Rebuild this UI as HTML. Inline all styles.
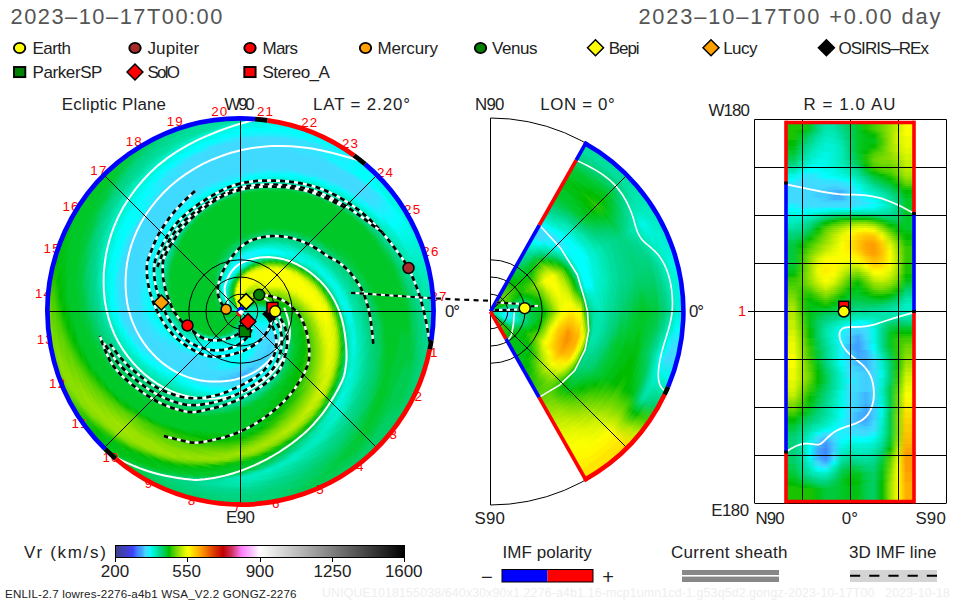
<!DOCTYPE html>
<html><head><meta charset="utf-8"><title>ENLIL solar wind velocity</title>
<style>
html,body{margin:0;padding:0;background:#fff}
body{width:960px;height:600px;overflow:hidden;position:relative;font-family:"Liberation Sans",sans-serif;color:#222}
.dk{position:absolute;border-radius:50%;overflow:hidden}
.dk i{position:absolute;border-radius:50%;display:block}
.rc{position:absolute;overflow:hidden}
.rc i{display:block;height:2px;width:100%}
.ov{position:absolute;left:0;top:0}
.t{position:absolute;white-space:nowrap;line-height:1}
</style></head>
<body>
<div class="dk" style="left:47.5px;top:118.5px;width:386.0px;height:386.0px">
<i style="left:0px;top:0px;right:0px;bottom:0px;background:conic-gradient(#00de9d 0deg,#00eab7 5deg,#00f8e8 10deg,#00f8e8 15deg,#00fefc 20deg,#00fefc 45deg,#00f8e8 50deg,#00f8e8 55deg,#00f1d3 60deg,#00f1d3 70deg,#00edc5 75deg,#00eab7 80deg,#00e5aa 85deg,#00de9d 90deg,#00d890 95deg,#00d890 105deg,#00d583 110deg,#00d276 115deg,#00d276 120deg,#00cf65 125deg,#00cf65 130deg,#00d276 135deg,#00d276 145deg,#00cf65 150deg,#00cf65 170deg,#00d276 175deg,#00d276 185deg,#00cf65 190deg,#00cf65 205deg,#00cd4f 210deg,#00ca3b 215deg,#00c828 220deg,#00c214 225deg,#00bc00 230deg,#1ac300 235deg,#1ac300 240deg,#56d200 245deg,#7ada00 250deg,#7ada00 265deg,#68d600 270deg,#56d200 275deg,#33c900 280deg,#00bc00 285deg,#00c214 290deg,#00c214 295deg,#00c828 300deg,#00c828 315deg,#00ca3b 320deg,#00cd4f 325deg,#00cf65 330deg,#00d276 335deg,#00d890 340deg,#00d890 345deg,#00de9d 350deg,#00de9d 360deg)"></i>
<i style="left:2px;top:2px;right:2px;bottom:2px;background:conic-gradient(#00de9d 0deg,#00f8e8 5deg,#00f8e8 10deg,#00fefc 15deg,#00fefc 30deg,#19f2ff 35deg,#00fefc 40deg,#00fefc 45deg,#00f8e8 50deg,#00f8e8 55deg,#00f1d3 60deg,#00f1d3 70deg,#00edc5 75deg,#00eab7 80deg,#00e5aa 85deg,#00de9d 90deg,#00d890 95deg,#00d890 100deg,#00d583 105deg,#00d276 110deg,#00d276 115deg,#00cf65 120deg,#00cf65 170deg,#00d276 175deg,#00d276 190deg,#00cf65 195deg,#00cf65 205deg,#00cd4f 210deg,#00ca3b 215deg,#00c828 220deg,#00c214 225deg,#00bc00 230deg,#1ac300 235deg,#44cd00 240deg,#68d600 245deg,#7ada00 250deg,#7ada00 265deg,#68d600 270deg,#44cd00 275deg,#1ac300 280deg,#00bc00 285deg,#00c214 290deg,#00c214 295deg,#00c828 300deg,#00c828 315deg,#00ca3b 320deg,#00cd4f 325deg,#00cf65 330deg,#00d583 335deg,#00d890 340deg,#00de9d 345deg,#00de9d 360deg)"></i>
<i style="left:4px;top:4px;right:4px;bottom:4px;background:conic-gradient(#00f8e8 0deg,#00f8e8 5deg,#00fefc 10deg,#00fefc 25deg,#19f2ff 30deg,#19f2ff 35deg,#00fefc 40deg,#00fefc 45deg,#00f8e8 50deg,#00f8e8 65deg,#00f1d3 70deg,#00edc5 75deg,#00eab7 80deg,#00e5aa 85deg,#00de9d 90deg,#00d890 95deg,#00d890 100deg,#00d583 105deg,#00d276 110deg,#00cf65 115deg,#00cf65 145deg,#00cd4f 150deg,#00cd4f 160deg,#00cf65 165deg,#00d276 170deg,#00d276 200deg,#00cf65 205deg,#00cd4f 210deg,#00cd4f 215deg,#00c828 220deg,#00c214 225deg,#00bc00 230deg,#1ac300 235deg,#56d200 240deg,#7ada00 245deg,#8ade00 250deg,#8ade00 255deg,#7ada00 260deg,#68d600 265deg,#56d200 270deg,#44cd00 275deg,#1ac300 280deg,#00c214 285deg,#00c214 290deg,#00c828 295deg,#00c828 315deg,#00ca3b 320deg,#00cd4f 325deg,#00d276 330deg,#00d583 335deg,#00d890 340deg,#00de9d 345deg,#00de9d 350deg,#00e5aa 355deg,#00f8e8 360deg)"></i>
<i style="left:6px;top:6px;right:6px;bottom:6px;background:conic-gradient(#00f8e8 0deg,#00f8e8 5deg,#00fefc 10deg,#00fefc 20deg,#19f2ff 25deg,#19f2ff 35deg,#00fefc 40deg,#00fefc 45deg,#00f8e8 50deg,#00f8e8 55deg,#00fefc 60deg,#00f8e8 65deg,#00f1d3 70deg,#00edc5 75deg,#00eab7 80deg,#00e5aa 85deg,#00de9d 90deg,#00d890 95deg,#00d583 100deg,#00d276 105deg,#00d276 110deg,#00cf65 115deg,#00cf65 140deg,#00cd4f 145deg,#00cd4f 160deg,#00cf65 165deg,#00d276 170deg,#00d276 175deg,#00d583 180deg,#00d583 185deg,#00d276 190deg,#00d276 200deg,#00cf65 205deg,#00cf65 210deg,#00ca3b 215deg,#00c214 220deg,#00c214 225deg,#00bc00 230deg,#33c900 235deg,#68d600 240deg,#8ade00 245deg,#8ade00 255deg,#7ada00 260deg,#68d600 265deg,#56d200 270deg,#33c900 275deg,#00bc00 280deg,#00c214 285deg,#00c214 290deg,#00c828 295deg,#00c828 315deg,#00ca3b 320deg,#00cf65 325deg,#00d583 330deg,#00d890 335deg,#00de9d 340deg,#00de9d 350deg,#00edc5 355deg,#00f8e8 360deg)"></i>
<i style="left:8px;top:8px;right:8px;bottom:8px;background:conic-gradient(#00f8e8 0deg,#00fefc 5deg,#00fefc 10deg,#19f2ff 15deg,#19f2ff 20deg,#36e1ff 25deg,#19f2ff 30deg,#19f2ff 35deg,#00fefc 40deg,#00fefc 60deg,#00f8e8 65deg,#00f1d3 70deg,#00edc5 75deg,#00eab7 80deg,#00e5aa 85deg,#00de9d 90deg,#00d890 95deg,#00d583 100deg,#00d276 105deg,#00cf65 110deg,#00cf65 115deg,#00cd4f 120deg,#00cf65 125deg,#00cf65 135deg,#00cd4f 140deg,#00cd4f 155deg,#00cf65 160deg,#00cf65 165deg,#00d276 170deg,#00d276 175deg,#00d583 180deg,#00d583 195deg,#00d276 200deg,#00d276 205deg,#00cf65 210deg,#00c828 215deg,#00c214 220deg,#00c214 225deg,#1ac300 230deg,#56d200 235deg,#8ade00 240deg,#8ade00 250deg,#7ada00 255deg,#68d600 260deg,#56d200 265deg,#44cd00 270deg,#1ac300 275deg,#00bc00 280deg,#00c214 285deg,#00c828 290deg,#00c828 310deg,#00ca3b 315deg,#00cd4f 320deg,#00d276 325deg,#00d583 330deg,#00d890 335deg,#00de9d 340deg,#00de9d 345deg,#00e5aa 350deg,#00f8e8 355deg,#00f8e8 360deg)"></i>
<i style="left:10px;top:10px;right:10px;bottom:10px;background:conic-gradient(#00fefc 0deg,#00fefc 5deg,#19f2ff 10deg,#19f2ff 15deg,#36e1ff 20deg,#36e1ff 25deg,#19f2ff 30deg,#19f2ff 35deg,#00fefc 40deg,#00fefc 45deg,#19f2ff 50deg,#19f2ff 55deg,#00fefc 60deg,#00f8e8 65deg,#00f1d3 70deg,#00edc5 75deg,#00e5aa 80deg,#00de9d 85deg,#00d890 90deg,#00d583 95deg,#00d276 100deg,#00cf65 105deg,#00cf65 110deg,#00cd4f 115deg,#00cd4f 120deg,#00cf65 125deg,#00cf65 130deg,#00cd4f 135deg,#00cd4f 145deg,#00ca3b 150deg,#00cd4f 155deg,#00cf65 160deg,#00d276 165deg,#00d276 170deg,#00d583 175deg,#00d583 200deg,#00d276 205deg,#00cd4f 210deg,#00c214 215deg,#00c214 225deg,#33c900 230deg,#7ada00 235deg,#8ade00 240deg,#8ade00 250deg,#7ada00 255deg,#68d600 260deg,#56d200 265deg,#33c900 270deg,#00bc00 275deg,#00c214 280deg,#00c214 285deg,#00c828 290deg,#00c828 305deg,#00ca3b 310deg,#00ca3b 315deg,#00cf65 320deg,#00d583 325deg,#00d890 330deg,#00de9d 335deg,#00de9d 340deg,#00e5aa 345deg,#00f1d3 350deg,#00f8e8 355deg,#00fefc 360deg)"></i>
<i style="left:12px;top:12px;right:12px;bottom:12px;background:conic-gradient(#00fefc 0deg,#19f2ff 5deg,#19f2ff 10deg,#36e1ff 15deg,#36e1ff 25deg,#19f2ff 30deg,#19f2ff 35deg,#00fefc 40deg,#19f2ff 45deg,#36e1ff 50deg,#19f2ff 55deg,#00fefc 60deg,#00f8e8 65deg,#00f1d3 70deg,#00eab7 75deg,#00e5aa 80deg,#00de9d 85deg,#00d890 90deg,#00d276 95deg,#00d276 100deg,#00cf65 105deg,#00cd4f 110deg,#00cd4f 120deg,#00cf65 125deg,#00cd4f 130deg,#00cd4f 135deg,#00ca3b 140deg,#00ca3b 145deg,#00cd4f 150deg,#00cf65 155deg,#00cf65 160deg,#00d276 165deg,#00d276 170deg,#00d583 175deg,#00d890 180deg,#00d890 190deg,#00d583 195deg,#00d583 200deg,#00cf65 205deg,#00c828 210deg,#00c214 215deg,#00c214 220deg,#1ac300 225deg,#56d200 230deg,#8ade00 235deg,#8ade00 245deg,#7ada00 250deg,#68d600 255deg,#68d600 260deg,#44cd00 265deg,#1ac300 270deg,#00bc00 275deg,#00c214 280deg,#00c828 285deg,#00c828 305deg,#00ca3b 310deg,#00cd4f 315deg,#00d276 320deg,#00d583 325deg,#00d890 330deg,#00de9d 335deg,#00e5aa 340deg,#00edc5 345deg,#00f8e8 350deg,#00f8e8 355deg,#00fefc 360deg)"></i>
<i style="left:14px;top:14px;right:14px;bottom:14px;background:conic-gradient(#00fefc 0deg,#19f2ff 5deg,#36e1ff 10deg,#40dbff 15deg,#36e1ff 20deg,#36e1ff 25deg,#19f2ff 30deg,#19f2ff 40deg,#40dbff 45deg,#36e1ff 50deg,#19f2ff 55deg,#00fefc 60deg,#00f8e8 65deg,#00f1d3 70deg,#00eab7 75deg,#00e5aa 80deg,#00d890 85deg,#00d583 90deg,#00d276 95deg,#00cf65 100deg,#00cd4f 105deg,#00cd4f 130deg,#00ca3b 135deg,#00ca3b 145deg,#00cd4f 150deg,#00cf65 155deg,#00cf65 160deg,#00d276 165deg,#00d583 170deg,#00d890 175deg,#00d890 195deg,#00d583 200deg,#00cd4f 205deg,#00c214 210deg,#00c214 215deg,#00bc00 220deg,#44cd00 225deg,#7ada00 230deg,#8ade00 235deg,#99e200 240deg,#8ade00 245deg,#7ada00 250deg,#68d600 255deg,#56d200 260deg,#33c900 265deg,#00bc00 270deg,#00c214 275deg,#00c214 280deg,#00c828 285deg,#00c828 300deg,#00ca3b 305deg,#00ca3b 310deg,#00cf65 315deg,#00d583 320deg,#00d890 325deg,#00de9d 330deg,#00de9d 335deg,#00eab7 340deg,#00f1d3 345deg,#00f8e8 350deg,#00fefc 355deg,#00fefc 360deg)"></i>
<i style="left:16px;top:16px;right:16px;bottom:16px;background:conic-gradient(#19f2ff 0deg,#36e1ff 5deg,#40dbff 10deg,#40dbff 15deg,#36e1ff 20deg,#36e1ff 25deg,#19f2ff 30deg,#19f2ff 35deg,#40dbff 40deg,#40dbff 45deg,#36e1ff 50deg,#19f2ff 55deg,#00fefc 60deg,#00f8e8 65deg,#00edc5 70deg,#00eab7 75deg,#00de9d 80deg,#00d890 85deg,#00d276 90deg,#00cf65 95deg,#00cd4f 100deg,#00ca3b 105deg,#00cd4f 110deg,#00cd4f 125deg,#00ca3b 130deg,#00ca3b 145deg,#00cd4f 150deg,#00cf65 155deg,#00d276 160deg,#00d583 165deg,#00d583 170deg,#00d890 175deg,#00de9d 180deg,#00de9d 190deg,#00d890 195deg,#00d276 200deg,#00c828 205deg,#00c214 210deg,#00c214 215deg,#1ac300 220deg,#68d600 225deg,#8ade00 230deg,#99e200 235deg,#99e200 240deg,#8ade00 245deg,#7ada00 250deg,#68d600 255deg,#44cd00 260deg,#1ac300 265deg,#00bc00 270deg,#00c214 275deg,#00c828 280deg,#00c828 295deg,#00ca3b 300deg,#00ca3b 305deg,#00cd4f 310deg,#00d276 315deg,#00d583 320deg,#00d890 325deg,#00de9d 330deg,#00e5aa 335deg,#00f1d3 340deg,#00f8e8 345deg,#00f8e8 350deg,#00fefc 355deg,#19f2ff 360deg)"></i>
<i style="left:18px;top:18px;right:18px;bottom:18px;background:conic-gradient(#36e1ff 0deg,#40dbff 5deg,#40dbff 15deg,#36e1ff 20deg,#36e1ff 30deg,#40dbff 35deg,#40dbff 45deg,#36e1ff 50deg,#19f2ff 55deg,#00fefc 60deg,#00f1d3 65deg,#00eab7 70deg,#00e5aa 75deg,#00d890 80deg,#00d583 85deg,#00cf65 90deg,#00cf65 95deg,#00cd4f 100deg,#00ca3b 105deg,#00cd4f 110deg,#00cd4f 120deg,#00ca3b 125deg,#00ca3b 130deg,#00c828 135deg,#00ca3b 140deg,#00cd4f 145deg,#00cf65 150deg,#00cf65 155deg,#00d276 160deg,#00d583 165deg,#00d890 170deg,#00de9d 175deg,#00e5aa 180deg,#00e5aa 185deg,#00de9d 190deg,#00d890 195deg,#00ca3b 200deg,#00c828 205deg,#00c214 210deg,#00bc00 215deg,#56d200 220deg,#8ade00 225deg,#99e200 230deg,#99e200 235deg,#8ade00 240deg,#7ada00 245deg,#68d600 250deg,#56d200 255deg,#33c900 260deg,#00bc00 265deg,#00c214 270deg,#00c828 275deg,#00c828 290deg,#00ca3b 295deg,#00ca3b 300deg,#00cd4f 305deg,#00cf65 310deg,#00d583 315deg,#00d890 320deg,#00de9d 325deg,#00e5aa 330deg,#00edc5 335deg,#00f1d3 340deg,#00f8e8 345deg,#00fefc 350deg,#19f2ff 355deg,#36e1ff 360deg)"></i>
<i style="left:20px;top:20px;right:20px;bottom:20px;background:conic-gradient(#40dbff 0deg,#40d9ff 5deg,#40dbff 10deg,#40dbff 15deg,#36e1ff 20deg,#36e1ff 25deg,#40dbff 30deg,#40dbff 50deg,#19f2ff 55deg,#00f8e8 60deg,#00edc5 65deg,#00eab7 70deg,#00de9d 75deg,#00d583 80deg,#00d276 85deg,#00cf65 90deg,#00cd4f 95deg,#00ca3b 100deg,#00ca3b 105deg,#00cd4f 110deg,#00cd4f 115deg,#00ca3b 120deg,#00ca3b 130deg,#00c828 135deg,#00ca3b 140deg,#00cd4f 145deg,#00cf65 150deg,#00d276 155deg,#00d583 160deg,#00d583 165deg,#00d890 170deg,#00de9d 175deg,#00e5aa 180deg,#00e5aa 185deg,#00de9d 190deg,#00d276 195deg,#00c828 200deg,#00c214 205deg,#00c214 210deg,#33c900 215deg,#7ada00 220deg,#99e200 225deg,#99e200 235deg,#8ade00 240deg,#7ada00 245deg,#68d600 250deg,#44cd00 255deg,#1ac300 260deg,#00bc00 265deg,#00c214 270deg,#00c828 275deg,#00c828 290deg,#00ca3b 295deg,#00ca3b 300deg,#00cf65 305deg,#00d276 310deg,#00d583 315deg,#00d890 320deg,#00de9d 325deg,#00eab7 330deg,#00f1d3 335deg,#00f8e8 340deg,#00fefc 345deg,#00fefc 350deg,#19f2ff 355deg,#40dbff 360deg)"></i>
<i style="left:22px;top:22px;right:22px;bottom:22px;background:conic-gradient(#40d9ff 0deg,#40d9ff 5deg,#40dbff 10deg,#40dbff 15deg,#36e1ff 20deg,#40dbff 25deg,#40dbff 35deg,#40d9ff 40deg,#40d9ff 45deg,#36e1ff 50deg,#19f2ff 55deg,#00f1d3 60deg,#00edc5 65deg,#00e5aa 70deg,#00d890 75deg,#00d583 80deg,#00cf65 85deg,#00cd4f 90deg,#00ca3b 95deg,#00ca3b 125deg,#00c828 130deg,#00ca3b 135deg,#00cd4f 140deg,#00cf65 145deg,#00cf65 150deg,#00d276 155deg,#00d583 160deg,#00d890 165deg,#00de9d 170deg,#00e5aa 175deg,#00eab7 180deg,#00e5aa 185deg,#00d890 190deg,#00c828 195deg,#00c828 200deg,#00c214 205deg,#00bc00 210deg,#56d200 215deg,#8ade00 220deg,#99e200 225deg,#99e200 230deg,#8ade00 235deg,#7ada00 240deg,#68d600 245deg,#56d200 250deg,#33c900 255deg,#00bc00 260deg,#00c214 265deg,#00c828 270deg,#00c828 285deg,#00ca3b 290deg,#00ca3b 295deg,#00cd4f 300deg,#00d276 305deg,#00d583 310deg,#00d890 315deg,#00de9d 320deg,#00e5aa 325deg,#00f1d3 330deg,#00f8e8 335deg,#00f8e8 340deg,#00fefc 345deg,#19f2ff 350deg,#36e1ff 355deg,#40d9ff 360deg)"></i>
<i style="left:24px;top:24px;right:24px;bottom:24px;background:conic-gradient(#40d9ff 0deg,#40d9ff 5deg,#40dbff 10deg,#40dbff 20deg,#40d9ff 25deg,#40d9ff 40deg,#40dbff 45deg,#36e1ff 50deg,#00fefc 55deg,#00f1d3 60deg,#00eab7 65deg,#00de9d 70deg,#00d583 75deg,#00d276 80deg,#00cd4f 85deg,#00ca3b 90deg,#00c828 95deg,#00ca3b 100deg,#00ca3b 120deg,#00c828 125deg,#00c828 130deg,#00ca3b 135deg,#00cd4f 140deg,#00cf65 145deg,#00d276 150deg,#00d583 155deg,#00d890 160deg,#00de9d 165deg,#00e5aa 170deg,#00eab7 175deg,#00eab7 180deg,#00e5aa 185deg,#00cd4f 190deg,#00c828 195deg,#00c214 200deg,#00bc00 205deg,#44cd00 210deg,#7ada00 215deg,#99e200 220deg,#99e200 230deg,#8ade00 235deg,#7ada00 240deg,#68d600 245deg,#44cd00 250deg,#1ac300 255deg,#00bc00 260deg,#00c214 265deg,#00c828 270deg,#00c828 280deg,#00ca3b 285deg,#00ca3b 290deg,#00cd4f 295deg,#00cf65 300deg,#00d276 305deg,#00d890 310deg,#00de9d 315deg,#00e5aa 320deg,#00edc5 325deg,#00f1d3 330deg,#00f8e8 335deg,#00fefc 340deg,#00fefc 345deg,#36e1ff 350deg,#40d9ff 355deg,#40d9ff 360deg)"></i>
<i style="left:26px;top:26px;right:26px;bottom:26px;background:conic-gradient(#40d9ff 0deg,#40d9ff 5deg,#40dbff 10deg,#40dbff 15deg,#40d9ff 20deg,#40d9ff 35deg,#40dbff 40deg,#40dbff 45deg,#19f2ff 50deg,#00f8e8 55deg,#00edc5 60deg,#00e5aa 65deg,#00d890 70deg,#00d276 75deg,#00cf65 80deg,#00ca3b 85deg,#00c828 90deg,#00c828 95deg,#00ca3b 100deg,#00ca3b 115deg,#00c828 120deg,#00c828 125deg,#00ca3b 130deg,#00cd4f 135deg,#00cf65 140deg,#00d276 145deg,#00d276 150deg,#00d583 155deg,#00d890 160deg,#00de9d 165deg,#00e5aa 170deg,#00eab7 175deg,#00edc5 180deg,#00d890 185deg,#00c828 190deg,#00c828 195deg,#00c214 200deg,#1ac300 205deg,#68d600 210deg,#99e200 215deg,#99e200 220deg,#a8e600 225deg,#99e200 230deg,#8ade00 235deg,#68d600 240deg,#56d200 245deg,#33c900 250deg,#00bc00 255deg,#00c214 260deg,#00c828 265deg,#00c828 275deg,#00ca3b 280deg,#00ca3b 285deg,#00cd4f 290deg,#00cf65 295deg,#00d276 300deg,#00d583 305deg,#00d890 310deg,#00de9d 315deg,#00eab7 320deg,#00f1d3 325deg,#00f8e8 330deg,#00f8e8 335deg,#00fefc 340deg,#19f2ff 345deg,#40dbff 350deg,#40d9ff 355deg,#40d9ff 360deg)"></i>
<i style="left:28px;top:28px;right:28px;bottom:28px;background:conic-gradient(#40d9ff 0deg,#40d9ff 35deg,#40dbff 40deg,#36e1ff 45deg,#00fefc 50deg,#00f1d3 55deg,#00eab7 60deg,#00de9d 65deg,#00d583 70deg,#00cf65 75deg,#00cd4f 80deg,#00ca3b 85deg,#00c828 90deg,#00c828 95deg,#00ca3b 100deg,#00ca3b 115deg,#00c828 120deg,#00c828 125deg,#00ca3b 130deg,#00cd4f 135deg,#00cf65 140deg,#00d276 145deg,#00d583 150deg,#00d890 155deg,#00de9d 160deg,#00e5aa 165deg,#00eab7 170deg,#00edc5 175deg,#00e5aa 180deg,#00ca3b 185deg,#00c828 190deg,#00c214 195deg,#00bc00 200deg,#56d200 205deg,#8ade00 210deg,#99e200 215deg,#99e200 225deg,#8ade00 230deg,#7ada00 235deg,#68d600 240deg,#44cd00 245deg,#1ac300 250deg,#00c214 255deg,#00c828 260deg,#00c828 275deg,#00ca3b 280deg,#00ca3b 285deg,#00cd4f 290deg,#00d276 295deg,#00d583 300deg,#00d890 305deg,#00de9d 310deg,#00eab7 315deg,#00edc5 320deg,#00f1d3 325deg,#00f8e8 330deg,#00fefc 335deg,#19f2ff 340deg,#36e1ff 345deg,#40dbff 350deg,#40d9ff 355deg,#40d9ff 360deg)"></i>
<i style="left:30px;top:30px;right:30px;bottom:30px;background:conic-gradient(#40d9ff 0deg,#40d9ff 30deg,#40dbff 35deg,#40dbff 40deg,#19f2ff 45deg,#00f8e8 50deg,#00edc5 55deg,#00e5aa 60deg,#00d890 65deg,#00d276 70deg,#00cd4f 75deg,#00ca3b 80deg,#00c828 85deg,#00c828 95deg,#00ca3b 100deg,#00ca3b 110deg,#00c828 115deg,#00c828 120deg,#00ca3b 125deg,#00cd4f 130deg,#00cf65 135deg,#00d276 140deg,#00d583 145deg,#00d890 150deg,#00de9d 155deg,#00de9d 160deg,#00e5aa 165deg,#00edc5 170deg,#00eab7 175deg,#00d276 180deg,#00c828 185deg,#00c828 190deg,#00c214 195deg,#33c900 200deg,#7ada00 205deg,#99e200 210deg,#99e200 225deg,#8ade00 230deg,#68d600 235deg,#56d200 240deg,#33c900 245deg,#00bc00 250deg,#00c214 255deg,#00c828 260deg,#00c828 270deg,#00ca3b 275deg,#00ca3b 280deg,#00cd4f 285deg,#00cf65 290deg,#00d276 295deg,#00d890 300deg,#00de9d 305deg,#00e5aa 310deg,#00edc5 315deg,#00f1d3 320deg,#00f8e8 325deg,#00fefc 330deg,#00fefc 335deg,#36e1ff 340deg,#40dbff 345deg,#40d9ff 350deg,#40d9ff 360deg)"></i>
<i style="left:32px;top:32px;right:32px;bottom:32px;background:conic-gradient(#40d9ff 0deg,#40d9ff 25deg,#40dbff 30deg,#40dbff 35deg,#19f2ff 40deg,#00fefc 45deg,#00f1d3 50deg,#00eab7 55deg,#00de9d 60deg,#00d583 65deg,#00cd4f 70deg,#00ca3b 75deg,#00c828 80deg,#00c828 120deg,#00ca3b 125deg,#00cd4f 130deg,#00cf65 135deg,#00d276 140deg,#00d583 145deg,#00d890 150deg,#00de9d 155deg,#00e5aa 160deg,#00eab7 165deg,#00edc5 170deg,#00de9d 175deg,#00ca3b 180deg,#00c828 185deg,#00c214 190deg,#00bc00 195deg,#68d600 200deg,#99e200 205deg,#99e200 220deg,#8ade00 225deg,#7ada00 230deg,#68d600 235deg,#44cd00 240deg,#1ac300 245deg,#00c214 250deg,#00c828 255deg,#00c828 265deg,#00ca3b 270deg,#00ca3b 275deg,#00cd4f 280deg,#00cf65 285deg,#00d276 290deg,#00d583 295deg,#00d890 300deg,#00de9d 305deg,#00eab7 310deg,#00f1d3 315deg,#00f8e8 320deg,#00f8e8 325deg,#00fefc 330deg,#19f2ff 335deg,#36e1ff 340deg,#40dbff 345deg,#40d9ff 350deg,#40d9ff 360deg)"></i>
<i style="left:34px;top:34px;right:34px;bottom:34px;background:conic-gradient(#40d9ff 0deg,#40d9ff 25deg,#40dbff 30deg,#36e1ff 35deg,#00fefc 40deg,#00f1d3 45deg,#00edc5 50deg,#00de9d 55deg,#00d583 60deg,#00cf65 65deg,#00ca3b 70deg,#00c828 75deg,#00c828 115deg,#00ca3b 120deg,#00cd4f 125deg,#00cf65 130deg,#00d276 135deg,#00d583 140deg,#00d890 145deg,#00de9d 150deg,#00e5aa 155deg,#00eab7 160deg,#00edc5 165deg,#00e5aa 170deg,#00cd4f 175deg,#00c828 180deg,#00c828 185deg,#00c214 190deg,#44cd00 195deg,#7ada00 200deg,#99e200 205deg,#99e200 215deg,#8ade00 220deg,#8ade00 225deg,#68d600 230deg,#56d200 235deg,#33c900 240deg,#00bc00 245deg,#00c828 250deg,#00c828 265deg,#00ca3b 270deg,#00ca3b 275deg,#00cf65 280deg,#00d276 285deg,#00d583 290deg,#00d890 295deg,#00de9d 300deg,#00eab7 305deg,#00edc5 310deg,#00f1d3 315deg,#00f8e8 320deg,#00fefc 325deg,#19f2ff 330deg,#36e1ff 335deg,#40dbff 340deg,#40dbff 345deg,#40d9ff 350deg,#40d9ff 360deg)"></i>
<i style="left:36px;top:36px;right:36px;bottom:36px;background:conic-gradient(#40d9ff 0deg,#40d9ff 20deg,#40dbff 25deg,#36e1ff 30deg,#19f2ff 35deg,#00f8e8 40deg,#00f1d3 45deg,#00e5aa 50deg,#00d890 55deg,#00d276 60deg,#00cd4f 65deg,#00ca3b 70deg,#00c828 75deg,#00c828 110deg,#00ca3b 115deg,#00cd4f 120deg,#00cf65 125deg,#00d276 130deg,#00d276 135deg,#00d583 140deg,#00d890 145deg,#00de9d 150deg,#00e5aa 155deg,#00edc5 160deg,#00eab7 165deg,#00d583 170deg,#00cd4f 175deg,#00c828 180deg,#00c214 185deg,#00bc00 190deg,#68d600 195deg,#99e200 200deg,#8ade00 205deg,#8ade00 215deg,#7ada00 220deg,#7ada00 225deg,#68d600 230deg,#44cd00 235deg,#1ac300 240deg,#00c214 245deg,#00c828 250deg,#00c828 260deg,#00ca3b 265deg,#00ca3b 270deg,#00cd4f 275deg,#00cf65 280deg,#00d276 285deg,#00d583 290deg,#00de9d 295deg,#00e5aa 300deg,#00edc5 305deg,#00f1d3 310deg,#00f8e8 315deg,#00f8e8 320deg,#00fefc 325deg,#19f2ff 330deg,#36e1ff 335deg,#40dbff 340deg,#40dbff 345deg,#40d9ff 350deg,#40d9ff 360deg)"></i>
<i style="left:38px;top:38px;right:38px;bottom:38px;background:conic-gradient(#40d9ff 0deg,#40d9ff 20deg,#40dbff 25deg,#19f2ff 30deg,#00fefc 35deg,#00f1d3 40deg,#00eab7 45deg,#00de9d 50deg,#00d583 55deg,#00cd4f 60deg,#00ca3b 65deg,#00c828 70deg,#00c828 110deg,#00ca3b 115deg,#00cd4f 120deg,#00cf65 125deg,#00d276 130deg,#00d583 135deg,#00d890 140deg,#00de9d 145deg,#00e5aa 150deg,#00eab7 155deg,#00edc5 160deg,#00de9d 165deg,#00cf65 170deg,#00ca3b 175deg,#00c828 180deg,#00c214 185deg,#56d200 190deg,#8ade00 195deg,#99e200 200deg,#8ade00 205deg,#8ade00 210deg,#7ada00 215deg,#7ada00 220deg,#68d600 225deg,#56d200 230deg,#33c900 235deg,#00bc00 240deg,#00c828 245deg,#00c828 260deg,#00ca3b 265deg,#00cd4f 270deg,#00cf65 275deg,#00d276 280deg,#00d583 285deg,#00d890 290deg,#00de9d 295deg,#00eab7 300deg,#00f1d3 305deg,#00f1d3 310deg,#00f8e8 315deg,#00fefc 320deg,#19f2ff 325deg,#36e1ff 330deg,#36e1ff 335deg,#40dbff 340deg,#40dbff 345deg,#40d9ff 350deg,#40d9ff 360deg)"></i>
<i style="left:40px;top:40px;right:40px;bottom:40px;background:conic-gradient(#40d9ff 0deg,#40d9ff 15deg,#40dbff 20deg,#36e1ff 25deg,#00fefc 30deg,#00f8e8 35deg,#00edc5 40deg,#00e5aa 45deg,#00d890 50deg,#00cf65 55deg,#00ca3b 60deg,#00c828 65deg,#00c828 105deg,#00ca3b 110deg,#00cd4f 115deg,#00cf65 120deg,#00d276 125deg,#00d583 130deg,#00d890 135deg,#00de9d 140deg,#00e5aa 145deg,#00eab7 150deg,#00edc5 155deg,#00eab7 160deg,#00d276 165deg,#00cd4f 170deg,#00c828 175deg,#00c214 180deg,#1ac300 185deg,#7ada00 190deg,#99e200 195deg,#8ade00 200deg,#8ade00 205deg,#7ada00 210deg,#7ada00 215deg,#68d600 220deg,#68d600 225deg,#44cd00 230deg,#00bc00 235deg,#00c828 240deg,#00c828 255deg,#00ca3b 260deg,#00ca3b 265deg,#00cf65 270deg,#00d276 275deg,#00d583 280deg,#00d890 285deg,#00de9d 290deg,#00eab7 295deg,#00edc5 300deg,#00f1d3 305deg,#00f8e8 310deg,#00f8e8 315deg,#00fefc 320deg,#19f2ff 325deg,#36e1ff 330deg,#36e1ff 335deg,#40dbff 340deg,#40d9ff 345deg,#40d9ff 360deg)"></i>
<i style="left:42px;top:42px;right:42px;bottom:42px;background:conic-gradient(#40d9ff 0deg,#40d9ff 10deg,#40dbff 15deg,#36e1ff 20deg,#19f2ff 25deg,#00f8e8 30deg,#00f1d3 35deg,#00eab7 40deg,#00de9d 45deg,#00d276 50deg,#00ca3b 55deg,#00c828 60deg,#00c828 105deg,#00ca3b 110deg,#00cf65 115deg,#00cf65 120deg,#00d276 125deg,#00d583 130deg,#00d890 135deg,#00de9d 140deg,#00eab7 145deg,#00edc5 150deg,#00eab7 155deg,#00de9d 160deg,#00d276 165deg,#00ca3b 170deg,#00c828 175deg,#00c214 180deg,#68d600 185deg,#99e200 190deg,#99e200 195deg,#8ade00 200deg,#7ada00 205deg,#68d600 210deg,#68d600 215deg,#56d200 220deg,#56d200 225deg,#1ac300 230deg,#00c214 235deg,#00c828 240deg,#00c828 255deg,#00ca3b 260deg,#00cd4f 265deg,#00cf65 270deg,#00d276 275deg,#00d583 280deg,#00d890 285deg,#00e5aa 290deg,#00edc5 295deg,#00f1d3 300deg,#00f8e8 305deg,#00f8e8 310deg,#00fefc 315deg,#00fefc 320deg,#19f2ff 325deg,#36e1ff 330deg,#36e1ff 335deg,#40d9ff 340deg,#40d9ff 360deg)"></i>
<i style="left:44px;top:44px;right:44px;bottom:44px;background:conic-gradient(#40d9ff 0deg,#40d9ff 10deg,#40dbff 15deg,#19f2ff 20deg,#00fefc 25deg,#00f1d3 30deg,#00edc5 35deg,#00de9d 40deg,#00d583 45deg,#00cd4f 50deg,#00c828 55deg,#00c828 100deg,#00ca3b 105deg,#00cd4f 110deg,#00cf65 115deg,#00d276 120deg,#00d583 125deg,#00d890 130deg,#00de9d 135deg,#00e5aa 140deg,#00eab7 145deg,#00edc5 150deg,#00e5aa 155deg,#00d583 160deg,#00cd4f 165deg,#00c828 170deg,#00c214 175deg,#44cd00 180deg,#8ade00 185deg,#99e200 190deg,#8ade00 195deg,#7ada00 200deg,#68d600 205deg,#68d600 210deg,#56d200 215deg,#56d200 220deg,#44cd00 225deg,#00bc00 230deg,#00c828 235deg,#00c828 250deg,#00ca3b 255deg,#00cd4f 260deg,#00cf65 265deg,#00d276 270deg,#00d583 275deg,#00d890 280deg,#00de9d 285deg,#00eab7 290deg,#00f1d3 295deg,#00f1d3 300deg,#00f8e8 305deg,#00fefc 310deg,#00fefc 315deg,#19f2ff 320deg,#19f2ff 325deg,#36e1ff 330deg,#40dbff 335deg,#40d9ff 340deg,#40d9ff 360deg)"></i>
<i style="left:46px;top:46px;right:46px;bottom:46px;background:conic-gradient(#40d9ff 0deg,#40d9ff 5deg,#40dbff 10deg,#36e1ff 15deg,#00fefc 20deg,#00f8e8 25deg,#00edc5 30deg,#00e5aa 35deg,#00d890 40deg,#00cf65 45deg,#00c828 50deg,#00c828 100deg,#00cd4f 105deg,#00cf65 110deg,#00d276 115deg,#00d276 120deg,#00d583 125deg,#00d890 130deg,#00de9d 135deg,#00eab7 140deg,#00edc5 145deg,#00eab7 150deg,#00de9d 155deg,#00d276 160deg,#00ca3b 165deg,#00c214 170deg,#1ac300 175deg,#68d600 180deg,#99e200 185deg,#8ade00 190deg,#7ada00 195deg,#68d600 200deg,#68d600 205deg,#56d200 210deg,#44cd00 215deg,#44cd00 220deg,#1ac300 225deg,#00c214 230deg,#00c828 235deg,#00c828 250deg,#00ca3b 255deg,#00cd4f 260deg,#00cf65 265deg,#00d583 270deg,#00d890 275deg,#00de9d 280deg,#00eab7 285deg,#00edc5 290deg,#00f1d3 295deg,#00f8e8 300deg,#00fefc 305deg,#00fefc 315deg,#19f2ff 320deg,#19f2ff 325deg,#40dbff 330deg,#40d9ff 335deg,#40d9ff 360deg)"></i>
<i style="left:48px;top:48px;right:48px;bottom:48px;background:conic-gradient(#40d9ff 0deg,#40dbff 5deg,#36e1ff 10deg,#19f2ff 15deg,#00fefc 20deg,#00f1d3 25deg,#00eab7 30deg,#00de9d 35deg,#00d276 40deg,#00ca3b 45deg,#00c828 50deg,#00c828 95deg,#00ca3b 100deg,#00cf65 105deg,#00cf65 110deg,#00d276 115deg,#00d583 120deg,#00d890 125deg,#00de9d 130deg,#00eab7 135deg,#00edc5 140deg,#00edc5 145deg,#00e5aa 150deg,#00d890 155deg,#00cd4f 160deg,#00c828 165deg,#00bc00 170deg,#68d600 175deg,#8ade00 180deg,#99e200 185deg,#8ade00 190deg,#7ada00 195deg,#68d600 200deg,#56d200 205deg,#44cd00 210deg,#44cd00 215deg,#33c900 220deg,#00bc00 225deg,#00c828 230deg,#00c828 245deg,#00ca3b 250deg,#00cd4f 255deg,#00cf65 260deg,#00d276 265deg,#00d583 270deg,#00d890 275deg,#00e5aa 280deg,#00edc5 285deg,#00f1d3 290deg,#00f8e8 295deg,#00f8e8 300deg,#00fefc 305deg,#00fefc 315deg,#19f2ff 320deg,#36e1ff 325deg,#40d9ff 330deg,#40d9ff 360deg)"></i>
<i style="left:50px;top:50px;right:50px;bottom:50px;background:conic-gradient(#40d9ff 0deg,#40dbff 5deg,#19f2ff 10deg,#00fefc 15deg,#00f8e8 20deg,#00edc5 25deg,#00e5aa 30deg,#00d583 35deg,#00cd4f 40deg,#00c828 45deg,#00c828 90deg,#00ca3b 95deg,#00cd4f 100deg,#00cf65 105deg,#00d276 110deg,#00d583 115deg,#00d890 120deg,#00de9d 125deg,#00e5aa 130deg,#00edc5 135deg,#00f1d3 140deg,#00eab7 145deg,#00e5aa 150deg,#00d276 155deg,#00ca3b 160deg,#00c214 165deg,#44cd00 170deg,#8ade00 175deg,#a8e600 180deg,#8ade00 185deg,#7ada00 190deg,#68d600 195deg,#56d200 200deg,#44cd00 205deg,#33c900 210deg,#33c900 215deg,#00bc00 220deg,#00c828 225deg,#00c828 245deg,#00ca3b 250deg,#00cd4f 255deg,#00d276 260deg,#00d583 265deg,#00d890 270deg,#00de9d 275deg,#00eab7 280deg,#00edc5 285deg,#00f1d3 290deg,#00f8e8 295deg,#00fefc 300deg,#00fefc 315deg,#19f2ff 320deg,#40dbff 325deg,#40d9ff 330deg,#40d9ff 360deg)"></i>
<i style="left:52px;top:52px;right:52px;bottom:52px;background:conic-gradient(#40dbff 0deg,#36e1ff 5deg,#19f2ff 10deg,#00f8e8 15deg,#00f1d3 20deg,#00e5aa 25deg,#00d890 30deg,#00cf65 35deg,#00c828 40deg,#00c828 90deg,#00cd4f 95deg,#00cf65 100deg,#00cf65 105deg,#00d276 110deg,#00d583 115deg,#00d890 120deg,#00de9d 125deg,#00eab7 130deg,#00f1d3 135deg,#00edc5 140deg,#00eab7 145deg,#00d890 150deg,#00cd4f 155deg,#00c214 160deg,#1ac300 165deg,#7ada00 170deg,#99e200 175deg,#99e200 180deg,#7ada00 185deg,#68d600 190deg,#56d200 195deg,#44cd00 200deg,#33c900 205deg,#33c900 210deg,#1ac300 215deg,#00c214 220deg,#00c828 225deg,#00c828 240deg,#00ca3b 245deg,#00cd4f 250deg,#00cf65 255deg,#00d276 260deg,#00d583 265deg,#00de9d 270deg,#00eab7 275deg,#00edc5 280deg,#00f1d3 285deg,#00f8e8 290deg,#00fefc 295deg,#00fefc 315deg,#40dbff 320deg,#40d9ff 325deg,#40d9ff 355deg,#40dbff 360deg)"></i>
<i style="left:54px;top:54px;right:54px;bottom:54px;background:conic-gradient(#36e1ff 0deg,#19f2ff 5deg,#00fefc 10deg,#00f1d3 15deg,#00eab7 20deg,#00de9d 25deg,#00d276 30deg,#00ca3b 35deg,#00c828 40deg,#00c828 85deg,#00ca3b 90deg,#00cf65 95deg,#00cf65 100deg,#00d276 105deg,#00d583 110deg,#00d890 115deg,#00de9d 120deg,#00e5aa 125deg,#00edc5 130deg,#00f1d3 135deg,#00edc5 140deg,#00eab7 145deg,#00cf65 150deg,#00c828 155deg,#00bc00 160deg,#68d600 165deg,#8ade00 170deg,#a8e600 175deg,#8ade00 180deg,#68d600 185deg,#56d200 190deg,#44cd00 195deg,#33c900 200deg,#1ac300 205deg,#1ac300 210deg,#00c214 215deg,#00c828 220deg,#00c828 240deg,#00ca3b 245deg,#00cf65 250deg,#00d276 255deg,#00d583 260deg,#00d890 265deg,#00e5aa 270deg,#00edc5 275deg,#00f1d3 280deg,#00f8e8 285deg,#00fefc 290deg,#00fefc 300deg,#19f2ff 305deg,#19f2ff 310deg,#36e1ff 315deg,#40d9ff 320deg,#40d9ff 350deg,#40dbff 355deg,#36e1ff 360deg)"></i>
<i style="left:56px;top:56px;right:56px;bottom:56px;background:conic-gradient(#36e1ff 0deg,#00fefc 5deg,#00f8e8 10deg,#00edc5 15deg,#00e5aa 20deg,#00d583 25deg,#00cd4f 30deg,#00c828 35deg,#00c828 85deg,#00cd4f 90deg,#00cf65 95deg,#00d276 100deg,#00d276 105deg,#00d583 110deg,#00de9d 115deg,#00e5aa 120deg,#00eab7 125deg,#00f1d3 130deg,#00f1d3 135deg,#00edc5 140deg,#00d890 145deg,#00ca3b 150deg,#00c214 155deg,#44cd00 160deg,#8ade00 165deg,#a8e600 170deg,#99e200 175deg,#7ada00 180deg,#56d200 185deg,#44cd00 190deg,#33c900 195deg,#1ac300 200deg,#1ac300 205deg,#00bc00 210deg,#00c828 215deg,#00c828 235deg,#00ca3b 240deg,#00cd4f 245deg,#00cf65 250deg,#00d276 255deg,#00d583 260deg,#00de9d 265deg,#00eab7 270deg,#00edc5 275deg,#00f8e8 280deg,#00f8e8 285deg,#00fefc 290deg,#00fefc 295deg,#19f2ff 300deg,#19f2ff 305deg,#36e1ff 310deg,#40d9ff 315deg,#40d9ff 345deg,#40dbff 350deg,#36e1ff 355deg,#36e1ff 360deg)"></i>
<i style="left:58px;top:58px;right:58px;bottom:58px;background:conic-gradient(#19f2ff 0deg,#00fefc 5deg,#00f1d3 10deg,#00eab7 15deg,#00d890 20deg,#00cd4f 25deg,#00c828 30deg,#00c828 80deg,#00ca3b 85deg,#00cf65 90deg,#00cf65 95deg,#00d276 100deg,#00d583 105deg,#00d890 110deg,#00de9d 115deg,#00eab7 120deg,#00edc5 125deg,#00f1d3 130deg,#00f8e8 135deg,#00e5aa 140deg,#00cf65 145deg,#00c214 150deg,#33c900 155deg,#7ada00 160deg,#99e200 165deg,#a8e600 170deg,#8ade00 175deg,#68d600 180deg,#44cd00 185deg,#33c900 190deg,#1ac300 195deg,#1ac300 200deg,#00bc00 205deg,#00c214 210deg,#00c828 215deg,#00c828 235deg,#00cd4f 240deg,#00cf65 245deg,#00d276 250deg,#00d583 255deg,#00d890 260deg,#00e5aa 265deg,#00edc5 270deg,#00f1d3 275deg,#00f8e8 280deg,#00fefc 285deg,#00fefc 290deg,#19f2ff 295deg,#19f2ff 300deg,#36e1ff 305deg,#40dbff 310deg,#40d9ff 315deg,#40d9ff 340deg,#40dbff 345deg,#40dbff 350deg,#36e1ff 355deg,#19f2ff 360deg)"></i>
<i style="left:60px;top:60px;right:60px;bottom:60px;background:conic-gradient(#00fefc 0deg,#00f8e8 5deg,#00eab7 10deg,#00de9d 15deg,#00cf65 20deg,#00ca3b 25deg,#00c828 30deg,#00c828 75deg,#00ca3b 80deg,#00cd4f 85deg,#00cf65 90deg,#00d276 95deg,#00d276 100deg,#00d890 105deg,#00de9d 110deg,#00e5aa 115deg,#00edc5 120deg,#00f1d3 125deg,#00f8e8 130deg,#00f1d3 135deg,#00d583 140deg,#00ca3b 145deg,#00bc00 150deg,#68d600 155deg,#99e200 160deg,#a8e600 165deg,#99e200 170deg,#7ada00 175deg,#44cd00 180deg,#33c900 185deg,#1ac300 190deg,#00bc00 195deg,#00bc00 200deg,#00c214 205deg,#00c828 210deg,#00c828 230deg,#00ca3b 235deg,#00cd4f 240deg,#00cf65 245deg,#00d276 250deg,#00d890 255deg,#00de9d 260deg,#00eab7 265deg,#00f1d3 270deg,#00f8e8 275deg,#00fefc 280deg,#00fefc 285deg,#19f2ff 290deg,#19f2ff 295deg,#36e1ff 300deg,#40dbff 305deg,#40d9ff 310deg,#40d9ff 340deg,#40dbff 345deg,#36e1ff 350deg,#19f2ff 355deg,#00fefc 360deg)"></i>
<i style="left:62px;top:62px;right:62px;bottom:62px;background:conic-gradient(#00fefc 0deg,#00edc5 5deg,#00e5aa 10deg,#00d276 15deg,#00ca3b 20deg,#00c828 25deg,#00c828 75deg,#00ca3b 80deg,#00cf65 85deg,#00cf65 90deg,#00d276 95deg,#00d583 100deg,#00d890 105deg,#00e5aa 110deg,#00eab7 115deg,#00edc5 120deg,#00f1d3 125deg,#00f1d3 130deg,#00de9d 135deg,#00cd4f 140deg,#00c214 145deg,#44cd00 150deg,#8ade00 155deg,#a8e600 160deg,#a8e600 165deg,#8ade00 170deg,#68d600 175deg,#33c900 180deg,#1ac300 185deg,#00bc00 190deg,#00bc00 195deg,#00c214 200deg,#00c828 205deg,#00c828 225deg,#00ca3b 230deg,#00cd4f 235deg,#00cf65 240deg,#00d276 245deg,#00d583 250deg,#00d890 255deg,#00e5aa 260deg,#00edc5 265deg,#00f8e8 270deg,#00fefc 275deg,#00fefc 280deg,#19f2ff 285deg,#19f2ff 290deg,#36e1ff 295deg,#40dbff 300deg,#40d9ff 305deg,#40d9ff 335deg,#40dbff 340deg,#36e1ff 345deg,#19f2ff 350deg,#00fefc 355deg,#00fefc 360deg)"></i>
<i style="left:64px;top:64px;right:64px;bottom:64px;background:conic-gradient(#00f1d3 0deg,#00eab7 5deg,#00d890 10deg,#00cd4f 15deg,#00c828 20deg,#00c828 70deg,#00ca3b 75deg,#00cd4f 80deg,#00cf65 85deg,#00d276 90deg,#00d276 95deg,#00d890 100deg,#00de9d 105deg,#00e5aa 110deg,#00edc5 115deg,#00f1d3 120deg,#00f1d3 125deg,#00eab7 130deg,#00d276 135deg,#00c828 140deg,#33c900 145deg,#8ade00 150deg,#a8e600 155deg,#b8ea00 160deg,#99e200 165deg,#7ada00 170deg,#44cd00 175deg,#1ac300 180deg,#00bc00 185deg,#00c214 190deg,#00c214 200deg,#00c828 205deg,#00c828 225deg,#00ca3b 230deg,#00cd4f 235deg,#00cf65 240deg,#00d276 245deg,#00d890 250deg,#00e5aa 255deg,#00eab7 260deg,#00f1d3 265deg,#00fefc 270deg,#00fefc 275deg,#19f2ff 280deg,#36e1ff 285deg,#36e1ff 290deg,#40dbff 295deg,#40d9ff 300deg,#40d9ff 330deg,#40dbff 335deg,#36e1ff 340deg,#19f2ff 345deg,#19f2ff 350deg,#00fefc 355deg,#00f1d3 360deg)"></i>
<i style="left:66px;top:66px;right:66px;bottom:66px;background:conic-gradient(#00edc5 0deg,#00de9d 5deg,#00cf65 10deg,#00ca3b 15deg,#00c828 20deg,#00c828 70deg,#00cd4f 75deg,#00cd4f 80deg,#00cf65 85deg,#00d276 90deg,#00d583 95deg,#00de9d 100deg,#00e5aa 105deg,#00eab7 110deg,#00edc5 115deg,#00f8e8 120deg,#00edc5 125deg,#00d890 130deg,#00ca3b 135deg,#00bc00 140deg,#7ada00 145deg,#99e200 150deg,#b8ea00 155deg,#a8e600 160deg,#8ade00 165deg,#68d600 170deg,#33c900 175deg,#00bc00 180deg,#00c214 185deg,#00c214 195deg,#00c828 200deg,#00c828 220deg,#00ca3b 225deg,#00cd4f 230deg,#00cf65 235deg,#00d276 240deg,#00d583 245deg,#00de9d 250deg,#00e5aa 255deg,#00edc5 260deg,#00f8e8 265deg,#00fefc 270deg,#19f2ff 275deg,#19f2ff 280deg,#36e1ff 285deg,#40dbff 290deg,#40d9ff 295deg,#40d9ff 325deg,#40dbff 330deg,#40dbff 335deg,#36e1ff 340deg,#19f2ff 345deg,#00fefc 350deg,#00f8e8 355deg,#00edc5 360deg)"></i>
<i style="left:68px;top:68px;right:68px;bottom:68px;background:conic-gradient(#00e5aa 0deg,#00d276 5deg,#00ca3b 10deg,#00c828 15deg,#00c828 65deg,#00ca3b 70deg,#00cd4f 75deg,#00cf65 80deg,#00d276 85deg,#00d583 90deg,#00d890 95deg,#00de9d 100deg,#00eab7 105deg,#00edc5 110deg,#00f1d3 115deg,#00f1d3 120deg,#00e5aa 125deg,#00cf65 130deg,#00c214 135deg,#56d200 140deg,#99e200 145deg,#b8ea00 150deg,#b8ea00 155deg,#99e200 160deg,#7ada00 165deg,#44cd00 170deg,#1ac300 175deg,#00c214 180deg,#00c214 190deg,#00c828 195deg,#00c828 220deg,#00ca3b 225deg,#00cd4f 230deg,#00cf65 235deg,#00d276 240deg,#00d890 245deg,#00e5aa 250deg,#00eab7 255deg,#00f1d3 260deg,#00f8e8 265deg,#19f2ff 270deg,#19f2ff 275deg,#36e1ff 280deg,#40dbff 285deg,#40d9ff 290deg,#40d9ff 320deg,#40dbff 325deg,#40dbff 330deg,#36e1ff 335deg,#19f2ff 340deg,#00fefc 345deg,#00f8e8 350deg,#00edc5 355deg,#00e5aa 360deg)"></i>
<i style="left:70px;top:70px;right:70px;bottom:70px;background:conic-gradient(#00d890 0deg,#00cd4f 5deg,#00c828 10deg,#00c828 60deg,#00ca3b 65deg,#00ca3b 70deg,#00cd4f 75deg,#00cf65 80deg,#00d276 85deg,#00d890 90deg,#00de9d 95deg,#00e5aa 100deg,#00eab7 105deg,#00f1d3 110deg,#00f1d3 115deg,#00eab7 120deg,#00d583 125deg,#00c828 130deg,#1ac300 135deg,#99e200 140deg,#a8e600 145deg,#b8ea00 150deg,#a8e600 155deg,#8ade00 160deg,#68d600 165deg,#33c900 170deg,#00bc00 175deg,#00c828 180deg,#00c828 215deg,#00ca3b 220deg,#00cd4f 225deg,#00cf65 230deg,#00d276 235deg,#00d583 240deg,#00de9d 245deg,#00eab7 250deg,#00edc5 255deg,#00f8e8 260deg,#00fefc 265deg,#19f2ff 270deg,#36e1ff 275deg,#40dbff 280deg,#40d9ff 285deg,#40d9ff 315deg,#40dbff 320deg,#40dbff 325deg,#36e1ff 330deg,#19f2ff 335deg,#00fefc 340deg,#00f8e8 345deg,#00f1d3 350deg,#00eab7 355deg,#00d890 360deg)"></i>
<i style="left:72px;top:72px;right:72px;bottom:72px;background:conic-gradient(#00cf65 0deg,#00c828 5deg,#00c828 60deg,#00ca3b 65deg,#00cd4f 70deg,#00cf65 75deg,#00d276 80deg,#00d583 85deg,#00de9d 90deg,#00e5aa 95deg,#00eab7 100deg,#00edc5 105deg,#00f8e8 110deg,#00edc5 115deg,#00de9d 120deg,#00cd4f 125deg,#00bc00 130deg,#68d600 135deg,#a8e600 140deg,#c7ef00 145deg,#b8ea00 150deg,#99e200 155deg,#7ada00 160deg,#44cd00 165deg,#1ac300 170deg,#00c214 175deg,#00c828 180deg,#00c828 215deg,#00cd4f 220deg,#00cd4f 225deg,#00cf65 230deg,#00d276 235deg,#00d890 240deg,#00e5aa 245deg,#00eab7 250deg,#00f1d3 255deg,#00f8e8 260deg,#19f2ff 265deg,#36e1ff 270deg,#40dbff 275deg,#40d9ff 280deg,#40d9ff 315deg,#40dbff 320deg,#36e1ff 325deg,#19f2ff 330deg,#00fefc 335deg,#00f8e8 340deg,#00f1d3 345deg,#00eab7 350deg,#00de9d 355deg,#00cf65 360deg)"></i>
<i style="left:74px;top:74px;right:74px;bottom:74px;background:conic-gradient(#00c828 0deg,#00c828 55deg,#00ca3b 60deg,#00ca3b 65deg,#00cf65 70deg,#00d276 75deg,#00d583 80deg,#00d890 85deg,#00de9d 90deg,#00e5aa 95deg,#00eab7 100deg,#00f8e8 105deg,#00f1d3 110deg,#00eab7 115deg,#00cf65 120deg,#00c214 125deg,#44cd00 130deg,#b8ea00 135deg,#b8ea00 140deg,#c7ef00 145deg,#a8e600 150deg,#8ade00 155deg,#68d600 160deg,#33c900 165deg,#00bc00 170deg,#00c214 175deg,#00c828 180deg,#00c828 210deg,#00ca3b 215deg,#00cd4f 220deg,#00cf65 225deg,#00d276 230deg,#00d583 235deg,#00de9d 240deg,#00eab7 245deg,#00edc5 250deg,#00f8e8 255deg,#00fefc 260deg,#36e1ff 265deg,#40d9ff 270deg,#40d9ff 305deg,#40dbff 310deg,#40dbff 320deg,#36e1ff 325deg,#19f2ff 330deg,#00fefc 335deg,#00f1d3 340deg,#00edc5 345deg,#00e5aa 350deg,#00d276 355deg,#00c828 360deg)"></i>
<i style="left:76px;top:76px;right:76px;bottom:76px;background:conic-gradient(#00c828 0deg,#00c828 55deg,#00ca3b 60deg,#00cd4f 65deg,#00cf65 70deg,#00d276 75deg,#00d890 80deg,#00de9d 85deg,#00e5aa 90deg,#00eab7 95deg,#00f1d3 100deg,#00f8e8 105deg,#00edc5 110deg,#00d890 115deg,#00ca3b 120deg,#33c900 125deg,#8ade00 130deg,#c7ef00 135deg,#c7ef00 140deg,#b8ea00 145deg,#99e200 150deg,#7ada00 155deg,#56d200 160deg,#1ac300 165deg,#00c214 170deg,#00c828 175deg,#00c828 205deg,#00ca3b 210deg,#00cd4f 215deg,#00cf65 220deg,#00cf65 225deg,#00d276 230deg,#00d890 235deg,#00e5aa 240deg,#00eab7 245deg,#00f1d3 250deg,#00f8e8 255deg,#19f2ff 260deg,#40dbff 265deg,#40d9ff 270deg,#40d9ff 300deg,#40dbff 305deg,#40dbff 315deg,#36e1ff 320deg,#19f2ff 325deg,#00fefc 330deg,#00f8e8 335deg,#00edc5 340deg,#00eab7 345deg,#00d890 350deg,#00cd4f 355deg,#00c828 360deg)"></i>
<i style="left:78px;top:78px;right:78px;bottom:78px;background:conic-gradient(#00c828 0deg,#00c828 55deg,#00ca3b 60deg,#00cf65 65deg,#00d276 70deg,#00d583 75deg,#00d890 80deg,#00de9d 85deg,#00e5aa 90deg,#00edc5 95deg,#00f8e8 100deg,#00f1d3 105deg,#00e5aa 110deg,#00cd4f 115deg,#00bc00 120deg,#68d600 125deg,#b8ea00 130deg,#c7ef00 135deg,#c7ef00 140deg,#a8e600 145deg,#8ade00 150deg,#68d600 155deg,#33c900 160deg,#1ac300 165deg,#00c214 170deg,#00c828 175deg,#00c828 205deg,#00cd4f 210deg,#00cf65 215deg,#00cf65 220deg,#00d276 225deg,#00d583 230deg,#00de9d 235deg,#00eab7 240deg,#00edc5 245deg,#00f8e8 250deg,#00fefc 255deg,#36e1ff 260deg,#40dbff 265deg,#40d9ff 270deg,#40d9ff 295deg,#40dbff 300deg,#40dbff 310deg,#36e1ff 315deg,#19f2ff 320deg,#00fefc 325deg,#00f8e8 330deg,#00f1d3 335deg,#00eab7 340deg,#00de9d 345deg,#00cf65 350deg,#00c828 355deg,#00c828 360deg)"></i>
<i style="left:80px;top:80px;right:80px;bottom:80px;background:conic-gradient(#00c828 0deg,#00c828 50deg,#00ca3b 55deg,#00cd4f 60deg,#00d276 65deg,#00d583 70deg,#00d890 75deg,#00de9d 80deg,#00e5aa 85deg,#00eab7 90deg,#00f8e8 95deg,#00f1d3 100deg,#00edc5 105deg,#00d276 110deg,#00c828 115deg,#44cd00 120deg,#a8e600 125deg,#c7ef00 130deg,#d5f400 135deg,#b8ea00 140deg,#99e200 145deg,#7ada00 150deg,#56d200 155deg,#33c900 160deg,#00bc00 165deg,#00c214 170deg,#00c828 175deg,#00c828 200deg,#00ca3b 205deg,#00cd4f 210deg,#00cf65 215deg,#00d276 220deg,#00d583 225deg,#00d890 230deg,#00e5aa 235deg,#00eab7 240deg,#00f1d3 245deg,#00f8e8 250deg,#19f2ff 255deg,#40dbff 260deg,#40dbff 265deg,#40d9ff 270deg,#40d9ff 290deg,#40dbff 295deg,#40dbff 305deg,#36e1ff 310deg,#19f2ff 315deg,#00fefc 320deg,#00f8e8 325deg,#00f1d3 330deg,#00eab7 335deg,#00e5aa 340deg,#00d276 345deg,#00c828 350deg,#00c828 360deg)"></i>
<i style="left:82px;top:82px;right:82px;bottom:82px;background:conic-gradient(#00c828 0deg,#00c828 50deg,#00ca3b 55deg,#00cf65 60deg,#00d276 65deg,#00d583 70deg,#00de9d 75deg,#00de9d 80deg,#00e5aa 85deg,#00f8e8 90deg,#00f8e8 95deg,#00f1d3 100deg,#00de9d 105deg,#00ca3b 110deg,#33c900 115deg,#8ade00 120deg,#c7ef00 125deg,#d5f400 130deg,#c7ef00 135deg,#a8e600 140deg,#8ade00 145deg,#68d600 150deg,#44cd00 155deg,#1ac300 160deg,#00bc00 165deg,#00c214 170deg,#00c828 175deg,#00c828 195deg,#00ca3b 200deg,#00cd4f 205deg,#00cf65 210deg,#00d276 215deg,#00d583 220deg,#00d583 225deg,#00de9d 230deg,#00eab7 235deg,#00edc5 240deg,#00f8e8 245deg,#00fefc 250deg,#36e1ff 255deg,#40dbff 260deg,#40d9ff 265deg,#40d9ff 285deg,#40dbff 290deg,#40dbff 295deg,#36e1ff 300deg,#36e1ff 305deg,#19f2ff 310deg,#00fefc 315deg,#00f8e8 320deg,#00f1d3 325deg,#00edc5 330deg,#00e5aa 335deg,#00d890 340deg,#00cd4f 345deg,#00c828 350deg,#00c828 360deg)"></i>
<i style="left:84px;top:84px;right:84px;bottom:84px;background:conic-gradient(#00c828 0deg,#00c828 50deg,#00cd4f 55deg,#00d276 60deg,#00d583 65deg,#00d890 70deg,#00de9d 75deg,#00e5aa 80deg,#00f1d3 85deg,#00f8e8 90deg,#00f8e8 95deg,#00eab7 100deg,#00cf65 105deg,#00bc00 110deg,#68d600 115deg,#b8ea00 120deg,#d5f400 125deg,#d5f400 130deg,#b8ea00 135deg,#99e200 140deg,#7ada00 145deg,#56d200 150deg,#33c900 155deg,#00bc00 160deg,#00c214 165deg,#00c214 170deg,#00c828 175deg,#00c828 195deg,#00cd4f 200deg,#00cf65 205deg,#00d276 210deg,#00d583 215deg,#00d583 220deg,#00d890 225deg,#00e5aa 230deg,#00edc5 235deg,#00f1d3 240deg,#00fefc 245deg,#19f2ff 250deg,#36e1ff 255deg,#40dbff 260deg,#40d9ff 265deg,#40d9ff 280deg,#40dbff 285deg,#40dbff 290deg,#36e1ff 295deg,#36e1ff 300deg,#19f2ff 305deg,#00fefc 310deg,#00fefc 315deg,#00f1d3 320deg,#00edc5 325deg,#00eab7 330deg,#00de9d 335deg,#00cf65 340deg,#00c828 345deg,#00c828 360deg)"></i>
<i style="left:86px;top:86px;right:86px;bottom:86px;background:conic-gradient(#00c828 0deg,#00c828 45deg,#00cd4f 50deg,#00cf65 55deg,#00d276 60deg,#00d890 65deg,#00de9d 70deg,#00e5aa 75deg,#00edc5 80deg,#00f8e8 85deg,#00f8e8 90deg,#00f1d3 95deg,#00d583 100deg,#00c828 105deg,#44cd00 110deg,#a8e600 115deg,#d5f400 120deg,#d5f400 125deg,#c7ef00 130deg,#a8e600 135deg,#8ade00 140deg,#68d600 145deg,#44cd00 150deg,#1ac300 155deg,#00bc00 160deg,#00c214 165deg,#00c214 170deg,#00c828 175deg,#00c828 190deg,#00ca3b 195deg,#00cf65 200deg,#00d276 205deg,#00d583 210deg,#00d583 215deg,#00d890 220deg,#00de9d 225deg,#00eab7 230deg,#00edc5 235deg,#00f8e8 240deg,#00fefc 245deg,#36e1ff 250deg,#36e1ff 255deg,#40dbff 260deg,#40d9ff 265deg,#40d9ff 275deg,#40dbff 280deg,#36e1ff 285deg,#36e1ff 295deg,#19f2ff 300deg,#19f2ff 305deg,#00fefc 310deg,#00f8e8 315deg,#00f1d3 320deg,#00eab7 325deg,#00de9d 330deg,#00d583 335deg,#00ca3b 340deg,#00c828 345deg,#00c828 360deg)"></i>
<i style="left:88px;top:88px;right:88px;bottom:88px;background:conic-gradient(#00c828 0deg,#00c828 40deg,#00ca3b 45deg,#00cf65 50deg,#00d276 55deg,#00d583 60deg,#00d890 65deg,#00de9d 70deg,#00eab7 75deg,#00f1d3 80deg,#00f8e8 85deg,#00f8e8 90deg,#00de9d 95deg,#00cd4f 100deg,#1ac300 105deg,#8ade00 110deg,#c7ef00 115deg,#d5f400 120deg,#d5f400 125deg,#b8ea00 130deg,#99e200 135deg,#7ada00 140deg,#56d200 145deg,#33c900 150deg,#1ac300 155deg,#00bc00 160deg,#00c214 165deg,#00c828 170deg,#00c828 190deg,#00cd4f 195deg,#00d276 200deg,#00d583 205deg,#00d583 210deg,#00d890 215deg,#00de9d 220deg,#00e5aa 225deg,#00edc5 230deg,#00f1d3 235deg,#00fefc 240deg,#19f2ff 245deg,#36e1ff 250deg,#40dbff 255deg,#40d9ff 260deg,#40d9ff 270deg,#40dbff 275deg,#36e1ff 280deg,#36e1ff 290deg,#19f2ff 295deg,#19f2ff 300deg,#00fefc 305deg,#00f8e8 310deg,#00f1d3 315deg,#00edc5 320deg,#00e5aa 325deg,#00d890 330deg,#00cd4f 335deg,#00c828 340deg,#00c828 360deg)"></i>
<i style="left:90px;top:90px;right:90px;bottom:90px;background:conic-gradient(#00c828 0deg,#00c828 40deg,#00cd4f 45deg,#00d276 50deg,#00d583 55deg,#00d890 60deg,#00de9d 65deg,#00e5aa 70deg,#00f1d3 75deg,#00f8e8 80deg,#00f8e8 85deg,#00edc5 90deg,#00cf65 95deg,#00c214 100deg,#68d600 105deg,#b8ea00 110deg,#d5f400 115deg,#e2f800 120deg,#d5f400 125deg,#b8ea00 130deg,#8ade00 135deg,#68d600 140deg,#44cd00 145deg,#1ac300 150deg,#00bc00 155deg,#00c214 160deg,#00c214 165deg,#00c828 170deg,#00c828 185deg,#00cd4f 190deg,#00cf65 195deg,#00d276 200deg,#00d583 205deg,#00d890 210deg,#00de9d 215deg,#00e5aa 220deg,#00eab7 225deg,#00f1d3 230deg,#00f8e8 235deg,#00fefc 240deg,#19f2ff 245deg,#36e1ff 250deg,#40dbff 255deg,#40d9ff 260deg,#40d9ff 265deg,#40dbff 270deg,#36e1ff 275deg,#36e1ff 285deg,#19f2ff 290deg,#19f2ff 295deg,#00fefc 300deg,#00f8e8 305deg,#00f1d3 310deg,#00edc5 315deg,#00eab7 320deg,#00de9d 325deg,#00d276 330deg,#00c828 335deg,#00c828 360deg)"></i>
<i style="left:92px;top:92px;right:92px;bottom:92px;background:conic-gradient(#00c828 0deg,#00c828 35deg,#00ca3b 40deg,#00cf65 45deg,#00d276 50deg,#00d890 55deg,#00de9d 60deg,#00e5aa 65deg,#00edc5 70deg,#00f8e8 75deg,#00f8e8 85deg,#00d583 90deg,#00c828 95deg,#44cd00 100deg,#a8e600 105deg,#d5f400 110deg,#e2f800 115deg,#e2f800 120deg,#c7ef00 125deg,#a8e600 130deg,#7ada00 135deg,#56d200 140deg,#33c900 145deg,#1ac300 150deg,#00bc00 155deg,#00c214 160deg,#00c214 165deg,#00c828 170deg,#00c828 180deg,#00ca3b 185deg,#00cf65 190deg,#00d276 195deg,#00d583 200deg,#00d890 205deg,#00de9d 210deg,#00e5aa 215deg,#00eab7 220deg,#00edc5 225deg,#00f1d3 230deg,#00fefc 235deg,#19f2ff 240deg,#36e1ff 245deg,#40dbff 250deg,#40d9ff 255deg,#40d9ff 260deg,#40dbff 265deg,#36e1ff 270deg,#36e1ff 275deg,#19f2ff 280deg,#19f2ff 290deg,#00fefc 295deg,#00f8e8 300deg,#00f1d3 305deg,#00edc5 310deg,#00eab7 315deg,#00de9d 320deg,#00d583 325deg,#00ca3b 330deg,#00c828 335deg,#00c828 360deg)"></i>
<i style="left:94px;top:94px;right:94px;bottom:94px;background:conic-gradient(#00c828 0deg,#00c828 35deg,#00cd4f 40deg,#00d276 45deg,#00d583 50deg,#00d890 55deg,#00de9d 60deg,#00eab7 65deg,#00f1d3 70deg,#00f8e8 75deg,#00f8e8 80deg,#00e5aa 85deg,#00cd4f 90deg,#1ac300 95deg,#8ade00 100deg,#c7ef00 105deg,#e2f800 110deg,#e2f800 115deg,#d5f400 120deg,#b8ea00 125deg,#99e200 130deg,#68d600 135deg,#56d200 140deg,#33c900 145deg,#00bc00 150deg,#00c214 155deg,#00c214 160deg,#00c828 165deg,#00c828 180deg,#00cd4f 185deg,#00d276 190deg,#00d583 195deg,#00d890 200deg,#00de9d 205deg,#00e5aa 210deg,#00eab7 215deg,#00edc5 220deg,#00f1d3 225deg,#00f8e8 230deg,#00fefc 235deg,#19f2ff 240deg,#36e1ff 245deg,#40dbff 250deg,#40d9ff 255deg,#40d9ff 260deg,#36e1ff 265deg,#36e1ff 270deg,#19f2ff 275deg,#19f2ff 285deg,#00fefc 290deg,#00f8e8 295deg,#00f8e8 300deg,#00f1d3 305deg,#00eab7 310deg,#00e5aa 315deg,#00d890 320deg,#00cf65 325deg,#00c828 330deg,#00c828 360deg)"></i>
<i style="left:96px;top:96px;right:96px;bottom:96px;background:conic-gradient(#00c828 0deg,#00c828 30deg,#00cd4f 35deg,#00cf65 40deg,#00d583 45deg,#00d890 50deg,#00de9d 55deg,#00e5aa 60deg,#00f1d3 65deg,#00f8e8 70deg,#00f8e8 75deg,#00edc5 80deg,#00d276 85deg,#00c214 90deg,#68d600 95deg,#c7ef00 100deg,#e2f800 105deg,#eefb00 110deg,#e2f800 115deg,#c7ef00 120deg,#a8e600 125deg,#8ade00 130deg,#68d600 135deg,#44cd00 140deg,#1ac300 145deg,#00bc00 150deg,#00c214 155deg,#00c214 160deg,#00c828 165deg,#00c828 175deg,#00ca3b 180deg,#00cf65 185deg,#00d583 190deg,#00d890 195deg,#00de9d 200deg,#00e5aa 205deg,#00eab7 210deg,#00edc5 215deg,#00f1d3 220deg,#00f1d3 225deg,#00fefc 230deg,#19f2ff 235deg,#36e1ff 240deg,#40dbff 245deg,#40d9ff 250deg,#40d9ff 255deg,#40dbff 260deg,#36e1ff 265deg,#19f2ff 270deg,#19f2ff 280deg,#00fefc 285deg,#00fefc 290deg,#00f8e8 295deg,#00f1d3 300deg,#00edc5 305deg,#00e5aa 310deg,#00de9d 315deg,#00d276 320deg,#00c828 325deg,#00c828 360deg)"></i>
<i style="left:98px;top:98px;right:98px;bottom:98px;background:conic-gradient(#00c828 0deg,#00c828 25deg,#00ca3b 30deg,#00cf65 35deg,#00d276 40deg,#00d583 45deg,#00d890 50deg,#00e5aa 55deg,#00edc5 60deg,#00f1d3 65deg,#00f8e8 70deg,#00f1d3 75deg,#00d890 80deg,#00ca3b 85deg,#44cd00 90deg,#a8e600 95deg,#d5f400 100deg,#e2f800 105deg,#eefb00 110deg,#d5f400 115deg,#b8ea00 120deg,#99e200 125deg,#7ada00 130deg,#56d200 135deg,#33c900 140deg,#1ac300 145deg,#00bc00 150deg,#00c214 155deg,#00c214 160deg,#00c828 165deg,#00c828 170deg,#00ca3b 175deg,#00cf65 180deg,#00d583 185deg,#00d890 190deg,#00de9d 195deg,#00e5aa 200deg,#00eab7 205deg,#00edc5 210deg,#00f1d3 215deg,#00f8e8 220deg,#00f8e8 225deg,#00fefc 230deg,#19f2ff 235deg,#36e1ff 240deg,#40dbff 245deg,#40d9ff 250deg,#40dbff 255deg,#36e1ff 260deg,#36e1ff 265deg,#19f2ff 270deg,#19f2ff 275deg,#00fefc 280deg,#00fefc 285deg,#00f8e8 290deg,#00f1d3 295deg,#00edc5 300deg,#00eab7 305deg,#00de9d 310deg,#00d583 315deg,#00ca3b 320deg,#00c828 325deg,#00c828 360deg)"></i>
<i style="left:100px;top:100px;right:100px;bottom:100px;background:conic-gradient(#00c828 0deg,#00c828 25deg,#00cd4f 30deg,#00d276 35deg,#00d583 40deg,#00d890 45deg,#00de9d 50deg,#00eab7 55deg,#00f1d3 60deg,#00f8e8 65deg,#00f8e8 70deg,#00e5aa 75deg,#00cd4f 80deg,#1ac300 85deg,#7ada00 90deg,#d5f400 95deg,#e2f800 100deg,#eefb00 105deg,#e2f800 110deg,#c7ef00 115deg,#a8e600 120deg,#8ade00 125deg,#68d600 130deg,#44cd00 135deg,#1ac300 140deg,#00bc00 145deg,#00c214 150deg,#00c214 155deg,#00c828 160deg,#00c828 170deg,#00cd4f 175deg,#00d276 180deg,#00d890 185deg,#00de9d 190deg,#00e5aa 195deg,#00eab7 200deg,#00edc5 205deg,#00f1d3 210deg,#00f8e8 215deg,#00f8e8 225deg,#19f2ff 230deg,#36e1ff 235deg,#40dbff 240deg,#40d9ff 245deg,#40dbff 250deg,#36e1ff 255deg,#36e1ff 260deg,#19f2ff 265deg,#00fefc 270deg,#00fefc 280deg,#00f8e8 285deg,#00f1d3 290deg,#00edc5 295deg,#00eab7 300deg,#00e5aa 305deg,#00d583 310deg,#00cf65 315deg,#00c828 320deg,#00c828 360deg)"></i>
<i style="left:102px;top:102px;right:102px;bottom:102px;background:conic-gradient(#00c828 0deg,#00c828 20deg,#00ca3b 25deg,#00cf65 30deg,#00d276 35deg,#00d890 40deg,#00de9d 45deg,#00e5aa 50deg,#00f1d3 55deg,#00f8e8 60deg,#00f8e8 65deg,#00edc5 70deg,#00d583 75deg,#00c214 80deg,#56d200 85deg,#c7ef00 90deg,#e2f800 95deg,#eefb00 100deg,#eefb00 105deg,#d5f400 110deg,#b8ea00 115deg,#99e200 120deg,#7ada00 125deg,#56d200 130deg,#33c900 135deg,#1ac300 140deg,#00bc00 145deg,#00c214 150deg,#00c214 155deg,#00c828 160deg,#00c828 165deg,#00ca3b 170deg,#00cf65 175deg,#00d583 180deg,#00de9d 185deg,#00e5aa 190deg,#00eab7 195deg,#00edc5 200deg,#00f1d3 205deg,#00f8e8 210deg,#00f8e8 215deg,#00fefc 220deg,#00fefc 225deg,#19f2ff 230deg,#40dbff 235deg,#40d9ff 240deg,#40dbff 245deg,#40dbff 250deg,#36e1ff 255deg,#36e1ff 260deg,#19f2ff 265deg,#00fefc 270deg,#00fefc 275deg,#00f8e8 280deg,#00f8e8 285deg,#00f1d3 290deg,#00edc5 295deg,#00e5aa 300deg,#00d890 305deg,#00d276 310deg,#00c828 315deg,#00c828 360deg)"></i>
<i style="left:104px;top:104px;right:104px;bottom:104px;background:conic-gradient(#00c828 0deg,#00c828 15deg,#00ca3b 20deg,#00cd4f 25deg,#00d276 30deg,#00d583 35deg,#00d890 40deg,#00de9d 45deg,#00edc5 50deg,#00f1d3 55deg,#00f8e8 60deg,#00f1d3 65deg,#00de9d 70deg,#00ca3b 75deg,#33c900 80deg,#99e200 85deg,#e2f800 90deg,#eefb00 95deg,#eefb00 100deg,#e2f800 105deg,#d5f400 110deg,#a8e600 115deg,#8ade00 120deg,#68d600 125deg,#44cd00 130deg,#33c900 135deg,#00bc00 140deg,#00c214 145deg,#00c214 150deg,#00c828 155deg,#00c828 160deg,#00ca3b 165deg,#00cf65 170deg,#00d583 175deg,#00de9d 180deg,#00e5aa 185deg,#00eab7 190deg,#00edc5 195deg,#00f1d3 200deg,#00f8e8 205deg,#00fefc 210deg,#00fefc 220deg,#19f2ff 225deg,#36e1ff 230deg,#40dbff 235deg,#40d9ff 240deg,#40dbff 245deg,#40dbff 250deg,#36e1ff 255deg,#19f2ff 260deg,#19f2ff 265deg,#00fefc 270deg,#00f8e8 275deg,#00f8e8 280deg,#00f1d3 285deg,#00edc5 290deg,#00eab7 295deg,#00de9d 300deg,#00d276 305deg,#00cd4f 310deg,#00c828 315deg,#00c828 360deg)"></i>
<i style="left:106px;top:106px;right:106px;bottom:106px;background:conic-gradient(#00c828 0deg,#00c828 15deg,#00cd4f 20deg,#00cf65 25deg,#00d276 30deg,#00d890 35deg,#00de9d 40deg,#00eab7 45deg,#00f1d3 50deg,#00f8e8 55deg,#00f1d3 60deg,#00eab7 65deg,#00cf65 70deg,#00bc00 75deg,#7ada00 80deg,#d5f400 85deg,#eefb00 90deg,#fbfe00 95deg,#eefb00 100deg,#e2f800 105deg,#b8ea00 110deg,#99e200 115deg,#7ada00 120deg,#56d200 125deg,#33c900 130deg,#1ac300 135deg,#00bc00 140deg,#00c214 145deg,#00c214 150deg,#00c828 155deg,#00c828 160deg,#00cd4f 165deg,#00d276 170deg,#00d890 175deg,#00e5aa 180deg,#00eab7 185deg,#00edc5 190deg,#00f1d3 195deg,#00f8e8 200deg,#00fefc 205deg,#00fefc 210deg,#19f2ff 215deg,#19f2ff 220deg,#36e1ff 225deg,#40dbff 230deg,#40d9ff 235deg,#40dbff 240deg,#40dbff 245deg,#36e1ff 250deg,#36e1ff 255deg,#19f2ff 260deg,#00fefc 265deg,#00f8e8 270deg,#00f8e8 275deg,#00f1d3 280deg,#00edc5 285deg,#00eab7 290deg,#00de9d 295deg,#00d276 300deg,#00cf65 305deg,#00c828 310deg,#00c828 360deg)"></i>
<i style="left:108px;top:108px;right:108px;bottom:108px;background:conic-gradient(#00c828 0deg,#00c828 10deg,#00ca3b 15deg,#00cf65 20deg,#00d276 25deg,#00d583 30deg,#00de9d 35deg,#00e5aa 40deg,#00f1d3 45deg,#00f1d3 50deg,#00f8e8 55deg,#00edc5 60deg,#00d583 65deg,#00c214 70deg,#56d200 75deg,#b8ea00 80deg,#eefb00 85deg,#fbfe00 90deg,#fbfe00 95deg,#e2f800 100deg,#d5f400 105deg,#a8e600 110deg,#8ade00 115deg,#68d600 120deg,#44cd00 125deg,#33c900 130deg,#00bc00 135deg,#00bc00 140deg,#00c214 145deg,#00c828 150deg,#00c828 155deg,#00ca3b 160deg,#00cf65 165deg,#00d583 170deg,#00de9d 175deg,#00eab7 180deg,#00edc5 185deg,#00f1d3 190deg,#00f8e8 195deg,#00fefc 200deg,#00fefc 205deg,#19f2ff 210deg,#19f2ff 215deg,#36e1ff 220deg,#40dbff 225deg,#40d9ff 230deg,#40dbff 235deg,#40dbff 245deg,#36e1ff 250deg,#19f2ff 255deg,#19f2ff 260deg,#00fefc 265deg,#00f8e8 270deg,#00f1d3 275deg,#00f1d3 280deg,#00edc5 285deg,#00e5aa 290deg,#00d583 295deg,#00cf65 300deg,#00c828 305deg,#00c828 360deg)"></i>
<i style="left:110px;top:110px;right:110px;bottom:110px;background:conic-gradient(#00c828 0deg,#00c828 10deg,#00cd4f 15deg,#00cf65 20deg,#00d583 25deg,#00d890 30deg,#00e5aa 35deg,#00edc5 40deg,#00f1d3 45deg,#00f8e8 50deg,#00f1d3 55deg,#00e5aa 60deg,#00ca3b 65deg,#33c900 70deg,#99e200 75deg,#e2f800 80deg,#eefb00 85deg,#fbfe00 90deg,#eefb00 95deg,#e2f800 100deg,#c7ef00 105deg,#99e200 110deg,#7ada00 115deg,#56d200 120deg,#33c900 125deg,#1ac300 130deg,#00bc00 135deg,#00c214 140deg,#00c214 145deg,#00c828 150deg,#00ca3b 155deg,#00cf65 160deg,#00d583 165deg,#00de9d 170deg,#00e5aa 175deg,#00edc5 180deg,#00f1d3 185deg,#00f8e8 190deg,#00fefc 195deg,#19f2ff 200deg,#19f2ff 205deg,#36e1ff 210deg,#36e1ff 215deg,#40dbff 220deg,#40d9ff 225deg,#40d9ff 230deg,#40dbff 235deg,#40dbff 240deg,#36e1ff 245deg,#36e1ff 250deg,#19f2ff 255deg,#00fefc 260deg,#00f8e8 265deg,#00f1d3 270deg,#00f1d3 275deg,#00edc5 280deg,#00eab7 285deg,#00d890 290deg,#00cf65 295deg,#00ca3b 300deg,#00c828 305deg,#00c828 360deg)"></i>
<i style="left:112px;top:112px;right:112px;bottom:112px;background:conic-gradient(#00c828 0deg,#00c828 5deg,#00ca3b 10deg,#00cf65 15deg,#00d276 20deg,#00d890 25deg,#00de9d 30deg,#00eab7 35deg,#00f1d3 40deg,#00f8e8 45deg,#00f8e8 50deg,#00edc5 55deg,#00cf65 60deg,#00bc00 65deg,#7ada00 70deg,#c7ef00 75deg,#eefb00 80deg,#fbfe00 85deg,#fbfe00 90deg,#eefb00 95deg,#d5f400 100deg,#a8e600 105deg,#8ade00 110deg,#68d600 115deg,#44cd00 120deg,#1ac300 125deg,#00bc00 130deg,#00bc00 135deg,#00c214 140deg,#00c828 145deg,#00ca3b 150deg,#00cd4f 155deg,#00d276 160deg,#00d890 165deg,#00e5aa 170deg,#00edc5 175deg,#00f1d3 180deg,#00f8e8 185deg,#00fefc 190deg,#19f2ff 195deg,#19f2ff 200deg,#36e1ff 205deg,#40dbff 210deg,#40dbff 215deg,#40d9ff 220deg,#40d9ff 225deg,#40dbff 230deg,#40dbff 240deg,#36e1ff 245deg,#36e1ff 250deg,#19f2ff 255deg,#00fefc 260deg,#00f8e8 265deg,#00f1d3 270deg,#00edc5 275deg,#00eab7 280deg,#00de9d 285deg,#00d276 290deg,#00cd4f 295deg,#00c828 300deg,#00c828 360deg)"></i>
<i style="left:114px;top:114px;right:114px;bottom:114px;background:conic-gradient(#00c828 0deg,#00ca3b 5deg,#00cd4f 10deg,#00d276 15deg,#00d583 20deg,#00de9d 25deg,#00eab7 30deg,#00f1d3 35deg,#00f8e8 40deg,#00f8e8 50deg,#00d890 55deg,#00c214 60deg,#56d200 65deg,#b8ea00 70deg,#eefb00 75deg,#eefb00 80deg,#fbfe00 85deg,#fbfe00 90deg,#e2f800 95deg,#c7ef00 100deg,#99e200 105deg,#7ada00 110deg,#56d200 115deg,#33c900 120deg,#1ac300 125deg,#00bc00 130deg,#00c214 135deg,#00c828 140deg,#00c828 145deg,#00cd4f 150deg,#00cf65 155deg,#00d583 160deg,#00de9d 165deg,#00eab7 170deg,#00f1d3 175deg,#00fefc 180deg,#00fefc 185deg,#19f2ff 190deg,#19f2ff 195deg,#36e1ff 200deg,#40dbff 205deg,#40dbff 210deg,#40d9ff 215deg,#40d9ff 225deg,#40dbff 230deg,#40dbff 240deg,#36e1ff 245deg,#19f2ff 250deg,#00fefc 255deg,#00f8e8 260deg,#00f1d3 265deg,#00f1d3 270deg,#00edc5 275deg,#00de9d 280deg,#00d276 285deg,#00cd4f 290deg,#00c828 295deg,#00c828 360deg)"></i>
<i style="left:116px;top:116px;right:116px;bottom:116px;background:conic-gradient(#00c828 0deg,#00ca3b 5deg,#00cf65 10deg,#00d276 15deg,#00d890 20deg,#00e5aa 25deg,#00edc5 30deg,#00f1d3 35deg,#00f8e8 40deg,#00f8e8 45deg,#00e5aa 50deg,#00ca3b 55deg,#33c900 60deg,#8ade00 65deg,#d5f400 70deg,#eefb00 75deg,#fbfe00 80deg,#fbfe00 85deg,#eefb00 90deg,#d5f400 95deg,#a8e600 100deg,#8ade00 105deg,#68d600 110deg,#44cd00 115deg,#1ac300 120deg,#00bc00 125deg,#00c214 130deg,#00c214 135deg,#00c828 140deg,#00ca3b 145deg,#00cf65 150deg,#00d583 155deg,#00de9d 160deg,#00e5aa 165deg,#00edc5 170deg,#00f8e8 175deg,#00fefc 180deg,#19f2ff 185deg,#36e1ff 190deg,#36e1ff 195deg,#40dbff 200deg,#40d9ff 205deg,#40d9ff 225deg,#40dbff 230deg,#40dbff 240deg,#36e1ff 245deg,#19f2ff 250deg,#00f8e8 255deg,#00f8e8 260deg,#00f1d3 265deg,#00edc5 270deg,#00e5aa 275deg,#00d890 280deg,#00cd4f 285deg,#00ca3b 290deg,#00c828 295deg,#00c828 360deg)"></i>
<i style="left:118px;top:118px;right:118px;bottom:118px;background:conic-gradient(#00ca3b 0deg,#00cd4f 5deg,#00d276 10deg,#00d583 15deg,#00de9d 20deg,#00edc5 25deg,#00f1d3 30deg,#00f8e8 35deg,#00f8e8 40deg,#00f1d3 45deg,#00d276 50deg,#00bc00 55deg,#68d600 60deg,#c7ef00 65deg,#eefb00 70deg,#fbfe00 75deg,#fbfe00 85deg,#e2f800 90deg,#c7ef00 95deg,#99e200 100deg,#7ada00 105deg,#56d200 110deg,#33c900 115deg,#00bc00 120deg,#00c214 125deg,#00c214 130deg,#00c828 135deg,#00ca3b 140deg,#00cd4f 145deg,#00d276 150deg,#00d890 155deg,#00e5aa 160deg,#00edc5 165deg,#00f1d3 170deg,#00fefc 175deg,#19f2ff 180deg,#36e1ff 185deg,#40dbff 190deg,#40dbff 195deg,#40d9ff 200deg,#40d9ff 225deg,#40dbff 230deg,#40dbff 235deg,#36e1ff 240deg,#36e1ff 245deg,#00fefc 250deg,#00f8e8 255deg,#00f1d3 260deg,#00f1d3 265deg,#00eab7 270deg,#00d890 275deg,#00cf65 280deg,#00ca3b 285deg,#00c828 290deg,#00c828 355deg,#00ca3b 360deg)"></i>
<i style="left:120px;top:120px;right:120px;bottom:120px;background:conic-gradient(#00cd4f 0deg,#00cf65 5deg,#00d583 10deg,#00de9d 15deg,#00eab7 20deg,#00f1d3 25deg,#00f8e8 30deg,#00fefc 35deg,#00f8e8 40deg,#00de9d 45deg,#00c214 50deg,#44cd00 55deg,#a8e600 60deg,#e2f800 65deg,#eefb00 70deg,#fbfe00 75deg,#fbfe00 80deg,#eefb00 85deg,#d5f400 90deg,#a8e600 95deg,#8ade00 100deg,#68d600 105deg,#44cd00 110deg,#1ac300 115deg,#00bc00 120deg,#00c214 125deg,#00c214 130deg,#00c828 135deg,#00cd4f 140deg,#00cf65 145deg,#00d583 150deg,#00de9d 155deg,#00eab7 160deg,#00f1d3 165deg,#00fefc 170deg,#19f2ff 175deg,#36e1ff 180deg,#40dbff 185deg,#40d9ff 190deg,#40d9ff 215deg,#40dbff 220deg,#40d9ff 225deg,#40dbff 230deg,#40dbff 235deg,#36e1ff 240deg,#19f2ff 245deg,#00f8e8 250deg,#00f8e8 255deg,#00f1d3 260deg,#00edc5 265deg,#00de9d 270deg,#00d276 275deg,#00ca3b 280deg,#00c828 285deg,#00c828 355deg,#00cd4f 360deg)"></i>
<i style="left:122px;top:122px;right:122px;bottom:122px;background:conic-gradient(#00cf65 0deg,#00d276 5deg,#00d890 10deg,#00e5aa 15deg,#00edc5 20deg,#00f8e8 25deg,#00fefc 30deg,#00fefc 35deg,#00eab7 40deg,#00cd4f 45deg,#33c900 50deg,#8ade00 55deg,#d5f400 60deg,#eefb00 65deg,#fbfe00 70deg,#fbfe00 80deg,#e2f800 85deg,#c7ef00 90deg,#99e200 95deg,#7ada00 100deg,#56d200 105deg,#33c900 110deg,#00bc00 115deg,#00c214 120deg,#00c214 125deg,#00c828 130deg,#00ca3b 135deg,#00cf65 140deg,#00d583 145deg,#00d890 150deg,#00e5aa 155deg,#00edc5 160deg,#00f8e8 165deg,#00fefc 170deg,#36e1ff 175deg,#40dbff 180deg,#40d9ff 185deg,#40ccff 190deg,#40ccff 195deg,#40d9ff 200deg,#40d9ff 210deg,#40dbff 215deg,#40dbff 220deg,#40d9ff 225deg,#40dbff 230deg,#40dbff 235deg,#19f2ff 240deg,#00fefc 245deg,#00f8e8 250deg,#00f1d3 255deg,#00f1d3 260deg,#00e5aa 265deg,#00d583 270deg,#00ca3b 275deg,#00ca3b 280deg,#00c828 285deg,#00c828 350deg,#00ca3b 355deg,#00cf65 360deg)"></i>
<i style="left:124px;top:124px;right:124px;bottom:124px;background:conic-gradient(#00cf65 0deg,#00d583 5deg,#00de9d 10deg,#00edc5 15deg,#00f8e8 20deg,#00fefc 25deg,#00fefc 30deg,#00f1d3 35deg,#00d583 40deg,#00bc00 45deg,#68d600 50deg,#d5f400 55deg,#eefb00 60deg,#fbfe00 65deg,#fbfe00 75deg,#eefb00 80deg,#d5f400 85deg,#b8ea00 90deg,#8ade00 95deg,#68d600 100deg,#44cd00 105deg,#1ac300 110deg,#00c214 115deg,#00c214 120deg,#00c828 125deg,#00c828 130deg,#00cd4f 135deg,#00d276 140deg,#00d890 145deg,#00e5aa 150deg,#00edc5 155deg,#00f8e8 160deg,#00fefc 165deg,#19f2ff 170deg,#40dbff 175deg,#40d9ff 180deg,#40ccff 185deg,#40ccff 195deg,#40d9ff 200deg,#40d9ff 205deg,#40dbff 210deg,#40dbff 220deg,#40d9ff 225deg,#40dbff 230deg,#36e1ff 235deg,#00fefc 240deg,#00f8e8 245deg,#00f8e8 250deg,#00f1d3 255deg,#00edc5 260deg,#00de9d 265deg,#00cd4f 270deg,#00c828 275deg,#00c828 345deg,#00ca3b 350deg,#00cd4f 355deg,#00cf65 360deg)"></i>
<i style="left:126px;top:126px;right:126px;bottom:126px;background:conic-gradient(#00d276 0deg,#00de9d 5deg,#00eab7 10deg,#00f1d3 15deg,#00fefc 20deg,#00fefc 25deg,#00f8e8 30deg,#00de9d 35deg,#00c828 40deg,#44cd00 45deg,#a8e600 50deg,#e2f800 55deg,#fbfe00 60deg,#fbfe00 75deg,#eefb00 80deg,#c7ef00 85deg,#99e200 90deg,#7ada00 95deg,#56d200 100deg,#33c900 105deg,#00bc00 110deg,#00c214 115deg,#00c828 120deg,#00c828 125deg,#00ca3b 130deg,#00cf65 135deg,#00d583 140deg,#00de9d 145deg,#00eab7 150deg,#00f1d3 155deg,#00fefc 160deg,#19f2ff 165deg,#40dbff 170deg,#40d9ff 175deg,#40ccff 180deg,#40b4ff 185deg,#40ccff 190deg,#40d9ff 195deg,#40d9ff 200deg,#40dbff 205deg,#40dbff 220deg,#40d9ff 225deg,#40dbff 230deg,#19f2ff 235deg,#00fefc 240deg,#00f8e8 245deg,#00f8e8 250deg,#00edc5 255deg,#00e5aa 260deg,#00d276 265deg,#00c828 270deg,#00c828 345deg,#00ca3b 350deg,#00cf65 355deg,#00d276 360deg)"></i>
<i style="left:128px;top:128px;right:128px;bottom:128px;background:conic-gradient(#00d890 0deg,#00e5aa 5deg,#00f1d3 10deg,#00fefc 15deg,#00fefc 25deg,#00eab7 30deg,#00d276 35deg,#1ac300 40deg,#7ada00 45deg,#e2f800 50deg,#eefb00 55deg,#fbfe00 60deg,#fbfe00 70deg,#eefb00 75deg,#e2f800 80deg,#b8ea00 85deg,#8ade00 90deg,#68d600 95deg,#44cd00 100deg,#1ac300 105deg,#00c214 110deg,#00c214 115deg,#00c828 120deg,#00ca3b 125deg,#00cd4f 130deg,#00d583 135deg,#00d890 140deg,#00e5aa 145deg,#00edc5 150deg,#00f8e8 155deg,#19f2ff 160deg,#36e1ff 165deg,#40d9ff 170deg,#40ccff 175deg,#40b4ff 180deg,#40ccff 185deg,#40ccff 190deg,#40d9ff 195deg,#40dbff 200deg,#36e1ff 205deg,#36e1ff 210deg,#40dbff 215deg,#40dbff 220deg,#40d9ff 225deg,#19f2ff 230deg,#00fefc 235deg,#00f8e8 240deg,#00f8e8 245deg,#00f1d3 250deg,#00eab7 255deg,#00d890 260deg,#00ca3b 265deg,#00c828 270deg,#00c828 340deg,#00ca3b 345deg,#00cd4f 350deg,#00cf65 355deg,#00d890 360deg)"></i>
<i style="left:130px;top:130px;right:130px;bottom:130px;background:conic-gradient(#00de9d 0deg,#00edc5 5deg,#00f8e8 10deg,#19f2ff 15deg,#00fefc 20deg,#00f1d3 25deg,#00d890 30deg,#00c214 35deg,#68d600 40deg,#c7ef00 45deg,#fbfe00 50deg,#fbfe00 70deg,#eefb00 75deg,#c7ef00 80deg,#99e200 85deg,#7ada00 90deg,#56d200 95deg,#1ac300 100deg,#00c214 105deg,#00c214 110deg,#00c828 115deg,#00c828 120deg,#00cd4f 125deg,#00d276 130deg,#00d890 135deg,#00e5aa 140deg,#00edc5 145deg,#00f8e8 150deg,#00fefc 155deg,#36e1ff 160deg,#40d9ff 165deg,#40ccff 170deg,#40b4ff 175deg,#40b4ff 180deg,#40ccff 185deg,#40d9ff 190deg,#40dbff 195deg,#36e1ff 200deg,#36e1ff 210deg,#40dbff 215deg,#40dbff 220deg,#36e1ff 225deg,#00fefc 230deg,#00fefc 235deg,#00f8e8 240deg,#00f8e8 245deg,#00edc5 250deg,#00e5aa 255deg,#00d276 260deg,#00ca3b 265deg,#00c828 270deg,#00c828 340deg,#00ca3b 345deg,#00cf65 350deg,#00d276 355deg,#00de9d 360deg)"></i>
<i style="left:132px;top:132px;right:132px;bottom:132px;background:conic-gradient(#00eab7 0deg,#00f8e8 5deg,#19f2ff 10deg,#19f2ff 15deg,#00f8e8 20deg,#00e5aa 25deg,#00cd4f 30deg,#33c900 35deg,#99e200 40deg,#fbfe00 45deg,#fbfe00 65deg,#eefb00 70deg,#e2f800 75deg,#b8ea00 80deg,#8ade00 85deg,#68d600 90deg,#33c900 95deg,#00bc00 100deg,#00c828 105deg,#00c828 115deg,#00ca3b 120deg,#00cf65 125deg,#00d583 130deg,#00de9d 135deg,#00eab7 140deg,#00f1d3 145deg,#00fefc 150deg,#36e1ff 155deg,#40d9ff 160deg,#40d9ff 165deg,#40ccff 170deg,#40b4ff 175deg,#40ccff 180deg,#40d9ff 185deg,#40d9ff 190deg,#36e1ff 195deg,#19f2ff 200deg,#36e1ff 205deg,#36e1ff 210deg,#40dbff 215deg,#36e1ff 220deg,#00fefc 225deg,#00fefc 235deg,#00f8e8 240deg,#00f1d3 245deg,#00eab7 250deg,#00d890 255deg,#00cf65 260deg,#00c828 265deg,#00c828 335deg,#00ca3b 340deg,#00cd4f 345deg,#00cf65 350deg,#00d890 355deg,#00eab7 360deg)"></i>
<i style="left:134px;top:134px;right:134px;bottom:134px;background:conic-gradient(#00f1d3 0deg,#19f2ff 5deg,#19f2ff 10deg,#00fefc 15deg,#00edc5 20deg,#00d890 25deg,#00bc00 30deg,#7ada00 35deg,#d5f400 40deg,#fbfe00 45deg,#fbfe00 65deg,#eefb00 70deg,#c7ef00 75deg,#a8e600 80deg,#7ada00 85deg,#44cd00 90deg,#1ac300 95deg,#00c214 100deg,#00c828 105deg,#00c828 115deg,#00cd4f 120deg,#00d276 125deg,#00d890 130deg,#00e5aa 135deg,#00edc5 140deg,#00f8e8 145deg,#19f2ff 150deg,#40d9ff 155deg,#40d9ff 160deg,#40ccff 165deg,#40b4ff 170deg,#40ccff 175deg,#40d9ff 180deg,#40d9ff 185deg,#36e1ff 190deg,#19f2ff 195deg,#19f2ff 200deg,#36e1ff 205deg,#36e1ff 215deg,#19f2ff 220deg,#00fefc 225deg,#00fefc 235deg,#00f8e8 240deg,#00edc5 245deg,#00e5aa 250deg,#00d276 255deg,#00cd4f 260deg,#00c828 265deg,#00c828 335deg,#00ca3b 340deg,#00cd4f 345deg,#00d583 350deg,#00e5aa 355deg,#00f1d3 360deg)"></i>
<i style="left:136px;top:136px;right:136px;bottom:136px;background:conic-gradient(#00fefc 0deg,#19f2ff 5deg,#19f2ff 10deg,#00f1d3 15deg,#00e5aa 20deg,#00c828 25deg,#56d200 30deg,#a8e600 35deg,#fbfe00 40deg,#fbfe00 65deg,#e2f800 70deg,#b8ea00 75deg,#99e200 80deg,#68d600 85deg,#33c900 90deg,#00bc00 95deg,#00c828 100deg,#00c828 110deg,#00ca3b 115deg,#00cf65 120deg,#00d583 125deg,#00de9d 130deg,#00edc5 135deg,#00f8e8 140deg,#19f2ff 145deg,#40dbff 150deg,#40d9ff 155deg,#40ccff 160deg,#40ccff 170deg,#40d9ff 175deg,#40d9ff 180deg,#40dbff 185deg,#19f2ff 190deg,#19f2ff 200deg,#36e1ff 205deg,#36e1ff 210deg,#19f2ff 215deg,#00fefc 220deg,#00fefc 230deg,#00f8e8 235deg,#00f1d3 240deg,#00eab7 245deg,#00d890 250deg,#00d276 255deg,#00c828 260deg,#00c828 330deg,#00ca3b 335deg,#00cd4f 340deg,#00cf65 345deg,#00d890 350deg,#00eab7 355deg,#00fefc 360deg)"></i>
<i style="left:138px;top:138px;right:138px;bottom:138px;background:conic-gradient(#36e1ff 0deg,#19f2ff 5deg,#00fefc 10deg,#00edc5 15deg,#00d276 20deg,#1ac300 25deg,#99e200 30deg,#e2f800 35deg,#fbfe00 40deg,#fbfe00 60deg,#eefb00 65deg,#d5f400 70deg,#a8e600 75deg,#8ade00 80deg,#56d200 85deg,#1ac300 90deg,#00c828 95deg,#00c828 105deg,#00ca3b 110deg,#00cd4f 115deg,#00d276 120deg,#00d890 125deg,#00eab7 130deg,#00f1d3 135deg,#00fefc 140deg,#40dbff 145deg,#40d9ff 150deg,#40ccff 155deg,#40ccff 165deg,#40d9ff 170deg,#40d9ff 175deg,#40dbff 180deg,#19f2ff 185deg,#00fefc 190deg,#19f2ff 195deg,#19f2ff 200deg,#36e1ff 205deg,#19f2ff 210deg,#00fefc 215deg,#00fefc 230deg,#00f8e8 235deg,#00edc5 240deg,#00e5aa 245deg,#00d583 250deg,#00cd4f 255deg,#00c828 260deg,#00c828 330deg,#00ca3b 335deg,#00cd4f 340deg,#00d583 345deg,#00e5aa 350deg,#00f8e8 355deg,#36e1ff 360deg)"></i>
<i style="left:140px;top:140px;right:140px;bottom:140px;background:conic-gradient(#19f2ff 0deg,#19f2ff 5deg,#00f1d3 10deg,#00e5aa 15deg,#00c214 20deg,#68d600 25deg,#b8ea00 30deg,#fbfe00 35deg,#fbfe00 60deg,#e2f800 65deg,#b8ea00 70deg,#99e200 75deg,#68d600 80deg,#33c900 85deg,#00c214 90deg,#00c828 95deg,#00c828 105deg,#00ca3b 110deg,#00cf65 115deg,#00d583 120deg,#00e5aa 125deg,#00edc5 130deg,#00fefc 135deg,#36e1ff 140deg,#40d9ff 145deg,#40ccff 150deg,#40ccff 160deg,#40d9ff 165deg,#40d9ff 170deg,#40dbff 175deg,#19f2ff 180deg,#00fefc 185deg,#00fefc 190deg,#19f2ff 195deg,#19f2ff 205deg,#00fefc 210deg,#00fefc 230deg,#00f1d3 235deg,#00eab7 240deg,#00de9d 245deg,#00d276 250deg,#00c828 255deg,#00c828 325deg,#00ca3b 330deg,#00cd4f 335deg,#00cf65 340deg,#00d890 345deg,#00edc5 350deg,#19f2ff 355deg,#19f2ff 360deg)"></i>
<i style="left:142px;top:142px;right:142px;bottom:142px;background:conic-gradient(#19f2ff 0deg,#00f8e8 5deg,#00edc5 10deg,#00ca3b 15deg,#33c900 20deg,#b8ea00 25deg,#eefb00 30deg,#fbfe00 35deg,#fbfe00 55deg,#eefb00 60deg,#d5f400 65deg,#a8e600 70deg,#8ade00 75deg,#56d200 80deg,#1ac300 85deg,#00c828 90deg,#00c828 100deg,#00ca3b 105deg,#00cd4f 110deg,#00d276 115deg,#00de9d 120deg,#00eab7 125deg,#00f8e8 130deg,#19f2ff 135deg,#40d9ff 140deg,#40ccff 145deg,#40ccff 155deg,#40d9ff 160deg,#40d9ff 165deg,#40dbff 170deg,#36e1ff 175deg,#00fefc 180deg,#00fefc 190deg,#19f2ff 195deg,#19f2ff 200deg,#00fefc 205deg,#00fefc 225deg,#00f8e8 230deg,#00f1d3 235deg,#00eab7 240deg,#00d890 245deg,#00ca3b 250deg,#00c828 255deg,#00c828 325deg,#00ca3b 330deg,#00cd4f 335deg,#00d583 340deg,#00e5aa 345deg,#00f8e8 350deg,#19f2ff 355deg,#19f2ff 360deg)"></i>
<i style="left:144px;top:144px;right:144px;bottom:144px;background:conic-gradient(#19f2ff 0deg,#00f1d3 5deg,#00d890 10deg,#00c214 15deg,#8ade00 20deg,#d5f400 25deg,#fbfe00 30deg,#fbfe00 55deg,#e2f800 60deg,#b8ea00 65deg,#99e200 70deg,#7ada00 75deg,#44cd00 80deg,#00c214 85deg,#00c828 90deg,#00c828 100deg,#00ca3b 105deg,#00cf65 110deg,#00d890 115deg,#00e5aa 120deg,#00f1d3 125deg,#00fefc 130deg,#40d9ff 135deg,#40d9ff 140deg,#40ccff 145deg,#40ccff 150deg,#40d9ff 155deg,#40d9ff 160deg,#40dbff 165deg,#36e1ff 170deg,#00fefc 175deg,#00fefc 190deg,#19f2ff 195deg,#00fefc 200deg,#00fefc 225deg,#00f8e8 230deg,#00edc5 235deg,#00e5aa 240deg,#00d583 245deg,#00c828 250deg,#00c828 320deg,#00ca3b 325deg,#00ca3b 330deg,#00cf65 335deg,#00d890 340deg,#00edc5 345deg,#00fefc 350deg,#19f2ff 355deg,#19f2ff 360deg)"></i>
<i style="left:146px;top:146px;right:146px;bottom:146px;background:conic-gradient(#00fefc 0deg,#00edc5 5deg,#00ca3b 10deg,#56d200 15deg,#c7ef00 20deg,#eefb00 25deg,#fbfe00 30deg,#fbfe00 55deg,#d5f400 60deg,#a8e600 65deg,#8ade00 70deg,#56d200 75deg,#1ac300 80deg,#00c214 85deg,#00c828 90deg,#00c828 95deg,#00ca3b 100deg,#00cd4f 105deg,#00d583 110deg,#00de9d 115deg,#00edc5 120deg,#00f8e8 125deg,#40dbff 130deg,#40d9ff 135deg,#40ccff 140deg,#40ccff 145deg,#40d9ff 150deg,#40d9ff 155deg,#40dbff 160deg,#36e1ff 165deg,#19f2ff 170deg,#00fefc 175deg,#00fefc 225deg,#00f8e8 230deg,#00edc5 235deg,#00de9d 240deg,#00c828 245deg,#00c828 320deg,#00ca3b 325deg,#00cd4f 330deg,#00d583 335deg,#00e5aa 340deg,#00f8e8 345deg,#19f2ff 350deg,#19f2ff 355deg,#00fefc 360deg)"></i>
<i style="left:148px;top:148px;right:148px;bottom:148px;background:conic-gradient(#00f8e8 0deg,#00cf65 5deg,#1ac300 10deg,#a8e600 15deg,#e2f800 20deg,#fbfe00 25deg,#fbfe00 50deg,#eefb00 55deg,#b8ea00 60deg,#99e200 65deg,#7ada00 70deg,#44cd00 75deg,#00bc00 80deg,#00c214 85deg,#00c828 90deg,#00c828 95deg,#00ca3b 100deg,#00d276 105deg,#00d890 110deg,#00eab7 115deg,#00f1d3 120deg,#19f2ff 125deg,#40dbff 130deg,#40d9ff 135deg,#40ccff 140deg,#40d9ff 145deg,#40d9ff 150deg,#40dbff 155deg,#40dbff 160deg,#19f2ff 165deg,#00fefc 170deg,#00fefc 225deg,#00f1d3 230deg,#00eab7 235deg,#00cd4f 240deg,#00c828 245deg,#00c828 320deg,#00ca3b 325deg,#00cf65 330deg,#00de9d 335deg,#00f1d3 340deg,#00fefc 345deg,#19f2ff 350deg,#00fefc 355deg,#00f8e8 360deg)"></i>
<i style="left:150px;top:150px;right:150px;bottom:150px;background:conic-gradient(#00de9d 0deg,#00c828 5deg,#68d600 10deg,#d5f400 15deg,#fbfe00 20deg,#fbfe00 50deg,#d5f400 55deg,#a8e600 60deg,#8ade00 65deg,#68d600 70deg,#33c900 75deg,#00bc00 80deg,#00c214 85deg,#00c828 90deg,#00ca3b 95deg,#00cd4f 100deg,#00d583 105deg,#00e5aa 110deg,#00edc5 115deg,#00f8e8 120deg,#36e1ff 125deg,#40dbff 130deg,#40d9ff 135deg,#40d9ff 145deg,#40dbff 150deg,#40dbff 155deg,#36e1ff 160deg,#00fefc 165deg,#00fefc 225deg,#00f1d3 230deg,#00de9d 235deg,#00c828 240deg,#00c828 320deg,#00cd4f 325deg,#00d583 330deg,#00eab7 335deg,#00f8e8 340deg,#19f2ff 345deg,#00fefc 350deg,#00f8e8 355deg,#00de9d 360deg)"></i>
<i style="left:152px;top:152px;right:152px;bottom:152px;background:conic-gradient(#00cd4f 0deg,#33c900 5deg,#c7ef00 10deg,#eefb00 15deg,#fbfe00 20deg,#fbfe00 45deg,#eefb00 50deg,#c7ef00 55deg,#a8e600 60deg,#7ada00 65deg,#44cd00 70deg,#1ac300 75deg,#00bc00 80deg,#00c214 85deg,#00c828 90deg,#00cd4f 95deg,#00d276 100deg,#00de9d 105deg,#00eab7 110deg,#00f1d3 115deg,#19f2ff 120deg,#36e1ff 125deg,#40dbff 130deg,#40d9ff 135deg,#40d9ff 140deg,#40dbff 145deg,#40dbff 150deg,#36e1ff 155deg,#19f2ff 160deg,#00fefc 165deg,#00fefc 210deg,#00f8e8 215deg,#00f8e8 220deg,#00fefc 225deg,#00eab7 230deg,#00c828 235deg,#00c828 315deg,#00ca3b 320deg,#00cf65 325deg,#00de9d 330deg,#00f1d3 335deg,#00fefc 340deg,#00fefc 350deg,#00edc5 355deg,#00cd4f 360deg)"></i>
<i style="left:154px;top:154px;right:154px;bottom:154px;background:conic-gradient(#00c214 0deg,#8ade00 5deg,#eefb00 10deg,#fbfe00 15deg,#fbfe00 30deg,#eefb00 35deg,#eefb00 40deg,#fbfe00 45deg,#d5f400 50deg,#b8ea00 55deg,#99e200 60deg,#68d600 65deg,#33c900 70deg,#1ac300 75deg,#00c214 80deg,#00c214 85deg,#00ca3b 90deg,#00cf65 95deg,#00d890 100deg,#00e5aa 105deg,#00edc5 110deg,#00fefc 115deg,#19f2ff 120deg,#36e1ff 125deg,#40dbff 130deg,#40d9ff 135deg,#40dbff 140deg,#40dbff 145deg,#36e1ff 150deg,#19f2ff 155deg,#19f2ff 160deg,#00fefc 165deg,#00fefc 205deg,#00f8e8 210deg,#00f8e8 220deg,#00f1d3 225deg,#00d276 230deg,#00c828 235deg,#00c828 315deg,#00cd4f 320deg,#00d583 325deg,#00edc5 330deg,#00fefc 335deg,#00fefc 345deg,#00f1d3 350deg,#00cf65 355deg,#00c214 360deg)"></i>
<i style="left:156px;top:156px;right:156px;bottom:156px;background:conic-gradient(#56d200 0deg,#e2f800 5deg,#eefb00 10deg,#fbfe00 15deg,#fbfe00 25deg,#eefb00 30deg,#e2f800 35deg,#eefb00 40deg,#eefb00 45deg,#c7ef00 50deg,#a8e600 55deg,#8ade00 60deg,#56d200 65deg,#33c900 70deg,#00bc00 75deg,#00c214 80deg,#00c828 85deg,#00cd4f 90deg,#00d276 95deg,#00de9d 100deg,#00edc5 105deg,#00f1d3 110deg,#00fefc 115deg,#19f2ff 120deg,#36e1ff 125deg,#40dbff 130deg,#40dbff 145deg,#36e1ff 150deg,#19f2ff 155deg,#19f2ff 160deg,#00fefc 165deg,#00fefc 170deg,#00f8e8 175deg,#00fefc 180deg,#00fefc 200deg,#00f8e8 205deg,#00f1d3 210deg,#00f8e8 215deg,#00f1d3 220deg,#00e5aa 225deg,#00c828 230deg,#00c828 315deg,#00d276 320deg,#00e5aa 325deg,#00f8e8 330deg,#00fefc 335deg,#00fefc 340deg,#00f8e8 345deg,#00d890 350deg,#00ca3b 355deg,#56d200 360deg)"></i>
<i style="left:158px;top:158px;right:158px;bottom:158px;background:conic-gradient(#a8e600 0deg,#fbfe00 5deg,#fbfe00 25deg,#e2f800 30deg,#e2f800 40deg,#d5f400 45deg,#b8ea00 50deg,#99e200 55deg,#7ada00 60deg,#44cd00 65deg,#1ac300 70deg,#00bc00 75deg,#00c214 80deg,#00ca3b 85deg,#00cf65 90deg,#00d890 95deg,#00eab7 100deg,#00edc5 105deg,#00f8e8 110deg,#00fefc 115deg,#19f2ff 120deg,#36e1ff 125deg,#36e1ff 130deg,#40dbff 135deg,#40dbff 140deg,#36e1ff 145deg,#19f2ff 150deg,#19f2ff 160deg,#00fefc 165deg,#00f8e8 170deg,#00f8e8 175deg,#00fefc 180deg,#00fefc 195deg,#00f8e8 200deg,#00f1d3 205deg,#00f1d3 215deg,#00eab7 220deg,#00c828 225deg,#00c828 310deg,#00cd4f 315deg,#00d890 320deg,#00f1d3 325deg,#00fefc 330deg,#00fefc 335deg,#00f8e8 340deg,#00eab7 345deg,#00cd4f 350deg,#00bc00 355deg,#a8e600 360deg)"></i>
<i style="left:160px;top:160px;right:160px;bottom:160px;background:conic-gradient(#fbfe00 0deg,#fbfe00 20deg,#eefb00 25deg,#d5f400 30deg,#d5f400 40deg,#c7ef00 45deg,#a8e600 50deg,#8ade00 55deg,#56d200 60deg,#33c900 65deg,#1ac300 70deg,#00bc00 75deg,#00c828 80deg,#00cd4f 85deg,#00d583 90deg,#00e5aa 95deg,#00eab7 100deg,#00f1d3 105deg,#00f8e8 110deg,#00fefc 115deg,#19f2ff 120deg,#36e1ff 125deg,#36e1ff 130deg,#40dbff 135deg,#36e1ff 140deg,#36e1ff 145deg,#19f2ff 150deg,#19f2ff 155deg,#00fefc 160deg,#00f8e8 165deg,#00f8e8 175deg,#00fefc 180deg,#00fefc 190deg,#00f8e8 195deg,#00f1d3 200deg,#00f1d3 210deg,#00eab7 215deg,#00d276 220deg,#00c828 225deg,#00c828 305deg,#00ca3b 310deg,#00d276 315deg,#00eab7 320deg,#00fefc 325deg,#00fefc 335deg,#00edc5 340deg,#00d276 345deg,#00c828 350deg,#56d200 355deg,#fbfe00 360deg)"></i>
<i style="left:162px;top:162px;right:162px;bottom:162px;background:conic-gradient(#fbfe00 0deg,#fbfe00 20deg,#d5f400 25deg,#c7ef00 30deg,#c7ef00 35deg,#b8ea00 40deg,#b8ea00 45deg,#99e200 50deg,#7ada00 55deg,#56d200 60deg,#33c900 65deg,#00bc00 70deg,#00c214 75deg,#00ca3b 80deg,#00d276 85deg,#00de9d 90deg,#00eab7 95deg,#00edc5 100deg,#00f1d3 105deg,#00f8e8 110deg,#00fefc 115deg,#19f2ff 120deg,#19f2ff 125deg,#36e1ff 130deg,#40dbff 135deg,#36e1ff 140deg,#36e1ff 145deg,#19f2ff 150deg,#19f2ff 155deg,#00fefc 160deg,#00f8e8 165deg,#00f8e8 175deg,#00fefc 180deg,#00fefc 185deg,#00f8e8 190deg,#00f1d3 195deg,#00edc5 200deg,#00edc5 205deg,#00eab7 210deg,#00de9d 215deg,#00c828 220deg,#00c828 300deg,#00ca3b 305deg,#00cf65 310deg,#00de9d 315deg,#00f8e8 320deg,#00fefc 325deg,#00fefc 330deg,#00f1d3 335deg,#00d890 340deg,#00ca3b 345deg,#1ac300 350deg,#a8e600 355deg,#fbfe00 360deg)"></i>
<i style="left:164px;top:164px;right:164px;bottom:164px;background:conic-gradient(#fbfe00 0deg,#fbfe00 15deg,#e2f800 20deg,#c7ef00 25deg,#c7ef00 30deg,#a8e600 35deg,#c7ef00 40deg,#a8e600 45deg,#8ade00 50deg,#68d600 55deg,#44cd00 60deg,#1ac300 65deg,#00bc00 70deg,#00c828 75deg,#00cd4f 80deg,#00d583 85deg,#00e5aa 90deg,#00eab7 95deg,#00edc5 100deg,#00f1d3 105deg,#00f8e8 110deg,#00fefc 115deg,#19f2ff 120deg,#19f2ff 125deg,#36e1ff 130deg,#36e1ff 145deg,#19f2ff 150deg,#00fefc 155deg,#00f8e8 160deg,#00f8e8 175deg,#00fefc 180deg,#00fefc 185deg,#00f1d3 190deg,#00edc5 195deg,#00edc5 200deg,#00eab7 205deg,#00de9d 210deg,#00ca3b 215deg,#00ca3b 220deg,#00c828 225deg,#00c828 290deg,#00ca3b 295deg,#00ca3b 300deg,#00cd4f 305deg,#00d583 310deg,#00f1d3 315deg,#00fefc 320deg,#00fefc 325deg,#00f1d3 330deg,#00e5aa 335deg,#00cd4f 340deg,#00c214 345deg,#56d200 350deg,#fbfe00 355deg,#fbfe00 360deg)"></i>
<i style="left:166px;top:166px;right:166px;bottom:166px;background:conic-gradient(#fbfe00 0deg,#fbfe00 10deg,#eefb00 15deg,#c7ef00 20deg,#b8ea00 25deg,#a8e600 30deg,#99e200 35deg,#b8ea00 40deg,#a8e600 45deg,#8ade00 50deg,#56d200 55deg,#33c900 60deg,#1ac300 65deg,#00c214 70deg,#00ca3b 75deg,#00d276 80deg,#00de9d 85deg,#00e5aa 90deg,#00eab7 95deg,#00edc5 100deg,#00f1d3 105deg,#00f8e8 110deg,#00fefc 115deg,#00fefc 120deg,#19f2ff 125deg,#36e1ff 130deg,#36e1ff 140deg,#19f2ff 145deg,#00fefc 150deg,#00f8e8 155deg,#00f1d3 160deg,#00f1d3 170deg,#00f8e8 175deg,#00fefc 180deg,#00f1d3 185deg,#00edc5 190deg,#00eab7 195deg,#00eab7 200deg,#00de9d 205deg,#00d276 210deg,#00ca3b 215deg,#00ca3b 220deg,#00c828 225deg,#00c828 255deg,#00ca3b 260deg,#00ca3b 265deg,#00c828 270deg,#00c828 285deg,#00ca3b 290deg,#00ca3b 300deg,#00d276 305deg,#00eab7 310deg,#00fefc 315deg,#00fefc 320deg,#00f8e8 325deg,#00eab7 330deg,#00d276 335deg,#00ca3b 340deg,#1ac300 345deg,#99e200 350deg,#fbfe00 355deg,#fbfe00 360deg)"></i>
<i style="left:168px;top:168px;right:168px;bottom:168px;background:conic-gradient(#fbfe00 0deg,#fbfe00 10deg,#d5f400 15deg,#b8ea00 20deg,#a8e600 25deg,#8ade00 30deg,#c7ef00 35deg,#a8e600 40deg,#99e200 45deg,#7ada00 50deg,#44cd00 55deg,#33c900 60deg,#00bc00 65deg,#00c828 70deg,#00cf65 75deg,#00d890 80deg,#00e5aa 85deg,#00e5aa 90deg,#00eab7 95deg,#00edc5 100deg,#00f1d3 105deg,#00f8e8 110deg,#00f8e8 115deg,#00fefc 120deg,#19f2ff 125deg,#19f2ff 130deg,#36e1ff 135deg,#36e1ff 140deg,#19f2ff 145deg,#00f8e8 150deg,#00f1d3 155deg,#00f1d3 170deg,#00f8e8 175deg,#00f8e8 180deg,#00edc5 185deg,#00eab7 190deg,#00e5aa 195deg,#00de9d 200deg,#00d890 205deg,#00ca3b 210deg,#00ca3b 215deg,#00c828 220deg,#00c828 250deg,#00ca3b 255deg,#00ca3b 260deg,#00c828 265deg,#00c828 280deg,#00ca3b 285deg,#00ca3b 295deg,#00cf65 300deg,#00de9d 305deg,#00f8e8 310deg,#00fefc 315deg,#00fefc 320deg,#00edc5 325deg,#00d583 330deg,#00cd4f 335deg,#00c214 340deg,#56d200 345deg,#fbfe00 350deg,#fbfe00 360deg)"></i>
<i style="left:170px;top:170px;right:170px;bottom:170px;background:conic-gradient(#fbfe00 0deg,#fbfe00 5deg,#eefb00 10deg,#b8ea00 15deg,#a8e600 20deg,#8ade00 25deg,#7ada00 30deg,#b8ea00 35deg,#99e200 40deg,#8ade00 45deg,#68d600 50deg,#44cd00 55deg,#1ac300 60deg,#00c214 65deg,#00ca3b 70deg,#00d276 75deg,#00de9d 80deg,#00e5aa 85deg,#00e5aa 90deg,#00eab7 95deg,#00edc5 100deg,#00f1d3 105deg,#00f8e8 110deg,#00f8e8 115deg,#00fefc 120deg,#00fefc 125deg,#19f2ff 130deg,#36e1ff 135deg,#19f2ff 140deg,#00fefc 145deg,#00f1d3 150deg,#00f1d3 155deg,#00edc5 160deg,#00f1d3 165deg,#00f1d3 175deg,#00edc5 180deg,#00e5aa 185deg,#00e5aa 190deg,#00de9d 195deg,#00d890 200deg,#00cd4f 205deg,#00ca3b 210deg,#00ca3b 215deg,#00c828 220deg,#00c828 245deg,#00ca3b 250deg,#00ca3b 260deg,#00c828 265deg,#00c828 275deg,#00ca3b 280deg,#00ca3b 290deg,#00cd4f 295deg,#00d583 300deg,#00edc5 305deg,#00f8e8 310deg,#00fefc 315deg,#00edc5 320deg,#00de9d 325deg,#00cf65 330deg,#00ca3b 335deg,#1ac300 340deg,#8ade00 345deg,#fbfe00 350deg,#fbfe00 360deg)"></i>
<i style="left:172px;top:172px;right:172px;bottom:172px;background:conic-gradient(#fbfe00 0deg,#fbfe00 5deg,#c7ef00 10deg,#a8e600 15deg,#8ade00 20deg,#68d600 25deg,#c7ef00 30deg,#a8e600 35deg,#99e200 40deg,#7ada00 45deg,#56d200 50deg,#33c900 55deg,#00bc00 60deg,#00c828 65deg,#00cf65 70deg,#00d890 75deg,#00e5aa 80deg,#00e5aa 90deg,#00eab7 95deg,#00edc5 100deg,#00f1d3 105deg,#00f1d3 110deg,#00f8e8 115deg,#00f8e8 120deg,#00fefc 125deg,#36e1ff 130deg,#36e1ff 135deg,#00fefc 140deg,#00f8e8 145deg,#00f1d3 150deg,#00edc5 155deg,#00edc5 165deg,#00f1d3 170deg,#00f1d3 175deg,#00e5aa 180deg,#00e5aa 185deg,#00de9d 190deg,#00d890 195deg,#00d276 200deg,#00cd4f 205deg,#00cd4f 210deg,#00c828 215deg,#00c828 240deg,#00ca3b 245deg,#00ca3b 255deg,#00c828 260deg,#00c828 275deg,#00ca3b 280deg,#00ca3b 285deg,#00cd4f 290deg,#00d276 295deg,#00e5aa 300deg,#00f1d3 305deg,#00fefc 310deg,#00f1d3 315deg,#00e5aa 320deg,#00d276 325deg,#00ca3b 330deg,#00c214 335deg,#44cd00 340deg,#fbfe00 345deg,#fbfe00 360deg)"></i>
<i style="left:174px;top:174px;right:174px;bottom:174px;background:conic-gradient(#fbfe00 0deg,#e2f800 5deg,#a8e600 10deg,#8ade00 15deg,#68d600 20deg,#56d200 25deg,#b8ea00 30deg,#99e200 35deg,#8ade00 40deg,#68d600 45deg,#44cd00 50deg,#1ac300 55deg,#00c214 60deg,#00cd4f 65deg,#00d583 70deg,#00de9d 75deg,#00e5aa 80deg,#00e5aa 90deg,#00eab7 95deg,#00edc5 100deg,#00f1d3 105deg,#00f1d3 110deg,#00f8e8 115deg,#00f8e8 120deg,#36e1ff 125deg,#36e1ff 130deg,#19f2ff 135deg,#00f8e8 140deg,#00f1d3 145deg,#00edc5 150deg,#00edc5 165deg,#00f1d3 170deg,#00eab7 175deg,#00de9d 180deg,#00de9d 185deg,#00d890 190deg,#00d583 195deg,#00cd4f 200deg,#00cd4f 205deg,#00c828 210deg,#00c828 240deg,#00ca3b 245deg,#00cd4f 250deg,#00c828 255deg,#00c828 270deg,#00ca3b 275deg,#00ca3b 285deg,#00cf65 290deg,#00d890 295deg,#00edc5 300deg,#00fefc 305deg,#00f8e8 310deg,#00e5aa 315deg,#00d583 320deg,#00cd4f 325deg,#00c828 330deg,#1ac300 335deg,#7ada00 340deg,#fbfe00 345deg,#fbfe00 360deg)"></i>
<i style="left:176px;top:176px;right:176px;bottom:176px;background:conic-gradient(#fbfe00 0deg,#c7ef00 5deg,#8ade00 10deg,#68d600 15deg,#44cd00 20deg,#b8ea00 25deg,#a8e600 30deg,#99e200 35deg,#7ada00 40deg,#56d200 45deg,#33c900 50deg,#00bc00 55deg,#00ca3b 60deg,#00d276 65deg,#00d890 70deg,#00e5aa 75deg,#00e5aa 90deg,#00eab7 95deg,#00edc5 100deg,#00edc5 105deg,#00f1d3 110deg,#00f1d3 115deg,#00f8e8 120deg,#36e1ff 125deg,#19f2ff 130deg,#00f8e8 135deg,#00f1d3 140deg,#00edc5 145deg,#00eab7 150deg,#00eab7 160deg,#00f8e8 165deg,#00edc5 170deg,#00e5aa 175deg,#00d890 180deg,#00d890 185deg,#00d583 190deg,#00cf65 195deg,#00cd4f 200deg,#00cd4f 205deg,#00c828 210deg,#00c828 235deg,#00ca3b 240deg,#00cd4f 245deg,#00cd4f 250deg,#00c828 255deg,#00c828 265deg,#00ca3b 270deg,#00ca3b 280deg,#00cd4f 285deg,#00d276 290deg,#00eab7 295deg,#00fefc 300deg,#00f8e8 305deg,#00eab7 310deg,#00d890 315deg,#00cf65 320deg,#00ca3b 325deg,#00c214 330deg,#44cd00 335deg,#fbfe00 340deg,#fbfe00 360deg)"></i>
<i style="left:178px;top:178px;right:178px;bottom:178px;background:conic-gradient(#d5f400 0deg,#99e200 5deg,#68d600 10deg,#44cd00 15deg,#1ac300 20deg,#b8ea00 25deg,#99e200 30deg,#8ade00 35deg,#68d600 40deg,#44cd00 45deg,#1ac300 50deg,#00c214 55deg,#00cd4f 60deg,#00d583 65deg,#00e5aa 70deg,#00e5aa 90deg,#00eab7 95deg,#00edc5 100deg,#00edc5 110deg,#00f1d3 115deg,#36e1ff 120deg,#19f2ff 125deg,#00fefc 130deg,#00f1d3 135deg,#00edc5 140deg,#00eab7 145deg,#00eab7 160deg,#00edc5 165deg,#00e5aa 170deg,#00de9d 175deg,#00d583 180deg,#00d583 185deg,#00d276 190deg,#00cf65 195deg,#00cf65 200deg,#00c828 205deg,#00c828 230deg,#00ca3b 235deg,#00cd4f 240deg,#00cd4f 245deg,#00c828 250deg,#00c828 265deg,#00ca3b 270deg,#00ca3b 275deg,#00cd4f 280deg,#00d276 285deg,#00de9d 290deg,#00eab7 295deg,#00fefc 300deg,#00edc5 305deg,#00de9d 310deg,#00d276 315deg,#00cd4f 320deg,#00ca3b 325deg,#00bc00 330deg,#44cd00 335deg,#fbfe00 340deg,#fbfe00 355deg,#d5f400 360deg)"></i>
<i style="left:180px;top:180px;right:180px;bottom:180px;background:conic-gradient(#a8e600 0deg,#7ada00 5deg,#44cd00 10deg,#1ac300 15deg,#b8ea00 20deg,#a8e600 25deg,#8ade00 30deg,#7ada00 35deg,#56d200 40deg,#33c900 45deg,#00bc00 50deg,#00ca3b 55deg,#00d276 60deg,#00d890 65deg,#00e5aa 70deg,#00e5aa 90deg,#00eab7 95deg,#00eab7 105deg,#00edc5 110deg,#36e1ff 115deg,#36e1ff 120deg,#00fefc 125deg,#00f1d3 130deg,#00edc5 135deg,#00eab7 140deg,#00e5aa 145deg,#00e5aa 155deg,#00f1d3 160deg,#00eab7 165deg,#00de9d 170deg,#00d890 175deg,#00d276 180deg,#00d276 185deg,#00cf65 190deg,#00cf65 195deg,#00c828 200deg,#00c828 225deg,#00ca3b 230deg,#00cd4f 235deg,#00cd4f 240deg,#00c828 245deg,#00c828 260deg,#00ca3b 265deg,#00ca3b 270deg,#00cd4f 275deg,#00cf65 280deg,#00d583 285deg,#00e5aa 290deg,#00fefc 295deg,#00f1d3 300deg,#00e5aa 305deg,#00d583 310deg,#00cd4f 315deg,#00cd4f 320deg,#00c828 325deg,#1ac300 330deg,#fbfe00 335deg,#fbfe00 355deg,#a8e600 360deg)"></i>
<i style="left:182px;top:182px;right:182px;bottom:182px;background:conic-gradient(#7ada00 0deg,#44cd00 5deg,#1ac300 10deg,#00c214 15deg,#a8e600 20deg,#99e200 25deg,#8ade00 30deg,#68d600 35deg,#44cd00 40deg,#1ac300 45deg,#00c828 50deg,#00cf65 55deg,#00d583 60deg,#00e5aa 65deg,#00e5aa 100deg,#00eab7 105deg,#36e1ff 110deg,#36e1ff 115deg,#19f2ff 120deg,#00f8e8 125deg,#00edc5 130deg,#00e5aa 135deg,#00e5aa 150deg,#00f1d3 155deg,#00eab7 160deg,#00e5aa 165deg,#00d890 170deg,#00d583 175deg,#00cf65 180deg,#00cf65 195deg,#00c828 200deg,#00c828 225deg,#00ca3b 230deg,#00cd4f 235deg,#00cf65 240deg,#00c828 245deg,#00c828 255deg,#00ca3b 260deg,#00ca3b 265deg,#00cd4f 270deg,#00cf65 275deg,#00d276 280deg,#00de9d 285deg,#00fefc 290deg,#00f8e8 295deg,#00eab7 300deg,#00d890 305deg,#00cf65 310deg,#00cd4f 315deg,#00cd4f 320deg,#00c214 325deg,#1ac300 330deg,#fbfe00 335deg,#fbfe00 350deg,#d5f400 355deg,#7ada00 360deg)"></i>
<i style="left:184px;top:184px;right:184px;bottom:184px;background:conic-gradient(#56d200 0deg,#1ac300 5deg,#00c214 10deg,#b8ea00 15deg,#a8e600 20deg,#8ade00 25deg,#7ada00 30deg,#56d200 35deg,#33c900 40deg,#00bc00 45deg,#00ca3b 50deg,#00d276 55deg,#00e5aa 60deg,#00e5aa 100deg,#36e1ff 105deg,#36e1ff 110deg,#19f2ff 115deg,#00f8e8 120deg,#00f1d3 125deg,#00eab7 130deg,#00e5aa 135deg,#00de9d 140deg,#00de9d 145deg,#00f8e8 150deg,#00edc5 155deg,#00e5aa 160deg,#00de9d 165deg,#00d583 170deg,#00d276 175deg,#00d276 190deg,#00c828 195deg,#00c828 220deg,#00ca3b 225deg,#00cd4f 230deg,#00cf65 235deg,#00c828 240deg,#00c828 255deg,#00ca3b 260deg,#00ca3b 265deg,#00cd4f 270deg,#00cf65 275deg,#00d583 280deg,#00fefc 285deg,#00f8e8 290deg,#00edc5 295deg,#00de9d 300deg,#00d276 305deg,#00cd4f 310deg,#00cf65 315deg,#00cd4f 320deg,#00c828 325deg,#fbfe00 330deg,#fbfe00 350deg,#a8e600 355deg,#56d200 360deg)"></i>
<i style="left:186px;top:186px;right:186px;bottom:186px;background:conic-gradient(#1ac300 0deg,#00c828 5deg,#c7ef00 10deg,#a8e600 15deg,#99e200 20deg,#7ada00 25deg,#56d200 30deg,#44cd00 35deg,#1ac300 40deg,#00c828 45deg,#00cf65 50deg,#00d890 55deg,#00e5aa 60deg,#00e5aa 85deg,#00de9d 90deg,#00de9d 100deg,#36e1ff 105deg,#19f2ff 110deg,#00fefc 115deg,#00f1d3 120deg,#00eab7 125deg,#00e5aa 130deg,#00de9d 135deg,#00de9d 145deg,#00edc5 150deg,#00e5aa 155deg,#00de9d 160deg,#00d890 165deg,#00d276 170deg,#00cf65 175deg,#00d276 180deg,#00d276 185deg,#00c828 190deg,#00c828 220deg,#00cd4f 225deg,#00cf65 230deg,#00c828 235deg,#00c828 250deg,#00ca3b 255deg,#00ca3b 260deg,#00cd4f 265deg,#00cf65 270deg,#00d276 275deg,#00de9d 280deg,#00fefc 285deg,#00f1d3 290deg,#00e5aa 295deg,#00d583 300deg,#00cd4f 305deg,#00cd4f 310deg,#00cf65 315deg,#00cd4f 320deg,#fbfe00 325deg,#fbfe00 345deg,#d5f400 350deg,#7ada00 355deg,#1ac300 360deg)"></i>
<i style="left:188px;top:188px;right:188px;bottom:188px;background:conic-gradient(#00c828 0deg,#00cd4f 5deg,#b8ea00 10deg,#99e200 15deg,#8ade00 20deg,#68d600 25deg,#44cd00 30deg,#33c900 35deg,#00c214 40deg,#00cd4f 45deg,#00d583 50deg,#00e5aa 55deg,#00e5aa 80deg,#00de9d 85deg,#00d890 90deg,#00d890 95deg,#36e1ff 100deg,#36e1ff 105deg,#00fefc 110deg,#00f1d3 115deg,#00edc5 120deg,#00e5aa 125deg,#00de9d 130deg,#00d890 135deg,#00d890 140deg,#00f1d3 145deg,#00eab7 150deg,#00de9d 155deg,#00d890 160deg,#00d583 165deg,#00cf65 170deg,#00d276 175deg,#00d276 185deg,#00c828 190deg,#00c828 215deg,#00ca3b 220deg,#00cf65 225deg,#00d276 230deg,#00c828 235deg,#00c828 245deg,#00ca3b 250deg,#00ca3b 255deg,#00cd4f 260deg,#00cf65 265deg,#00d276 270deg,#00d583 275deg,#00fefc 280deg,#00f1d3 285deg,#00e5aa 290deg,#00d890 295deg,#00cf65 300deg,#00cd4f 305deg,#00cf65 310deg,#00d276 315deg,#00cd4f 320deg,#fbfe00 325deg,#fbfe00 340deg,#eefb00 345deg,#99e200 350deg,#44cd00 355deg,#00c828 360deg)"></i>
<i style="left:190px;top:190px;right:190px;bottom:190px;background:conic-gradient(#00cd4f 0deg,#c7ef00 5deg,#a8e600 10deg,#99e200 15deg,#7ada00 20deg,#56d200 25deg,#33c900 30deg,#00bc00 35deg,#00ca3b 40deg,#00cf65 45deg,#00e5aa 50deg,#00e5aa 80deg,#00de9d 85deg,#00d890 90deg,#36e1ff 95deg,#36e1ff 100deg,#00fefc 105deg,#00f8e8 110deg,#00edc5 115deg,#00eab7 120deg,#00e5aa 125deg,#00de9d 130deg,#00d890 135deg,#00f1d3 140deg,#00edc5 145deg,#00e5aa 150deg,#00de9d 155deg,#00d583 160deg,#00d276 165deg,#00d276 175deg,#00d583 180deg,#00c828 185deg,#00c828 210deg,#00ca3b 215deg,#00cd4f 220deg,#00d276 225deg,#00c828 230deg,#00c828 245deg,#00ca3b 250deg,#00ca3b 255deg,#00cd4f 260deg,#00cf65 265deg,#00d276 270deg,#00fefc 275deg,#00f8e8 280deg,#00eab7 285deg,#00de9d 290deg,#00d276 295deg,#00cd4f 300deg,#00cf65 305deg,#00d276 310deg,#00d276 315deg,#fbfe00 320deg,#fbfe00 340deg,#c7ef00 345deg,#68d600 350deg,#00bc00 355deg,#00cd4f 360deg)"></i>
<i style="left:192px;top:192px;right:192px;bottom:192px;background:conic-gradient(#00d276 0deg,#b8ea00 5deg,#99e200 10deg,#8ade00 15deg,#68d600 20deg,#44cd00 25deg,#33c900 30deg,#00c214 35deg,#00cd4f 40deg,#00d583 45deg,#00e5aa 50deg,#00e5aa 75deg,#00de9d 80deg,#00d890 85deg,#00d583 90deg,#36e1ff 95deg,#19f2ff 100deg,#00fefc 105deg,#00f1d3 110deg,#00eab7 115deg,#00e5aa 120deg,#00de9d 125deg,#00d890 130deg,#00d583 135deg,#00edc5 140deg,#00e5aa 145deg,#00de9d 150deg,#00d890 155deg,#00d583 160deg,#00cf65 165deg,#00d276 170deg,#00d276 175deg,#00d583 180deg,#00c828 185deg,#00c828 210deg,#00cd4f 215deg,#00cf65 220deg,#00d583 225deg,#00c828 230deg,#00c828 240deg,#00ca3b 245deg,#00ca3b 250deg,#00cd4f 255deg,#00cf65 260deg,#00d276 265deg,#00d583 270deg,#00fefc 275deg,#00f1d3 280deg,#00e5aa 285deg,#00d583 290deg,#00cd4f 295deg,#00cd4f 300deg,#00cf65 305deg,#00d276 310deg,#00d583 315deg,#fbfe00 320deg,#fbfe00 335deg,#eefb00 340deg,#99e200 345deg,#44cd00 350deg,#00c828 355deg,#00d276 360deg)"></i>
</div>
<div class="dk" style="left:297.5px;top:118.5px;width:386.0px;height:386.0px;clip-path:polygon(193.0px 193.0px,316.2px -25.6px,443.9px -57.9px,443.9px 443.9px,316.2px 411.6px)">
<i style="left:0px;top:0px;right:0px;bottom:0px;background:conic-gradient(#00de9d 25deg,#00de9d 45deg,#00e5aa 50deg,#00eab7 55deg,#00eab7 60deg,#00edc5 65deg,#00f1d3 70deg,#00f8e8 75deg,#00f8e8 80deg,#00f1d3 85deg,#00f1d3 90deg,#00fefc 95deg,#36e1ff 100deg,#40d9ff 105deg,#00f8e8 110deg,#00e5aa 115deg,#00cf65 120deg,#44cd00 125deg,#c7ef00 130deg,#ffdc00 135deg,#ffdc00 140deg,#ffe600 145deg,#ffe600 155deg)"></i>
<i style="left:2px;top:2px;right:2px;bottom:2px;background:conic-gradient(#00de9d 25deg,#00de9d 45deg,#00e5aa 50deg,#00eab7 55deg,#00edc5 60deg,#00edc5 65deg,#00f1d3 70deg,#00f8e8 75deg,#00f8e8 80deg,#00f1d3 85deg,#00f1d3 90deg,#00fefc 95deg,#36e1ff 100deg,#40d9ff 105deg,#00f8e8 110deg,#00e5aa 115deg,#00cf65 120deg,#44cd00 125deg,#c7ef00 130deg,#ffdc00 135deg,#ffe600 140deg,#ffe600 155deg)"></i>
<i style="left:4px;top:4px;right:4px;bottom:4px;background:conic-gradient(#00de9d 25deg,#00de9d 45deg,#00e5aa 50deg,#00eab7 55deg,#00edc5 60deg,#00edc5 65deg,#00f1d3 70deg,#00f8e8 75deg,#00f1d3 80deg,#00f1d3 90deg,#00fefc 95deg,#36e1ff 100deg,#40d9ff 105deg,#00f8e8 110deg,#00e5aa 115deg,#00cf65 120deg,#44cd00 125deg,#c7ef00 130deg,#ffdc00 135deg,#ffe600 140deg,#ffe600 155deg)"></i>
<i style="left:6px;top:6px;right:6px;bottom:6px;background:conic-gradient(#00de9d 25deg,#00de9d 45deg,#00e5aa 50deg,#00eab7 55deg,#00edc5 60deg,#00f1d3 65deg,#00f1d3 70deg,#00f8e8 75deg,#00f1d3 80deg,#00f1d3 90deg,#00fefc 95deg,#36e1ff 100deg,#40d9ff 105deg,#00f8e8 110deg,#00e5aa 115deg,#00cf65 120deg,#44cd00 125deg,#b8ea00 130deg,#ffe600 135deg,#ffe600 155deg)"></i>
<i style="left:8px;top:8px;right:8px;bottom:8px;background:conic-gradient(#00de9d 25deg,#00de9d 45deg,#00e5aa 50deg,#00eab7 55deg,#00edc5 60deg,#00f1d3 65deg,#00f1d3 85deg,#00edc5 90deg,#00f8e8 95deg,#36e1ff 100deg,#40d9ff 105deg,#00f8e8 110deg,#00e5aa 115deg,#00d276 120deg,#33c900 125deg,#b8ea00 130deg,#ffe600 135deg,#ffe600 155deg)"></i>
<i style="left:10px;top:10px;right:10px;bottom:10px;background:conic-gradient(#00de9d 25deg,#00d890 30deg,#00d890 45deg,#00e5aa 50deg,#00eab7 55deg,#00f1d3 60deg,#00f1d3 70deg,#00edc5 75deg,#00edc5 80deg,#00eab7 85deg,#00eab7 90deg,#00f1d3 95deg,#19f2ff 100deg,#40dbff 105deg,#00f8e8 110deg,#00e5aa 115deg,#00d583 120deg,#33c900 125deg,#b8ea00 130deg,#ffe600 135deg,#ffe600 155deg)"></i>
<i style="left:12px;top:12px;right:12px;bottom:12px;background:conic-gradient(#00d890 25deg,#00d890 35deg,#00d583 40deg,#00d583 45deg,#00de9d 50deg,#00eab7 55deg,#00f1d3 60deg,#00f1d3 65deg,#00edc5 70deg,#00edc5 75deg,#00eab7 80deg,#00e5aa 85deg,#00de9d 90deg,#00edc5 95deg,#00fefc 100deg,#36e1ff 105deg,#00f8e8 110deg,#00e5aa 115deg,#00d583 120deg,#1ac300 125deg,#a8e600 130deg,#fff000 135deg,#fff000 155deg)"></i>
<i style="left:14px;top:14px;right:14px;bottom:14px;background:conic-gradient(#00d583 25deg,#00d583 40deg,#00d276 45deg,#00de9d 50deg,#00eab7 55deg,#00f8e8 60deg,#00f1d3 65deg,#00edc5 70deg,#00eab7 75deg,#00e5aa 80deg,#00de9d 85deg,#00d890 90deg,#00eab7 95deg,#00f1d3 100deg,#19f2ff 105deg,#00f1d3 110deg,#00eab7 115deg,#00d890 120deg,#00bc00 125deg,#a8e600 130deg,#fff000 135deg,#fff000 155deg)"></i>
<i style="left:16px;top:16px;right:16px;bottom:16px;background:conic-gradient(#00d583 25deg,#00d276 30deg,#00d276 45deg,#00de9d 50deg,#00eab7 55deg,#00f8e8 60deg,#00f1d3 65deg,#00eab7 70deg,#00e5aa 75deg,#00de9d 80deg,#00d890 85deg,#00d583 90deg,#00e5aa 95deg,#00edc5 100deg,#00fefc 105deg,#00f1d3 110deg,#00eab7 115deg,#00de9d 120deg,#00c214 125deg,#99e200 130deg,#fff000 135deg,#fff000 155deg)"></i>
<i style="left:18px;top:18px;right:18px;bottom:18px;background:conic-gradient(#00d276 25deg,#00d276 35deg,#00cf65 40deg,#00cf65 45deg,#00d890 50deg,#00eab7 55deg,#00f8e8 60deg,#00edc5 65deg,#00eab7 70deg,#00de9d 75deg,#00d890 80deg,#00d583 85deg,#00d276 90deg,#00d890 95deg,#00eab7 100deg,#00f8e8 105deg,#00edc5 110deg,#00e5aa 115deg,#00de9d 120deg,#00bc00 125deg,#99e200 130deg,#fff900 135deg,#fff900 145deg,#fff000 150deg,#fff000 155deg)"></i>
<i style="left:20px;top:20px;right:20px;bottom:20px;background:conic-gradient(#00cf65 25deg,#00cf65 40deg,#00cd4f 45deg,#00d583 50deg,#00e5aa 55deg,#00f1d3 60deg,#00edc5 65deg,#00e5aa 70deg,#00d890 75deg,#00d583 80deg,#00d276 85deg,#00cf65 90deg,#00d583 95deg,#00e5aa 100deg,#00edc5 105deg,#00e5aa 110deg,#00de9d 115deg,#00d583 120deg,#1ac300 125deg,#99e200 130deg,#fff900 135deg,#fff900 155deg)"></i>
<i style="left:22px;top:22px;right:22px;bottom:22px;background:conic-gradient(#00cf65 25deg,#00cf65 30deg,#00cd4f 35deg,#00cd4f 40deg,#00ca3b 45deg,#00d276 50deg,#00de9d 55deg,#00edc5 60deg,#00eab7 65deg,#00de9d 70deg,#00d890 75deg,#00d583 80deg,#00d276 85deg,#00cf65 90deg,#00d276 95deg,#00d890 100deg,#00e5aa 105deg,#00de9d 110deg,#00d583 115deg,#00cf65 120deg,#1ac300 125deg,#99e200 130deg,#fbfe00 135deg,#fff900 140deg,#fff900 155deg)"></i>
<i style="left:24px;top:24px;right:24px;bottom:24px;background:conic-gradient(#00cd4f 25deg,#00cd4f 35deg,#00ca3b 40deg,#00ca3b 45deg,#00d276 50deg,#00de9d 55deg,#00edc5 60deg,#00e5aa 65deg,#00d890 70deg,#00d583 75deg,#00d276 80deg,#00cf65 85deg,#00cd4f 90deg,#00cf65 95deg,#00d583 100deg,#00de9d 105deg,#00d583 110deg,#00cf65 115deg,#00cd4f 120deg,#33c900 125deg,#a8e600 130deg,#fbfe00 135deg,#fbfe00 140deg,#fff900 145deg,#fff900 155deg)"></i>
<i style="left:26px;top:26px;right:26px;bottom:26px;background:conic-gradient(#00ca3b 25deg,#00ca3b 40deg,#00c828 45deg,#00cf65 50deg,#00d890 55deg,#00eab7 60deg,#00de9d 65deg,#00d890 70deg,#00d276 75deg,#00cf65 80deg,#00cd4f 85deg,#00ca3b 90deg,#00cd4f 95deg,#00d276 100deg,#00d583 105deg,#00cf65 110deg,#00cd4f 115deg,#00c828 120deg,#44cd00 125deg,#a8e600 130deg,#eefb00 135deg,#fbfe00 140deg,#fbfe00 145deg,#fff900 150deg,#fff900 155deg)"></i>
<i style="left:28px;top:28px;right:28px;bottom:28px;background:conic-gradient(#00ca3b 25deg,#00ca3b 30deg,#00c828 35deg,#00c828 40deg,#00c214 45deg,#00cd4f 50deg,#00d583 55deg,#00e5aa 60deg,#00de9d 65deg,#00d583 70deg,#00d276 75deg,#00cf65 80deg,#00cd4f 85deg,#00ca3b 90deg,#00cd4f 95deg,#00cf65 100deg,#00d276 105deg,#00cd4f 110deg,#00ca3b 115deg,#00c214 120deg,#56d200 125deg,#a8e600 130deg,#eefb00 135deg,#eefb00 140deg,#fbfe00 145deg,#fff900 150deg,#fff900 155deg)"></i>
<i style="left:30px;top:30px;right:30px;bottom:30px;background:conic-gradient(#00c828 25deg,#00c828 40deg,#00c214 45deg,#00cd4f 50deg,#00d583 55deg,#00e5aa 60deg,#00d890 65deg,#00d583 70deg,#00d276 75deg,#00cf65 80deg,#00cd4f 85deg,#00ca3b 90deg,#00ca3b 95deg,#00cd4f 100deg,#00cf65 105deg,#00cd4f 110deg,#00c828 115deg,#00c214 120deg,#56d200 125deg,#a8e600 130deg,#e2f800 135deg,#eefb00 140deg,#fbfe00 145deg,#fbfe00 155deg)"></i>
<i style="left:32px;top:32px;right:32px;bottom:32px;background:conic-gradient(#00c828 25deg,#00c828 35deg,#00c214 40deg,#00c214 45deg,#00ca3b 50deg,#00d276 55deg,#00de9d 60deg,#00d890 65deg,#00d583 70deg,#00d276 75deg,#00cf65 80deg,#00cd4f 85deg,#00ca3b 90deg,#00ca3b 95deg,#00cd4f 100deg,#00cd4f 105deg,#00ca3b 110deg,#00c828 115deg,#00bc00 120deg,#56d200 125deg,#99e200 130deg,#e2f800 135deg,#eefb00 140deg,#fbfe00 145deg,#fbfe00 155deg)"></i>
<i style="left:34px;top:34px;right:34px;bottom:34px;background:conic-gradient(#00c828 25deg,#00c828 35deg,#00c214 40deg,#00bc00 45deg,#00ca3b 50deg,#00d276 55deg,#00de9d 60deg,#00d890 65deg,#00d583 70deg,#00d276 75deg,#00cf65 80deg,#00cd4f 85deg,#00c828 90deg,#00ca3b 95deg,#00ca3b 100deg,#00cd4f 105deg,#00c828 110deg,#00c214 115deg,#00bc00 120deg,#56d200 125deg,#99e200 130deg,#d5f400 135deg,#e2f800 140deg,#fbfe00 145deg,#fbfe00 155deg)"></i>
<i style="left:36px;top:36px;right:36px;bottom:36px;background:conic-gradient(#00c828 25deg,#00c828 30deg,#00c214 35deg,#00bc00 40deg,#00bc00 45deg,#00c828 50deg,#00cf65 55deg,#00d890 60deg,#00d583 65deg,#00d583 70deg,#00d276 75deg,#00cf65 80deg,#00cd4f 85deg,#00c828 90deg,#00ca3b 95deg,#00ca3b 105deg,#00c828 110deg,#00c214 115deg,#00bc00 120deg,#56d200 125deg,#99e200 130deg,#d5f400 135deg,#e2f800 140deg,#fbfe00 145deg,#fbfe00 155deg)"></i>
<i style="left:38px;top:38px;right:38px;bottom:38px;background:conic-gradient(#00c214 25deg,#00c214 35deg,#00bc00 40deg,#1ac300 45deg,#00c828 50deg,#00cf65 55deg,#00d890 60deg,#00d583 65deg,#00d583 70deg,#00d276 75deg,#00cf65 80deg,#00ca3b 85deg,#00c828 90deg,#00c828 105deg,#00c214 110deg,#00bc00 115deg,#00bc00 120deg,#56d200 125deg,#99e200 130deg,#c7ef00 135deg,#e2f800 140deg,#eefb00 145deg,#fbfe00 150deg,#fbfe00 155deg)"></i>
<i style="left:40px;top:40px;right:40px;bottom:40px;background:conic-gradient(#00c214 25deg,#00c214 35deg,#00bc00 40deg,#1ac300 45deg,#00c828 50deg,#00cd4f 55deg,#00d583 60deg,#00d583 65deg,#00d276 70deg,#00d276 75deg,#00cf65 80deg,#00ca3b 85deg,#00c828 90deg,#00c828 100deg,#00c214 105deg,#00c214 110deg,#00bc00 115deg,#1ac300 120deg,#56d200 125deg,#99e200 130deg,#c7ef00 135deg,#e2f800 140deg,#eefb00 145deg,#fbfe00 150deg,#fbfe00 155deg)"></i>
<i style="left:42px;top:42px;right:42px;bottom:42px;background:conic-gradient(#00c214 25deg,#00c214 30deg,#00bc00 35deg,#1ac300 40deg,#33c900 45deg,#00c214 50deg,#00cd4f 55deg,#00d583 60deg,#00d583 65deg,#00d276 70deg,#00d276 75deg,#00cf65 80deg,#00ca3b 85deg,#00c828 90deg,#00c828 95deg,#00c214 100deg,#00c214 105deg,#00bc00 110deg,#00bc00 115deg,#1ac300 120deg,#56d200 125deg,#8ade00 130deg,#c7ef00 135deg,#d5f400 140deg,#eefb00 145deg,#fbfe00 150deg,#fbfe00 155deg)"></i>
<i style="left:44px;top:44px;right:44px;bottom:44px;background:conic-gradient(#00c214 25deg,#00c214 35deg,#00bc00 40deg,#1ac300 45deg,#00c828 50deg,#00cd4f 55deg,#00d583 60deg,#00d583 70deg,#00d276 75deg,#00cf65 80deg,#00cd4f 85deg,#00c828 90deg,#00c828 95deg,#00c214 100deg,#00c214 105deg,#00bc00 110deg,#00bc00 115deg,#1ac300 120deg,#56d200 125deg,#8ade00 130deg,#b8ea00 135deg,#d5f400 140deg,#eefb00 145deg,#eefb00 155deg)"></i>
<i style="left:46px;top:46px;right:46px;bottom:46px;background:conic-gradient(#00c214 25deg,#00c214 35deg,#00bc00 40deg,#1ac300 45deg,#00c828 50deg,#00cf65 55deg,#00d583 60deg,#00d583 75deg,#00cf65 80deg,#00cd4f 85deg,#00ca3b 90deg,#00c828 95deg,#00c828 100deg,#00c214 105deg,#00bc00 110deg,#00bc00 120deg,#44cd00 125deg,#7ada00 130deg,#a8e600 135deg,#c7ef00 140deg,#e2f800 145deg,#eefb00 150deg,#eefb00 155deg)"></i>
<i style="left:48px;top:48px;right:48px;bottom:48px;background:conic-gradient(#00c214 25deg,#00c214 35deg,#00bc00 40deg,#00bc00 45deg,#00c828 50deg,#00cf65 55deg,#00d890 60deg,#00d583 65deg,#00d583 75deg,#00d276 80deg,#00cd4f 85deg,#00ca3b 90deg,#00c828 95deg,#00c828 100deg,#00c214 105deg,#00c214 110deg,#00bc00 115deg,#00bc00 120deg,#44cd00 125deg,#7ada00 130deg,#a8e600 135deg,#c7ef00 140deg,#e2f800 145deg,#eefb00 150deg,#eefb00 155deg)"></i>
<i style="left:50px;top:50px;right:50px;bottom:50px;background:conic-gradient(#00c828 25deg,#00c828 30deg,#00c214 35deg,#00c214 40deg,#00bc00 45deg,#00ca3b 50deg,#00cf65 55deg,#00d890 60deg,#00d890 65deg,#00d583 70deg,#00d583 75deg,#00d276 80deg,#00cf65 85deg,#00ca3b 90deg,#00ca3b 95deg,#00c828 100deg,#00c214 105deg,#00c214 110deg,#00bc00 115deg,#00bc00 120deg,#44cd00 125deg,#7ada00 130deg,#a8e600 135deg,#c7ef00 140deg,#e2f800 145deg,#e2f800 155deg)"></i>
<i style="left:52px;top:52px;right:52px;bottom:52px;background:conic-gradient(#00c828 25deg,#00c828 35deg,#00c214 40deg,#00c214 45deg,#00ca3b 50deg,#00d276 55deg,#00d890 60deg,#00d890 70deg,#00d583 75deg,#00d276 80deg,#00cf65 85deg,#00cd4f 90deg,#00ca3b 95deg,#00c828 100deg,#00c214 105deg,#00c214 115deg,#00bc00 120deg,#33c900 125deg,#68d600 130deg,#99e200 135deg,#b8ea00 140deg,#d5f400 145deg,#e2f800 150deg,#e2f800 155deg)"></i>
<i style="left:54px;top:54px;right:54px;bottom:54px;background:conic-gradient(#00c828 25deg,#00c828 35deg,#00c214 40deg,#00c214 45deg,#00ca3b 50deg,#00d276 55deg,#00d890 60deg,#00d890 75deg,#00d583 80deg,#00cf65 85deg,#00cd4f 90deg,#00ca3b 95deg,#00c828 100deg,#00c214 105deg,#00c214 120deg,#33c900 125deg,#68d600 130deg,#99e200 135deg,#b8ea00 140deg,#d5f400 145deg,#e2f800 150deg,#e2f800 155deg)"></i>
<i style="left:56px;top:56px;right:56px;bottom:56px;background:conic-gradient(#00c828 25deg,#00c828 40deg,#00c214 45deg,#00cd4f 50deg,#00d276 55deg,#00de9d 60deg,#00d890 65deg,#00d890 75deg,#00d583 80deg,#00d276 85deg,#00cf65 90deg,#00cd4f 95deg,#00ca3b 100deg,#00c828 105deg,#00c214 110deg,#00c214 120deg,#33c900 125deg,#56d200 130deg,#8ade00 135deg,#a8e600 140deg,#c7ef00 145deg,#d5f400 150deg,#d5f400 155deg)"></i>
<i style="left:58px;top:58px;right:58px;bottom:58px;background:conic-gradient(#00c828 25deg,#00c828 45deg,#00cd4f 50deg,#00d583 55deg,#00de9d 60deg,#00de9d 65deg,#00d890 70deg,#00d890 75deg,#00d583 80deg,#00d276 85deg,#00cf65 90deg,#00cd4f 95deg,#00ca3b 100deg,#00c828 105deg,#00c828 110deg,#00c214 115deg,#00c214 120deg,#1ac300 125deg,#56d200 130deg,#8ade00 135deg,#a8e600 140deg,#c7ef00 145deg,#d5f400 150deg,#d5f400 155deg)"></i>
<i style="left:60px;top:60px;right:60px;bottom:60px;background:conic-gradient(#00ca3b 25deg,#00ca3b 35deg,#00c828 40deg,#00c828 45deg,#00cf65 50deg,#00d583 55deg,#00de9d 60deg,#00de9d 70deg,#00d890 75deg,#00d583 80deg,#00d276 85deg,#00cf65 90deg,#00cd4f 95deg,#00ca3b 100deg,#00c828 105deg,#00c828 115deg,#00c214 120deg,#1ac300 125deg,#56d200 130deg,#7ada00 135deg,#99e200 140deg,#c7ef00 145deg,#d5f400 150deg,#d5f400 155deg)"></i>
<i style="left:62px;top:62px;right:62px;bottom:62px;background:conic-gradient(#00ca3b 25deg,#00ca3b 45deg,#00cf65 50deg,#00d583 55deg,#00de9d 60deg,#00de9d 75deg,#00d890 80deg,#00d583 85deg,#00d276 90deg,#00cd4f 95deg,#00ca3b 100deg,#00c828 105deg,#00c828 120deg,#1ac300 125deg,#44cd00 130deg,#68d600 135deg,#99e200 140deg,#b8ea00 145deg,#c7ef00 150deg,#c7ef00 155deg)"></i>
<i style="left:64px;top:64px;right:64px;bottom:64px;background:conic-gradient(#00cd4f 25deg,#00cd4f 45deg,#00d276 50deg,#00d890 55deg,#00e5aa 60deg,#00e5aa 65deg,#00de9d 70deg,#00de9d 75deg,#00d890 80deg,#00d583 85deg,#00d276 90deg,#00cf65 95deg,#00cd4f 100deg,#00ca3b 105deg,#00ca3b 110deg,#00c828 115deg,#00c828 120deg,#00bc00 125deg,#44cd00 130deg,#68d600 135deg,#8ade00 140deg,#b8ea00 145deg,#c7ef00 150deg,#c7ef00 155deg)"></i>
<i style="left:66px;top:66px;right:66px;bottom:66px;background:conic-gradient(#00cd4f 25deg,#00cd4f 35deg,#00cf65 40deg,#00cf65 45deg,#00d583 50deg,#00de9d 55deg,#00eab7 60deg,#00e5aa 65deg,#00e5aa 70deg,#00de9d 75deg,#00de9d 80deg,#00d890 85deg,#00d583 90deg,#00d276 95deg,#00cf65 100deg,#00ca3b 105deg,#00ca3b 120deg,#00bc00 125deg,#33c900 130deg,#56d200 135deg,#8ade00 140deg,#a8e600 145deg,#c7ef00 150deg,#c7ef00 155deg)"></i>
<i style="left:68px;top:68px;right:68px;bottom:68px;background:conic-gradient(#00cf65 25deg,#00cf65 35deg,#00d276 40deg,#00d276 45deg,#00d890 50deg,#00de9d 55deg,#00eab7 60deg,#00eab7 65deg,#00e5aa 70deg,#00e5aa 75deg,#00de9d 80deg,#00d890 85deg,#00d583 90deg,#00d276 95deg,#00cf65 100deg,#00cd4f 105deg,#00cd4f 110deg,#00ca3b 115deg,#00ca3b 120deg,#00c214 125deg,#1ac300 130deg,#56d200 135deg,#7ada00 140deg,#a8e600 145deg,#b8ea00 150deg,#b8ea00 155deg)"></i>
<i style="left:70px;top:70px;right:70px;bottom:70px;background:conic-gradient(#00d276 25deg,#00d276 35deg,#00d583 40deg,#00d583 45deg,#00de9d 50deg,#00e5aa 55deg,#00eab7 60deg,#00eab7 70deg,#00e5aa 75deg,#00de9d 80deg,#00de9d 85deg,#00d890 90deg,#00d583 95deg,#00d276 100deg,#00cf65 105deg,#00cd4f 110deg,#00cd4f 115deg,#00ca3b 120deg,#00c214 125deg,#1ac300 130deg,#44cd00 135deg,#7ada00 140deg,#a8e600 145deg,#b8ea00 150deg,#b8ea00 155deg)"></i>
<i style="left:72px;top:72px;right:72px;bottom:72px;background:conic-gradient(#00d583 25deg,#00d583 35deg,#00d890 40deg,#00d890 45deg,#00e5aa 50deg,#00eab7 55deg,#00edc5 60deg,#00edc5 65deg,#00eab7 70deg,#00eab7 75deg,#00e5aa 80deg,#00de9d 85deg,#00d890 90deg,#00d583 95deg,#00d583 100deg,#00d276 105deg,#00cf65 110deg,#00cd4f 115deg,#00cd4f 120deg,#00c828 125deg,#00bc00 130deg,#33c900 135deg,#68d600 140deg,#99e200 145deg,#a8e600 150deg,#a8e600 155deg)"></i>
<i style="left:74px;top:74px;right:74px;bottom:74px;background:conic-gradient(#00d583 25deg,#00d583 30deg,#00d890 35deg,#00de9d 40deg,#00e5aa 45deg,#00eab7 50deg,#00edc5 55deg,#00f1d3 60deg,#00edc5 65deg,#00edc5 70deg,#00eab7 75deg,#00e5aa 80deg,#00de9d 85deg,#00de9d 90deg,#00d890 95deg,#00d583 100deg,#00d583 105deg,#00d276 110deg,#00cf65 115deg,#00cd4f 120deg,#00c828 125deg,#00bc00 130deg,#33c900 135deg,#68d600 140deg,#99e200 145deg,#a8e600 150deg,#a8e600 155deg)"></i>
<i style="left:76px;top:76px;right:76px;bottom:76px;background:conic-gradient(#00d890 25deg,#00d890 30deg,#00de9d 35deg,#00e5aa 40deg,#00eab7 45deg,#00eab7 50deg,#00edc5 55deg,#00f1d3 60deg,#00f1d3 65deg,#00edc5 70deg,#00edc5 75deg,#00eab7 80deg,#00e5aa 85deg,#00de9d 90deg,#00de9d 95deg,#00d890 100deg,#00d583 105deg,#00d276 110deg,#00d276 115deg,#00cf65 120deg,#00ca3b 125deg,#00c214 130deg,#1ac300 135deg,#56d200 140deg,#8ade00 145deg,#99e200 150deg,#99e200 155deg)"></i>
<i style="left:78px;top:78px;right:78px;bottom:78px;background:conic-gradient(#00de9d 25deg,#00de9d 35deg,#00eab7 40deg,#00edc5 45deg,#00edc5 50deg,#00f1d3 55deg,#00f1d3 70deg,#00edc5 75deg,#00eab7 80deg,#00e5aa 85deg,#00e5aa 90deg,#00de9d 95deg,#00de9d 100deg,#00d890 105deg,#00d583 110deg,#00d276 115deg,#00cf65 120deg,#00ca3b 125deg,#00c214 130deg,#1ac300 135deg,#56d200 140deg,#8ade00 145deg,#99e200 150deg,#99e200 155deg)"></i>
<i style="left:80px;top:80px;right:80px;bottom:80px;background:conic-gradient(#00e5aa 25deg,#00e5aa 35deg,#00edc5 40deg,#00f1d3 45deg,#00f1d3 50deg,#00f8e8 55deg,#00f8e8 60deg,#00f1d3 65deg,#00f1d3 70deg,#00edc5 75deg,#00edc5 80deg,#00eab7 85deg,#00e5aa 90deg,#00e5aa 95deg,#00de9d 100deg,#00de9d 105deg,#00d890 110deg,#00d583 115deg,#00d276 120deg,#00cd4f 125deg,#00c828 130deg,#00bc00 135deg,#44cd00 140deg,#7ada00 145deg,#99e200 150deg,#99e200 155deg)"></i>
<i style="left:82px;top:82px;right:82px;bottom:82px;background:conic-gradient(#00e5aa 25deg,#00e5aa 30deg,#00eab7 35deg,#00edc5 40deg,#00f8e8 45deg,#00f8e8 55deg,#00fefc 60deg,#00f8e8 65deg,#00f1d3 70deg,#00f1d3 75deg,#00edc5 80deg,#00eab7 85deg,#00eab7 90deg,#00e5aa 95deg,#00e5aa 100deg,#00de9d 105deg,#00d890 110deg,#00d583 115deg,#00d276 120deg,#00cd4f 125deg,#00ca3b 130deg,#00c214 135deg,#44cd00 140deg,#7ada00 145deg,#8ade00 150deg,#8ade00 155deg)"></i>
<i style="left:84px;top:84px;right:84px;bottom:84px;background:conic-gradient(#00edc5 25deg,#00edc5 35deg,#00f1d3 40deg,#00f8e8 45deg,#00f8e8 50deg,#00fefc 55deg,#00fefc 60deg,#00f8e8 65deg,#00f8e8 70deg,#00f1d3 75deg,#00edc5 80deg,#00edc5 85deg,#00eab7 90deg,#00e5aa 95deg,#00e5aa 105deg,#00de9d 110deg,#00d583 115deg,#00d276 120deg,#00cd4f 125deg,#00ca3b 130deg,#00c214 135deg,#33c900 140deg,#7ada00 145deg,#8ade00 150deg,#8ade00 155deg)"></i>
<i style="left:86px;top:86px;right:86px;bottom:86px;background:conic-gradient(#00f1d3 25deg,#00f1d3 35deg,#00f8e8 40deg,#00fefc 45deg,#00fefc 65deg,#00f8e8 70deg,#00f8e8 75deg,#00f1d3 80deg,#00edc5 85deg,#00e5aa 90deg,#00e5aa 105deg,#00de9d 110deg,#00d890 115deg,#00d583 120deg,#00cf65 125deg,#00ca3b 130deg,#00bc00 135deg,#33c900 140deg,#68d600 145deg,#7ada00 150deg,#7ada00 155deg)"></i>
<i style="left:88px;top:88px;right:88px;bottom:88px;background:conic-gradient(#00f8e8 25deg,#00f8e8 35deg,#00fefc 40deg,#00fefc 75deg,#00f1d3 80deg,#00edc5 85deg,#00e5aa 90deg,#00e5aa 105deg,#00de9d 110deg,#00d890 115deg,#00d583 120deg,#00cf65 125deg,#00ca3b 130deg,#00bc00 135deg,#33c900 140deg,#68d600 145deg,#7ada00 150deg,#7ada00 155deg)"></i>
<i style="left:90px;top:90px;right:90px;bottom:90px;background:conic-gradient(#00fefc 25deg,#00fefc 75deg,#00f1d3 80deg,#00eab7 85deg,#00de9d 90deg,#00de9d 95deg,#00d890 100deg,#00d583 105deg,#00d276 110deg,#00cf65 115deg,#00cd4f 120deg,#00ca3b 125deg,#00c214 130deg,#00bc00 135deg,#33c900 140deg,#68d600 145deg,#68d600 155deg)"></i>
<i style="left:92px;top:92px;right:92px;bottom:92px;background:conic-gradient(#19f2ff 25deg,#19f2ff 50deg,#00fefc 55deg,#00fefc 75deg,#00edc5 80deg,#00e5aa 85deg,#00d890 90deg,#00cf65 95deg,#00c828 100deg,#1ac300 105deg,#33c900 110deg,#33c900 125deg,#1ac300 130deg,#1ac300 135deg,#44cd00 140deg,#56d200 145deg,#68d600 150deg,#68d600 155deg)"></i>
<i style="left:94px;top:94px;right:94px;bottom:94px;background:conic-gradient(#36e1ff 25deg,#36e1ff 45deg,#19f2ff 50deg,#00fefc 55deg,#00fefc 75deg,#00edc5 80deg,#00de9d 85deg,#00d276 90deg,#00c214 95deg,#56d200 100deg,#99e200 105deg,#a8e600 110deg,#99e200 115deg,#99e200 120deg,#7ada00 125deg,#56d200 130deg,#33c900 135deg,#44cd00 140deg,#56d200 145deg,#68d600 150deg,#68d600 155deg)"></i>
<i style="left:96px;top:96px;right:96px;bottom:96px;background:conic-gradient(#36e1ff 25deg,#36e1ff 45deg,#00fefc 50deg,#00f8e8 55deg,#00f1d3 60deg,#00f1d3 75deg,#00de9d 80deg,#00d276 85deg,#00ca3b 90deg,#44cd00 95deg,#99e200 100deg,#eefb00 105deg,#eefb00 110deg,#e2f800 115deg,#d5f400 120deg,#a8e600 125deg,#8ade00 130deg,#56d200 135deg,#56d200 155deg)"></i>
<i style="left:98px;top:98px;right:98px;bottom:98px;background:conic-gradient(#40dbff 25deg,#40dbff 30deg,#36e1ff 35deg,#19f2ff 40deg,#19f2ff 45deg,#00f8e8 50deg,#00edc5 55deg,#00e5aa 60deg,#00e5aa 65deg,#00de9d 70deg,#00de9d 75deg,#00cf65 80deg,#00c214 85deg,#44cd00 90deg,#8ade00 95deg,#d5f400 100deg,#fff000 105deg,#fff000 110deg,#fff900 115deg,#fbfe00 120deg,#d5f400 125deg,#a8e600 130deg,#68d600 135deg,#68d600 140deg,#56d200 145deg,#56d200 155deg)"></i>
<i style="left:100px;top:100px;right:100px;bottom:100px;background:conic-gradient(#40dbff 25deg,#40dbff 35deg,#19f2ff 40deg,#00fefc 45deg,#00edc5 50deg,#00e5aa 55deg,#00d583 60deg,#00d583 65deg,#00d276 70deg,#00d276 75deg,#00c214 80deg,#56d200 85deg,#99e200 90deg,#d5f400 95deg,#fff900 100deg,#ffd200 105deg,#ffd200 115deg,#ffe600 120deg,#eefb00 125deg,#c7ef00 130deg,#8ade00 135deg,#68d600 140deg,#56d200 145deg,#44cd00 150deg,#44cd00 155deg)"></i>
<i style="left:102px;top:102px;right:102px;bottom:102px;background:conic-gradient(#40d9ff 25deg,#40d9ff 30deg,#40dbff 35deg,#19f2ff 40deg,#00f8e8 45deg,#00eab7 50deg,#00d890 55deg,#00cf65 60deg,#00cd4f 65deg,#00ca3b 70deg,#00c828 75deg,#44cd00 80deg,#a8e600 85deg,#eefb00 90deg,#fff000 95deg,#ffd200 100deg,#ffb800 105deg,#ffae00 110deg,#ffb800 115deg,#ffc900 120deg,#fff000 125deg,#e2f800 130deg,#a8e600 135deg,#7ada00 140deg,#56d200 145deg,#44cd00 150deg,#44cd00 155deg)"></i>
<i style="left:104px;top:104px;right:104px;bottom:104px;background:conic-gradient(#40dbff 25deg,#40dbff 30deg,#36e1ff 35deg,#00fefc 40deg,#00edc5 45deg,#00de9d 50deg,#00d276 55deg,#00c828 60deg,#00c214 65deg,#00bc00 70deg,#1ac300 75deg,#68d600 80deg,#b8ea00 85deg,#fbfe00 90deg,#fff000 95deg,#ffd200 100deg,#ffb800 105deg,#ffae00 110deg,#ffb800 115deg,#ffc900 120deg,#fff000 125deg,#e2f800 130deg,#a8e600 135deg,#7ada00 140deg,#44cd00 145deg,#33c900 150deg,#33c900 155deg)"></i>
<i style="left:106px;top:106px;right:106px;bottom:106px;background:conic-gradient(#36e1ff 25deg,#36e1ff 30deg,#19f2ff 35deg,#00f1d3 40deg,#00eab7 45deg,#00d583 50deg,#00ca3b 55deg,#00bc00 60deg,#1ac300 65deg,#33c900 70deg,#44cd00 75deg,#8ade00 80deg,#c7ef00 85deg,#fbfe00 90deg,#ffe600 95deg,#ffc900 100deg,#ffae00 105deg,#ffa500 110deg,#ffae00 115deg,#ffc000 120deg,#ffe600 125deg,#eefb00 130deg,#a8e600 135deg,#7ada00 140deg,#44cd00 145deg,#33c900 150deg,#33c900 155deg)"></i>
<i style="left:108px;top:108px;right:108px;bottom:108px;background:conic-gradient(#19f2ff 25deg,#19f2ff 30deg,#00fefc 35deg,#00edc5 40deg,#00de9d 45deg,#00cf65 50deg,#00c214 55deg,#44cd00 60deg,#56d200 65deg,#68d600 70deg,#7ada00 75deg,#a8e600 80deg,#e2f800 85deg,#fff900 90deg,#ffdc00 95deg,#ffc000 100deg,#ffa500 105deg,#fd9b00 110deg,#ffa500 115deg,#ffb800 120deg,#ffe600 125deg,#eefb00 130deg,#b8ea00 135deg,#7ada00 140deg,#44cd00 145deg,#33c900 150deg,#33c900 155deg)"></i>
<i style="left:110px;top:110px;right:110px;bottom:110px;background:conic-gradient(#00fefc 25deg,#00fefc 30deg,#00f8e8 35deg,#00eab7 40deg,#00d890 45deg,#00ca3b 50deg,#1ac300 55deg,#68d600 60deg,#7ada00 65deg,#8ade00 70deg,#a8e600 75deg,#c7ef00 80deg,#eefb00 85deg,#fff000 90deg,#ffd200 95deg,#ffb800 100deg,#fd9b00 105deg,#fa9100 110deg,#fd9b00 115deg,#ffae00 120deg,#ffdc00 125deg,#fbfe00 130deg,#b8ea00 135deg,#7ada00 140deg,#44cd00 145deg,#1ac300 150deg,#1ac300 155deg)"></i>
<i style="left:112px;top:112px;right:112px;bottom:112px;background:conic-gradient(#00fefc 25deg,#00fefc 30deg,#00f1d3 35deg,#00e5aa 40deg,#00d276 45deg,#00c828 50deg,#44cd00 55deg,#8ade00 60deg,#a8e600 65deg,#b8ea00 70deg,#c7ef00 75deg,#e2f800 80deg,#fbfe00 85deg,#fff000 90deg,#ffd200 95deg,#ffb800 100deg,#fa9100 105deg,#fa9100 110deg,#fd9b00 115deg,#ffae00 120deg,#ffd200 125deg,#fbfe00 130deg,#c7ef00 135deg,#8ade00 140deg,#44cd00 145deg,#1ac300 150deg,#1ac300 155deg)"></i>
<i style="left:114px;top:114px;right:114px;bottom:114px;background:conic-gradient(#00f8e8 25deg,#00f8e8 30deg,#00edc5 35deg,#00d890 40deg,#00cf65 45deg,#00bc00 50deg,#56d200 55deg,#a8e600 60deg,#b8ea00 65deg,#c7ef00 70deg,#d5f400 75deg,#e2f800 80deg,#fbfe00 85deg,#fff000 90deg,#ffd200 95deg,#ffb800 100deg,#fd9b00 105deg,#fd9b00 110deg,#ffa500 115deg,#ffb800 120deg,#ffdc00 125deg,#eefb00 130deg,#b8ea00 135deg,#7ada00 140deg,#33c900 145deg,#1ac300 150deg,#1ac300 155deg)"></i>
<i style="left:116px;top:116px;right:116px;bottom:116px;background:conic-gradient(#00f1d3 25deg,#00f1d3 30deg,#00eab7 35deg,#00d583 40deg,#00ca3b 45deg,#33c900 50deg,#7ada00 55deg,#c7ef00 60deg,#c7ef00 65deg,#d5f400 70deg,#e2f800 75deg,#eefb00 80deg,#fbfe00 85deg,#fff900 90deg,#ffdc00 95deg,#ffc000 100deg,#ffae00 105deg,#ffa500 110deg,#ffae00 115deg,#ffc000 120deg,#ffe600 125deg,#eefb00 130deg,#a8e600 135deg,#7ada00 140deg,#33c900 145deg,#1ac300 150deg,#1ac300 155deg)"></i>
<i style="left:118px;top:118px;right:118px;bottom:118px;background:conic-gradient(#00edc5 25deg,#00edc5 30deg,#00e5aa 35deg,#00d276 40deg,#00c214 45deg,#44cd00 50deg,#99e200 55deg,#e2f800 60deg,#e2f800 75deg,#eefb00 80deg,#fbfe00 85deg,#fbfe00 90deg,#ffe600 95deg,#ffc900 100deg,#ffb800 105deg,#ffae00 110deg,#ffb800 115deg,#ffc900 120deg,#fff000 125deg,#e2f800 130deg,#a8e600 135deg,#68d600 140deg,#33c900 145deg,#00bc00 150deg,#00bc00 155deg)"></i>
<i style="left:120px;top:120px;right:120px;bottom:120px;background:conic-gradient(#00eab7 25deg,#00eab7 30deg,#00de9d 35deg,#00cf65 40deg,#00bc00 45deg,#68d600 50deg,#b8ea00 55deg,#fbfe00 60deg,#eefb00 65deg,#eefb00 85deg,#fbfe00 90deg,#fff000 95deg,#ffd200 100deg,#ffc000 105deg,#ffc000 115deg,#ffd200 120deg,#fff900 125deg,#d5f400 130deg,#99e200 135deg,#68d600 140deg,#1ac300 145deg,#00bc00 150deg,#00bc00 155deg)"></i>
<i style="left:122px;top:122px;right:122px;bottom:122px;background:conic-gradient(#00e5aa 25deg,#00e5aa 30deg,#00d890 35deg,#00ca3b 40deg,#33c900 45deg,#8ade00 50deg,#c7ef00 55deg,#fff900 60deg,#fff900 65deg,#fbfe00 70deg,#fbfe00 75deg,#eefb00 80deg,#eefb00 90deg,#fff900 95deg,#ffdc00 100deg,#ffc900 105deg,#ffc900 110deg,#ffd200 115deg,#ffdc00 120deg,#fbfe00 125deg,#c7ef00 130deg,#8ade00 135deg,#56d200 140deg,#1ac300 145deg,#00bc00 150deg,#00bc00 155deg)"></i>
<i style="left:124px;top:124px;right:124px;bottom:124px;background:conic-gradient(#00de9d 25deg,#00de9d 30deg,#00d890 35deg,#00ca3b 40deg,#33c900 45deg,#7ada00 50deg,#c7ef00 55deg,#fff900 60deg,#fbfe00 65deg,#fbfe00 70deg,#eefb00 75deg,#e2f800 80deg,#e2f800 85deg,#d5f400 90deg,#eefb00 95deg,#fff000 100deg,#ffdc00 105deg,#ffdc00 115deg,#ffe600 120deg,#eefb00 125deg,#b8ea00 130deg,#7ada00 135deg,#44cd00 140deg,#1ac300 145deg,#00bc00 150deg,#00bc00 155deg)"></i>
<i style="left:126px;top:126px;right:126px;bottom:126px;background:conic-gradient(#00de9d 25deg,#00de9d 30deg,#00d583 35deg,#00ca3b 40deg,#1ac300 45deg,#7ada00 50deg,#c7ef00 55deg,#fbfe00 60deg,#fbfe00 65deg,#eefb00 70deg,#e2f800 75deg,#d5f400 80deg,#c7ef00 85deg,#b8ea00 90deg,#e2f800 95deg,#fbfe00 100deg,#fff000 105deg,#ffe600 110deg,#fff000 115deg,#fff000 120deg,#e2f800 125deg,#a8e600 130deg,#68d600 135deg,#44cd00 140deg,#00bc00 145deg,#00bc00 155deg)"></i>
<i style="left:128px;top:128px;right:128px;bottom:128px;background:conic-gradient(#00d890 25deg,#00d890 30deg,#00d276 35deg,#00c828 40deg,#1ac300 45deg,#7ada00 50deg,#c7ef00 55deg,#fbfe00 60deg,#eefb00 65deg,#e2f800 70deg,#d5f400 75deg,#c7ef00 80deg,#b8ea00 85deg,#99e200 90deg,#c7ef00 95deg,#e2f800 100deg,#fff900 105deg,#fff900 120deg,#d5f400 125deg,#99e200 130deg,#44cd00 135deg,#33c900 140deg,#00bc00 145deg,#00bc00 150deg,#00c214 155deg)"></i>
<i style="left:130px;top:130px;right:130px;bottom:130px;background:conic-gradient(#00d583 25deg,#00d583 30deg,#00d276 35deg,#00c828 40deg,#1ac300 45deg,#7ada00 50deg,#b8ea00 55deg,#fbfe00 60deg,#eefb00 65deg,#d5f400 70deg,#c7ef00 75deg,#b8ea00 80deg,#99e200 85deg,#7ada00 90deg,#a8e600 95deg,#c7ef00 100deg,#eefb00 105deg,#eefb00 115deg,#fbfe00 120deg,#c7ef00 125deg,#7ada00 130deg,#33c900 135deg,#1ac300 140deg,#00bc00 145deg,#00c214 150deg,#00c214 155deg)"></i>
<i style="left:132px;top:132px;right:132px;bottom:132px;background:conic-gradient(#00d276 25deg,#00d276 30deg,#00cf65 35deg,#00c828 40deg,#1ac300 45deg,#68d600 50deg,#a8e600 55deg,#e2f800 60deg,#d5f400 65deg,#c7ef00 70deg,#a8e600 75deg,#99e200 80deg,#7ada00 85deg,#68d600 90deg,#8ade00 95deg,#a8e600 100deg,#c7ef00 105deg,#d5f400 110deg,#d5f400 115deg,#e2f800 120deg,#a8e600 125deg,#68d600 130deg,#1ac300 135deg,#1ac300 140deg,#00bc00 145deg,#00c214 150deg,#00c214 155deg)"></i>
<i style="left:134px;top:134px;right:134px;bottom:134px;background:conic-gradient(#00d276 25deg,#00d276 30deg,#00cf65 35deg,#00c828 40deg,#00bc00 45deg,#56d200 50deg,#99e200 55deg,#c7ef00 60deg,#b8ea00 65deg,#a8e600 70deg,#99e200 75deg,#7ada00 80deg,#68d600 85deg,#44cd00 90deg,#68d600 95deg,#8ade00 100deg,#a8e600 105deg,#a8e600 110deg,#b8ea00 115deg,#c7ef00 120deg,#8ade00 125deg,#56d200 130deg,#1ac300 135deg,#00bc00 140deg,#00c214 145deg,#00c214 155deg)"></i>
<i style="left:136px;top:136px;right:136px;bottom:136px;background:conic-gradient(#00cf65 25deg,#00cf65 30deg,#00cd4f 35deg,#00c828 40deg,#00bc00 45deg,#44cd00 50deg,#7ada00 55deg,#b8ea00 60deg,#99e200 65deg,#8ade00 70deg,#7ada00 75deg,#68d600 80deg,#44cd00 85deg,#33c900 90deg,#44cd00 95deg,#68d600 100deg,#7ada00 105deg,#8ade00 110deg,#99e200 115deg,#a8e600 120deg,#7ada00 125deg,#44cd00 130deg,#00bc00 135deg,#00bc00 140deg,#00c214 145deg,#00c214 155deg)"></i>
<i style="left:138px;top:138px;right:138px;bottom:138px;background:conic-gradient(#00cd4f 25deg,#00cd4f 35deg,#00c828 40deg,#00c214 45deg,#33c900 50deg,#68d600 55deg,#99e200 60deg,#8ade00 65deg,#68d600 70deg,#56d200 75deg,#44cd00 80deg,#33c900 85deg,#00bc00 90deg,#1ac300 95deg,#44cd00 100deg,#56d200 105deg,#68d600 110deg,#7ada00 115deg,#8ade00 120deg,#56d200 125deg,#33c900 130deg,#00c214 135deg,#00c214 155deg)"></i>
<i style="left:140px;top:140px;right:140px;bottom:140px;background:conic-gradient(#00cd4f 25deg,#00cd4f 30deg,#00ca3b 35deg,#00c828 40deg,#00c214 45deg,#1ac300 50deg,#56d200 55deg,#7ada00 60deg,#68d600 65deg,#56d200 70deg,#33c900 75deg,#1ac300 80deg,#00bc00 85deg,#00c214 90deg,#00bc00 95deg,#1ac300 100deg,#1ac300 105deg,#33c900 110deg,#44cd00 115deg,#68d600 120deg,#44cd00 125deg,#1ac300 130deg,#00c214 135deg,#00c214 155deg)"></i>
<i style="left:142px;top:142px;right:142px;bottom:142px;background:conic-gradient(#00ca3b 25deg,#00ca3b 35deg,#00c828 40deg,#00c214 45deg,#1ac300 50deg,#44cd00 55deg,#7ada00 60deg,#56d200 65deg,#44cd00 70deg,#1ac300 75deg,#00bc00 80deg,#00c214 85deg,#00c828 90deg,#00c214 95deg,#00bc00 100deg,#00bc00 105deg,#1ac300 110deg,#44cd00 115deg,#56d200 120deg,#33c900 125deg,#1ac300 130deg,#00c214 135deg,#00c214 155deg)"></i>
<i style="left:144px;top:144px;right:144px;bottom:144px;background:conic-gradient(#00ca3b 25deg,#00ca3b 30deg,#00c828 35deg,#00c828 40deg,#00c214 45deg,#1ac300 50deg,#44cd00 55deg,#68d600 60deg,#44cd00 65deg,#33c900 70deg,#00bc00 75deg,#00bc00 80deg,#00c214 85deg,#00c828 90deg,#00c828 95deg,#00c214 100deg,#00c214 105deg,#00bc00 110deg,#33c900 115deg,#44cd00 120deg,#33c900 125deg,#00bc00 130deg,#00c214 135deg,#00c214 155deg)"></i>
<i style="left:146px;top:146px;right:146px;bottom:146px;background:conic-gradient(#00c828 25deg,#00c828 35deg,#00c214 40deg,#00bc00 45deg,#1ac300 50deg,#44cd00 55deg,#56d200 60deg,#44cd00 65deg,#1ac300 70deg,#00bc00 75deg,#00c214 80deg,#00c828 85deg,#00ca3b 90deg,#00c828 95deg,#00c828 100deg,#00c214 105deg,#00bc00 110deg,#1ac300 115deg,#33c900 120deg,#1ac300 125deg,#00bc00 130deg,#00c214 135deg,#00c214 155deg)"></i>
<i style="left:148px;top:148px;right:148px;bottom:148px;background:conic-gradient(#00c828 25deg,#00c828 35deg,#00c214 40deg,#00bc00 45deg,#1ac300 50deg,#33c900 55deg,#44cd00 60deg,#33c900 65deg,#00bc00 70deg,#00c214 75deg,#00c828 80deg,#00c828 85deg,#00ca3b 90deg,#00ca3b 100deg,#00c828 105deg,#00c214 110deg,#00bc00 115deg,#33c900 120deg,#1ac300 125deg,#00bc00 130deg,#00c214 135deg,#00c214 155deg)"></i>
<i style="left:150px;top:150px;right:150px;bottom:150px;background:conic-gradient(#00c214 25deg,#00c214 40deg,#00bc00 45deg,#1ac300 50deg,#33c900 55deg,#44cd00 60deg,#1ac300 65deg,#00bc00 70deg,#00c828 75deg,#00c828 80deg,#00ca3b 85deg,#00ca3b 105deg,#00c828 110deg,#00c214 115deg,#1ac300 120deg,#00bc00 125deg,#00bc00 130deg,#00c214 135deg,#00c214 155deg)"></i>
<i style="left:152px;top:152px;right:152px;bottom:152px;background:conic-gradient(#00c214 25deg,#00c214 35deg,#00bc00 40deg,#00bc00 45deg,#1ac300 50deg,#1ac300 55deg,#33c900 60deg,#00bc00 65deg,#00c214 70deg,#00ca3b 75deg,#00ca3b 80deg,#00cd4f 85deg,#00cd4f 105deg,#00ca3b 110deg,#00c828 115deg,#00bc00 120deg,#00bc00 130deg,#00c214 135deg,#00c214 155deg)"></i>
<i style="left:154px;top:154px;right:154px;bottom:154px;background:conic-gradient(#00bc00 25deg,#00bc00 40deg,#1ac300 45deg,#1ac300 60deg,#00bc00 65deg,#00c828 70deg,#00cd4f 75deg,#00cd4f 90deg,#00cf65 95deg,#00cf65 105deg,#00cd4f 110deg,#00c828 115deg,#00c214 120deg,#00c214 155deg)"></i>
<i style="left:156px;top:156px;right:156px;bottom:156px;background:conic-gradient(#00bc00 25deg,#00bc00 40deg,#1ac300 45deg,#1ac300 55deg,#00bc00 60deg,#00c214 65deg,#00ca3b 70deg,#00cf65 75deg,#00cf65 95deg,#00d276 100deg,#00d276 105deg,#00cf65 110deg,#00ca3b 115deg,#00c214 120deg,#00c214 130deg,#00bc00 135deg,#00c214 140deg,#00c214 155deg)"></i>
<i style="left:158px;top:158px;right:158px;bottom:158px;background:conic-gradient(#1ac300 25deg,#1ac300 50deg,#00bc00 55deg,#00bc00 60deg,#00c828 65deg,#00cd4f 70deg,#00cf65 75deg,#00cf65 90deg,#00d276 95deg,#00d276 100deg,#00d583 105deg,#00d276 110deg,#00cd4f 115deg,#00c828 120deg,#00c214 125deg,#00c214 130deg,#00bc00 135deg,#00c214 140deg,#00c214 155deg)"></i>
<i style="left:160px;top:160px;right:160px;bottom:160px;background:conic-gradient(#1ac300 25deg,#1ac300 40deg,#33c900 45deg,#1ac300 50deg,#1ac300 55deg,#00bc00 60deg,#00c828 65deg,#00cd4f 70deg,#00d276 75deg,#00d276 85deg,#00d583 90deg,#00d583 95deg,#00d890 100deg,#00d890 105deg,#00d583 110deg,#00cf65 115deg,#00ca3b 120deg,#00c828 125deg,#00c214 130deg,#00bc00 135deg,#00bc00 140deg,#00c214 145deg,#00c214 155deg)"></i>
<i style="left:162px;top:162px;right:162px;bottom:162px;background:conic-gradient(#1ac300 25deg,#1ac300 30deg,#33c900 35deg,#33c900 50deg,#1ac300 55deg,#00bc00 60deg,#00c828 65deg,#00cd4f 70deg,#00d583 75deg,#00d583 85deg,#00d890 90deg,#00d890 95deg,#00de9d 100deg,#00e5aa 105deg,#00d890 110deg,#00d276 115deg,#00cd4f 120deg,#00ca3b 125deg,#00c214 130deg,#00bc00 135deg,#00bc00 155deg)"></i>
<i style="left:164px;top:164px;right:164px;bottom:164px;background:conic-gradient(#33c900 25deg,#33c900 40deg,#44cd00 45deg,#33c900 50deg,#1ac300 55deg,#1ac300 60deg,#00c828 65deg,#00cd4f 70deg,#00d583 75deg,#00d890 80deg,#00d890 85deg,#00de9d 90deg,#00e5aa 95deg,#00e5aa 100deg,#00eab7 105deg,#00e5aa 110deg,#00d890 115deg,#00d276 120deg,#00cd4f 125deg,#00c828 130deg,#00bc00 135deg,#00bc00 155deg)"></i>
<i style="left:166px;top:166px;right:166px;bottom:166px;background:conic-gradient(#33c900 25deg,#33c900 30deg,#44cd00 35deg,#44cd00 45deg,#33c900 50deg,#33c900 55deg,#1ac300 60deg,#00c828 65deg,#00cf65 70deg,#00d890 75deg,#00d890 80deg,#00de9d 85deg,#00e5aa 90deg,#00eab7 95deg,#00edc5 100deg,#00edc5 105deg,#00eab7 110deg,#00de9d 115deg,#00d583 120deg,#00cd4f 125deg,#00c828 130deg,#00bc00 135deg,#1ac300 140deg,#1ac300 155deg)"></i>
<i style="left:168px;top:168px;right:168px;bottom:168px;background:conic-gradient(#44cd00 25deg,#44cd00 40deg,#56d200 45deg,#44cd00 50deg,#33c900 55deg,#33c900 60deg,#00c828 65deg,#00cf65 70deg,#00d890 75deg,#00de9d 80deg,#00e5aa 85deg,#00eab7 90deg,#00edc5 95deg,#00f1d3 100deg,#00f8e8 105deg,#00edc5 110deg,#00e5aa 115deg,#00d890 120deg,#00cf65 125deg,#00c828 130deg,#1ac300 135deg,#1ac300 155deg)"></i>
<i style="left:170px;top:170px;right:170px;bottom:170px;background:conic-gradient(#44cd00 25deg,#44cd00 30deg,#56d200 35deg,#56d200 45deg,#44cd00 50deg,#44cd00 55deg,#33c900 60deg,#00c828 65deg,#00cf65 70deg,#00de9d 75deg,#00e5aa 80deg,#00eab7 85deg,#00edc5 90deg,#00f1d3 95deg,#00f8e8 100deg,#00fefc 105deg,#00f1d3 110deg,#00eab7 115deg,#00de9d 120deg,#00d276 125deg,#00c828 130deg,#1ac300 135deg,#1ac300 140deg,#33c900 145deg,#33c900 155deg)"></i>
<i style="left:172px;top:172px;right:172px;bottom:172px;background:conic-gradient(#56d200 25deg,#56d200 40deg,#68d600 45deg,#56d200 50deg,#44cd00 55deg,#33c900 60deg,#00c828 65deg,#00cf65 70deg,#00de9d 75deg,#00eab7 80deg,#00edc5 85deg,#00f8e8 90deg,#00fefc 95deg,#19f2ff 100deg,#36e1ff 105deg,#00f8e8 110deg,#00edc5 115deg,#00e5aa 120deg,#00d276 125deg,#00ca3b 130deg,#1ac300 135deg,#33c900 140deg,#33c900 155deg)"></i>
<i style="left:174px;top:174px;right:174px;bottom:174px;background:conic-gradient(#56d200 25deg,#56d200 30deg,#68d600 35deg,#68d600 45deg,#56d200 50deg,#56d200 55deg,#44cd00 60deg,#00c214 65deg,#00d276 70deg,#00e5aa 75deg,#00edc5 80deg,#00f1d3 85deg,#00fefc 90deg,#19f2ff 95deg,#36e1ff 100deg,#40dbff 105deg,#19f2ff 110deg,#00f1d3 115deg,#00eab7 120deg,#00d583 125deg,#00ca3b 130deg,#1ac300 135deg,#33c900 140deg,#44cd00 145deg,#44cd00 155deg)"></i>
<i style="left:176px;top:176px;right:176px;bottom:176px;background:conic-gradient(#56d200 25deg,#56d200 40deg,#68d600 45deg,#56d200 50deg,#44cd00 55deg,#33c900 60deg,#00c828 65deg,#00d276 70deg,#00e5aa 75deg,#00edc5 80deg,#00f1d3 85deg,#00fefc 90deg,#19f2ff 95deg,#36e1ff 100deg,#40dbff 105deg,#19f2ff 110deg,#00f8e8 115deg,#00edc5 120deg,#00d890 125deg,#00ca3b 130deg,#1ac300 135deg,#1ac300 140deg,#33c900 145deg,#33c900 155deg)"></i>
<i style="left:178px;top:178px;right:178px;bottom:178px;background:conic-gradient(#44cd00 25deg,#44cd00 50deg,#33c900 55deg,#1ac300 60deg,#00c828 65deg,#00d276 70deg,#00e5aa 75deg,#00eab7 80deg,#00edc5 85deg,#00f8e8 90deg,#00fefc 95deg,#19f2ff 100deg,#36e1ff 105deg,#00fefc 110deg,#00f1d3 115deg,#00eab7 120deg,#00d583 125deg,#00cd4f 130deg,#00bc00 135deg,#00bc00 140deg,#1ac300 145deg,#1ac300 155deg)"></i>
<i style="left:180px;top:180px;right:180px;bottom:180px;background:conic-gradient(#1ac300 25deg,#1ac300 35deg,#33c900 40deg,#33c900 45deg,#1ac300 50deg,#1ac300 55deg,#00bc00 60deg,#00ca3b 65deg,#00d276 70deg,#00de9d 75deg,#00eab7 80deg,#00edc5 85deg,#00f1d3 90deg,#00f8e8 95deg,#00f8e8 100deg,#00fefc 105deg,#00f8e8 110deg,#00edc5 115deg,#00eab7 120deg,#00d583 125deg,#00cd4f 130deg,#00c214 135deg,#00c214 140deg,#00bc00 145deg,#00bc00 155deg)"></i>
<i style="left:182px;top:182px;right:182px;bottom:182px;background:conic-gradient(#00bc00 25deg,#00bc00 50deg,#00c214 55deg,#00c214 60deg,#00cd4f 65deg,#00d276 70deg,#00de9d 75deg,#00e5aa 80deg,#00eab7 85deg,#00edc5 90deg,#00f1d3 95deg,#00f1d3 100deg,#00f8e8 105deg,#00edc5 110deg,#00eab7 115deg,#00e5aa 120deg,#00d583 125deg,#00cf65 130deg,#00c828 135deg,#00c828 140deg,#00c214 145deg,#00c214 155deg)"></i>
<i style="left:184px;top:184px;right:184px;bottom:184px;background:conic-gradient(#00c828 25deg,#00c828 30deg,#00c214 35deg,#00c214 45deg,#00c828 50deg,#00c828 60deg,#00cd4f 65deg,#00d276 70deg,#00de9d 75deg,#00de9d 80deg,#00e5aa 85deg,#00eab7 90deg,#00eab7 95deg,#00edc5 100deg,#00edc5 105deg,#00eab7 110deg,#00e5aa 115deg,#00de9d 120deg,#00d583 125deg,#00cf65 130deg,#00ca3b 135deg,#00ca3b 140deg,#00c828 145deg,#00c828 155deg)"></i>
<i style="left:186px;top:186px;right:186px;bottom:186px;background:conic-gradient(#00ca3b 25deg,#00ca3b 60deg,#00cf65 65deg,#00d583 70deg,#00d890 75deg,#00de9d 80deg,#00de9d 85deg,#00e5aa 90deg,#00e5aa 95deg,#00eab7 100deg,#00eab7 105deg,#00e5aa 110deg,#00de9d 115deg,#00de9d 120deg,#00d583 125deg,#00d276 130deg,#00cd4f 135deg,#00cd4f 145deg,#00ca3b 150deg,#00ca3b 155deg)"></i>
<i style="left:188px;top:188px;right:188px;bottom:188px;background:conic-gradient(#00cd4f 25deg,#00cd4f 55deg,#00cf65 60deg,#00d276 65deg,#00d583 70deg,#00d890 75deg,#00d890 80deg,#00de9d 85deg,#00de9d 100deg,#00e5aa 105deg,#00de9d 110deg,#00de9d 115deg,#00d890 120deg,#00d583 125deg,#00d276 130deg,#00cf65 135deg,#00cf65 155deg)"></i>
<i style="left:190px;top:190px;right:190px;bottom:190px;background:conic-gradient(#00d276 25deg,#00d276 65deg,#00d583 70deg,#00d583 75deg,#00d890 80deg,#00d890 120deg,#00d583 125deg,#00d583 130deg,#00d276 135deg,#00d276 155deg)"></i>
<i style="left:192px;top:192px;right:192px;bottom:192px;background:conic-gradient(#00d583 25deg,#00d583 155deg)"></i>
</div>
<div class="rc" style="left:786.0px;top:122.0px;width:128.0px;height:380.0px">
<i style="background:linear-gradient(90deg,#1ac300 0px,#1ac300 8px,#1ac300 16px,#00c828 24px,#00d583 32px,#00e5aa 40px,#00e5aa 48px,#00d583 56px,#00cd4f 64px,#00c828 72px,#1ac300 80px,#44cd00 88px,#68d600 96px,#99e200 104px,#c7ef00 112px,#fbfe00 120px,#fbfe00 128px)"></i>
<i style="background:linear-gradient(90deg,#1ac300 0px,#1ac300 8px,#1ac300 16px,#00c828 24px,#00d583 32px,#00e5aa 40px,#00e5aa 48px,#00d583 56px,#00cd4f 64px,#00c828 72px,#1ac300 80px,#44cd00 88px,#68d600 96px,#99e200 104px,#c7ef00 112px,#fbfe00 120px,#fbfe00 128px)"></i>
<i style="background:linear-gradient(90deg,#1ac300 0px,#1ac300 8px,#1ac300 16px,#00c828 24px,#00d583 32px,#00e5aa 40px,#00e5aa 48px,#00d583 56px,#00cd4f 64px,#00c828 72px,#1ac300 80px,#44cd00 88px,#68d600 96px,#99e200 104px,#c7ef00 112px,#fbfe00 120px,#fbfe00 128px)"></i>
<i style="background:linear-gradient(90deg,#1ac300 0px,#1ac300 8px,#1ac300 16px,#00c828 24px,#00d583 32px,#00e5aa 40px,#00e5aa 48px,#00d583 56px,#00cd4f 64px,#00c828 72px,#1ac300 80px,#44cd00 88px,#68d600 96px,#99e200 104px,#c7ef00 112px,#fbfe00 120px,#fbfe00 128px)"></i>
<i style="background:linear-gradient(90deg,#1ac300 0px,#1ac300 8px,#00bc00 16px,#00ca3b 24px,#00d583 32px,#00eab7 40px,#00e5aa 48px,#00d890 56px,#00cf65 64px,#00c828 72px,#00bc00 80px,#33c900 88px,#68d600 96px,#99e200 104px,#c7ef00 112px,#fbfe00 120px,#fbfe00 128px)"></i>
<i style="background:linear-gradient(90deg,#1ac300 0px,#1ac300 8px,#00c214 16px,#00cd4f 24px,#00d890 32px,#00eab7 40px,#00eab7 48px,#00d890 56px,#00cf65 64px,#00c828 72px,#00bc00 80px,#1ac300 88px,#56d200 96px,#99e200 104px,#d5f400 112px,#fbfe00 120px,#fbfe00 128px)"></i>
<i style="background:linear-gradient(90deg,#1ac300 0px,#1ac300 8px,#00c828 16px,#00cf65 24px,#00de9d 32px,#00eab7 40px,#00eab7 48px,#00de9d 56px,#00cf65 64px,#00c828 72px,#00c214 80px,#00bc00 88px,#56d200 96px,#99e200 104px,#d5f400 112px,#fbfe00 120px,#fbfe00 128px)"></i>
<i style="background:linear-gradient(90deg,#1ac300 0px,#1ac300 8px,#00c828 16px,#00d276 24px,#00de9d 32px,#00edc5 40px,#00eab7 48px,#00de9d 56px,#00cf65 64px,#00c828 72px,#00c214 80px,#00bc00 88px,#56d200 96px,#99e200 104px,#d5f400 112px,#eefb00 120px,#eefb00 128px)"></i>
<i style="background:linear-gradient(90deg,#1ac300 0px,#1ac300 8px,#00ca3b 16px,#00d583 24px,#00e5aa 32px,#00edc5 40px,#00edc5 48px,#00de9d 56px,#00cf65 64px,#00c828 72px,#00c214 80px,#00c214 88px,#44cd00 96px,#99e200 104px,#d5f400 112px,#eefb00 120px,#eefb00 128px)"></i>
<i style="background:linear-gradient(90deg,#00bc00 0px,#00bc00 8px,#00cd4f 16px,#00d583 24px,#00e5aa 32px,#00edc5 40px,#00edc5 48px,#00e5aa 56px,#00d276 64px,#00c828 72px,#00c214 80px,#00c214 88px,#44cd00 96px,#99e200 104px,#d5f400 112px,#eefb00 120px,#eefb00 128px)"></i>
<i style="background:linear-gradient(90deg,#00bc00 0px,#00bc00 8px,#00cd4f 16px,#00d890 24px,#00eab7 32px,#00f1d3 40px,#00edc5 48px,#00e5aa 56px,#00d276 64px,#00c828 72px,#00c214 80px,#00c214 88px,#44cd00 96px,#99e200 104px,#d5f400 112px,#eefb00 120px,#eefb00 128px)"></i>
<i style="background:linear-gradient(90deg,#00bc00 0px,#00bc00 8px,#00cf65 16px,#00de9d 24px,#00eab7 32px,#00f1d3 40px,#00f1d3 48px,#00e5aa 56px,#00d276 64px,#00c828 72px,#00c214 80px,#00bc00 88px,#44cd00 96px,#99e200 104px,#c7ef00 112px,#eefb00 120px,#eefb00 128px)"></i>
<i style="background:linear-gradient(90deg,#00c214 0px,#00c214 8px,#00d276 16px,#00de9d 24px,#00edc5 32px,#00f1d3 40px,#00f1d3 48px,#00eab7 56px,#00d276 64px,#00c828 72px,#00c214 80px,#00bc00 88px,#56d200 96px,#99e200 104px,#c7ef00 112px,#eefb00 120px,#eefb00 128px)"></i>
<i style="background:linear-gradient(90deg,#00c214 0px,#00c214 8px,#00d276 16px,#00e5aa 24px,#00edc5 32px,#00f1d3 40px,#00f1d3 48px,#00eab7 56px,#00d276 64px,#00c828 72px,#00c214 80px,#1ac300 88px,#56d200 96px,#99e200 104px,#c7ef00 112px,#e2f800 120px,#e2f800 128px)"></i>
<i style="background:linear-gradient(90deg,#00c828 0px,#00c828 8px,#00d583 16px,#00e5aa 24px,#00f1d3 32px,#00f1d3 40px,#00f1d3 48px,#00eab7 56px,#00d276 64px,#00c828 72px,#00bc00 80px,#33c900 88px,#56d200 96px,#99e200 104px,#c7ef00 112px,#e2f800 120px,#e2f800 128px)"></i>
<i style="background:linear-gradient(90deg,#00c828 0px,#00c828 8px,#00d583 16px,#00eab7 24px,#00f1d3 32px,#00f8e8 40px,#00f1d3 48px,#00eab7 56px,#00d583 64px,#00c828 72px,#00bc00 80px,#44cd00 88px,#68d600 96px,#8ade00 104px,#b8ea00 112px,#e2f800 120px,#e2f800 128px)"></i>
<i style="background:linear-gradient(90deg,#00ca3b 0px,#00ca3b 8px,#00d890 16px,#00eab7 24px,#00f1d3 32px,#00f8e8 40px,#00f1d3 48px,#00eab7 56px,#00d583 64px,#00ca3b 72px,#1ac300 80px,#56d200 88px,#68d600 96px,#8ade00 104px,#b8ea00 112px,#d5f400 120px,#d5f400 128px)"></i>
<i style="background:linear-gradient(90deg,#00cd4f 0px,#00cd4f 8px,#00de9d 16px,#00edc5 24px,#00f1d3 32px,#00f8e8 40px,#00f1d3 48px,#00eab7 56px,#00d583 64px,#00ca3b 72px,#1ac300 80px,#56d200 88px,#7ada00 96px,#8ade00 104px,#a8e600 112px,#d5f400 120px,#d5f400 128px)"></i>
<i style="background:linear-gradient(90deg,#00cd4f 0px,#00cd4f 8px,#00de9d 16px,#00edc5 24px,#00f8e8 32px,#00f8e8 40px,#00f1d3 48px,#00eab7 56px,#00d583 64px,#00ca3b 72px,#1ac300 80px,#68d600 88px,#7ada00 96px,#8ade00 104px,#a8e600 112px,#d5f400 120px,#d5f400 128px)"></i>
<i style="background:linear-gradient(90deg,#00cf65 0px,#00cf65 8px,#00e5aa 16px,#00f1d3 24px,#00f8e8 32px,#00f8e8 40px,#00f1d3 48px,#00eab7 56px,#00d890 64px,#00cd4f 72px,#1ac300 80px,#68d600 88px,#7ada00 96px,#7ada00 104px,#99e200 112px,#c7ef00 120px,#c7ef00 128px)"></i>
<i style="background:linear-gradient(90deg,#00d276 0px,#00d276 8px,#00eab7 16px,#00f1d3 24px,#00f8e8 32px,#00f8e8 40px,#00f1d3 48px,#00eab7 56px,#00d890 64px,#00cd4f 72px,#1ac300 80px,#56d200 88px,#7ada00 96px,#7ada00 104px,#99e200 112px,#c7ef00 120px,#c7ef00 128px)"></i>
<i style="background:linear-gradient(90deg,#00d583 0px,#00d583 8px,#00eab7 16px,#00f8e8 24px,#00fefc 32px,#00f8e8 40px,#00f1d3 48px,#00edc5 56px,#00de9d 64px,#00cf65 72px,#00bc00 80px,#56d200 88px,#68d600 96px,#68d600 104px,#8ade00 112px,#c7ef00 120px,#c7ef00 128px)"></i>
<i style="background:linear-gradient(90deg,#00de9d 0px,#00de9d 8px,#00edc5 16px,#00f8e8 24px,#00fefc 32px,#00f8e8 40px,#00f1d3 48px,#00edc5 56px,#00de9d 64px,#00d276 72px,#00c214 80px,#44cd00 88px,#56d200 96px,#68d600 104px,#8ade00 112px,#b8ea00 120px,#b8ea00 128px)"></i>
<i style="background:linear-gradient(90deg,#00e5aa 0px,#00e5aa 8px,#00f1d3 16px,#00fefc 24px,#00fefc 32px,#00f8e8 40px,#00f8e8 48px,#00edc5 56px,#00e5aa 64px,#00d583 72px,#00c828 80px,#33c900 88px,#56d200 96px,#56d200 104px,#8ade00 112px,#b8ea00 120px,#b8ea00 128px)"></i>
<i style="background:linear-gradient(90deg,#00eab7 0px,#00eab7 8px,#00f8e8 16px,#00fefc 24px,#00fefc 32px,#00f8e8 40px,#00f8e8 48px,#00f1d3 56px,#00eab7 64px,#00d890 72px,#00ca3b 80px,#1ac300 88px,#44cd00 96px,#56d200 104px,#7ada00 112px,#b8ea00 120px,#b8ea00 128px)"></i>
<i style="background:linear-gradient(90deg,#00edc5 0px,#00edc5 8px,#00fefc 16px,#19f2ff 24px,#19f2ff 32px,#00fefc 40px,#00f8e8 48px,#00f1d3 56px,#00eab7 64px,#00de9d 72px,#00cd4f 80px,#00bc00 88px,#33c900 96px,#44cd00 104px,#7ada00 112px,#a8e600 120px,#a8e600 128px)"></i>
<i style="background:linear-gradient(90deg,#00f8e8 0px,#00f8e8 8px,#19f2ff 16px,#36e1ff 24px,#19f2ff 32px,#00fefc 40px,#00f8e8 48px,#00f8e8 56px,#00edc5 64px,#00de9d 72px,#00cf65 80px,#00c828 88px,#00bc00 96px,#33c900 104px,#68d600 112px,#a8e600 120px,#a8e600 128px)"></i>
<i style="background:linear-gradient(90deg,#00f8e8 0px,#00f8e8 8px,#19f2ff 16px,#36e1ff 24px,#19f2ff 32px,#00fefc 40px,#00fefc 48px,#00f8e8 56px,#00f1d3 64px,#00e5aa 72px,#00d583 80px,#00ca3b 88px,#00c214 96px,#1ac300 104px,#56d200 112px,#99e200 120px,#99e200 128px)"></i>
<i style="background:linear-gradient(90deg,#00fefc 0px,#00fefc 8px,#36e1ff 16px,#36e1ff 24px,#36e1ff 32px,#19f2ff 40px,#19f2ff 48px,#00fefc 56px,#00f8e8 64px,#00eab7 72px,#00d890 80px,#00cd4f 88px,#00c828 96px,#00bc00 104px,#44cd00 112px,#8ade00 120px,#8ade00 128px)"></i>
<i style="background:linear-gradient(90deg,#19f2ff 0px,#19f2ff 8px,#40dbff 16px,#40dbff 24px,#36e1ff 32px,#36e1ff 40px,#36e1ff 48px,#19f2ff 56px,#00fefc 64px,#00edc5 72px,#00de9d 80px,#00cf65 88px,#00ca3b 96px,#00c214 104px,#33c900 112px,#7ada00 120px,#7ada00 128px)"></i>
<i style="background:linear-gradient(90deg,#36e1ff 0px,#36e1ff 8px,#40dbff 16px,#40dbff 24px,#40dbff 32px,#36e1ff 40px,#36e1ff 48px,#36e1ff 56px,#19f2ff 64px,#00f1d3 72px,#00e5aa 80px,#00d276 88px,#00cd4f 96px,#00c828 104px,#1ac300 112px,#68d600 120px,#68d600 128px)"></i>
<i style="background:linear-gradient(90deg,#40dbff 0px,#40dbff 8px,#40dbff 16px,#40d9ff 24px,#40dbff 32px,#40dbff 40px,#40d9ff 48px,#40dbff 56px,#19f2ff 64px,#00f8e8 72px,#00eab7 80px,#00d890 88px,#00cf65 96px,#00ca3b 104px,#00bc00 112px,#56d200 120px,#56d200 128px)"></i>
<i style="background:linear-gradient(90deg,#40dbff 0px,#40dbff 8px,#40d9ff 16px,#40d9ff 24px,#40d9ff 32px,#40d9ff 40px,#40ccff 48px,#40d9ff 56px,#36e1ff 64px,#00f8e8 72px,#00edc5 80px,#00de9d 88px,#00d276 96px,#00cd4f 104px,#00c214 112px,#33c900 120px,#33c900 128px)"></i>
<i style="background:linear-gradient(90deg,#40dbff 0px,#40dbff 8px,#40d9ff 16px,#40d9ff 24px,#40d9ff 32px,#40ccff 40px,#40ccff 48px,#40ccff 56px,#40dbff 64px,#00fefc 72px,#00edc5 80px,#00e5aa 88px,#00d890 96px,#00cf65 104px,#00c828 112px,#1ac300 120px,#1ac300 128px)"></i>
<i style="background:linear-gradient(90deg,#40d9ff 0px,#40d9ff 8px,#40d9ff 16px,#40d9ff 24px,#40ccff 32px,#40ccff 40px,#40b4ff 48px,#40b4ff 56px,#40d9ff 64px,#19f2ff 72px,#00f1d3 80px,#00eab7 88px,#00de9d 96px,#00d276 104px,#00ca3b 112px,#00bc00 120px,#00bc00 128px)"></i>
<i style="background:linear-gradient(90deg,#40d9ff 0px,#40d9ff 8px,#40d9ff 16px,#40d9ff 24px,#40ccff 32px,#40ccff 40px,#40b4ff 48px,#40b4ff 56px,#40d9ff 64px,#19f2ff 72px,#00f8e8 80px,#00edc5 88px,#00e5aa 96px,#00d583 104px,#00cd4f 112px,#00bc00 120px,#00bc00 128px)"></i>
<i style="background:linear-gradient(90deg,#40d9ff 0px,#40d9ff 8px,#40d9ff 16px,#40d9ff 24px,#40ccff 32px,#40ccff 40px,#40b4ff 48px,#40b4ff 56px,#40d9ff 64px,#36e1ff 72px,#00fefc 80px,#00f1d3 88px,#00eab7 96px,#00d890 104px,#00cf65 112px,#00c214 120px,#00c214 128px)"></i>
<i style="background:linear-gradient(90deg,#40dbff 0px,#40dbff 8px,#40d9ff 16px,#40d9ff 24px,#40ccff 32px,#40ccff 40px,#40b4ff 48px,#40b4ff 56px,#40d9ff 64px,#36e1ff 72px,#00fefc 80px,#00f8e8 88px,#00eab7 96px,#00de9d 104px,#00cf65 112px,#00c214 120px,#00c214 128px)"></i>
<i style="background:linear-gradient(90deg,#40dbff 0px,#40dbff 8px,#40d9ff 16px,#40d9ff 24px,#40d9ff 32px,#40ccff 40px,#40b4ff 48px,#40b4ff 56px,#40d9ff 64px,#36e1ff 72px,#19f2ff 80px,#00f8e8 88px,#00edc5 96px,#00de9d 104px,#00d276 112px,#00c828 120px,#00c828 128px)"></i>
<i style="background:linear-gradient(90deg,#40dbff 0px,#40dbff 8px,#40dbff 16px,#40d9ff 24px,#40d9ff 32px,#40ccff 40px,#40ccff 48px,#40ccff 56px,#40d9ff 64px,#40dbff 72px,#19f2ff 80px,#00fefc 88px,#00f1d3 96px,#00e5aa 104px,#00d276 112px,#00c828 120px,#00c828 128px)"></i>
<i style="background:linear-gradient(90deg,#36e1ff 0px,#36e1ff 8px,#40dbff 16px,#40dbff 24px,#40d9ff 32px,#40d9ff 40px,#40d9ff 48px,#40d9ff 56px,#40d9ff 64px,#40dbff 72px,#36e1ff 80px,#19f2ff 88px,#00f1d3 96px,#00e5aa 104px,#00d583 112px,#00c828 120px,#00c828 128px)"></i>
<i style="background:linear-gradient(90deg,#19f2ff 0px,#19f2ff 8px,#36e1ff 16px,#40dbff 24px,#40dbff 32px,#40dbff 40px,#40dbff 48px,#40dbff 56px,#40dbff 64px,#36e1ff 72px,#19f2ff 80px,#00fefc 88px,#00f8e8 96px,#00eab7 104px,#00d583 112px,#00c828 120px,#00c828 128px)"></i>
<i style="background:linear-gradient(90deg,#19f2ff 0px,#19f2ff 8px,#36e1ff 16px,#36e1ff 24px,#36e1ff 32px,#36e1ff 40px,#36e1ff 48px,#36e1ff 56px,#36e1ff 64px,#19f2ff 72px,#19f2ff 80px,#00fefc 88px,#00f1d3 96px,#00eab7 104px,#00d583 112px,#00c828 120px,#00c828 128px)"></i>
<i style="background:linear-gradient(90deg,#00fefc 0px,#00fefc 8px,#19f2ff 16px,#19f2ff 24px,#19f2ff 32px,#00fefc 40px,#00fefc 48px,#00fefc 56px,#00fefc 64px,#00fefc 72px,#00f8e8 80px,#00f8e8 88px,#00edc5 96px,#00e5aa 104px,#00d583 112px,#00c828 120px,#00c828 128px)"></i>
<i style="background:linear-gradient(90deg,#00fefc 0px,#00fefc 8px,#00fefc 16px,#00fefc 24px,#00fefc 32px,#00f8e8 40px,#00f1d3 48px,#00f1d3 56px,#00f1d3 64px,#00edc5 72px,#00edc5 80px,#00edc5 88px,#00eab7 96px,#00e5aa 104px,#00d583 112px,#00c828 120px,#00c828 128px)"></i>
<i style="background:linear-gradient(90deg,#00f8e8 0px,#00f8e8 8px,#00fefc 16px,#00f8e8 24px,#00f1d3 32px,#00edc5 40px,#00eab7 48px,#00e5aa 56px,#00e5aa 64px,#00e5aa 72px,#00e5aa 80px,#00e5aa 88px,#00e5aa 96px,#00de9d 104px,#00d276 112px,#00c828 120px,#00c828 128px)"></i>
<i style="background:linear-gradient(90deg,#00f8e8 0px,#00f8e8 8px,#00f8e8 16px,#00f1d3 24px,#00eab7 32px,#00de9d 40px,#00d890 48px,#00d890 56px,#00d583 64px,#00d583 72px,#00d583 80px,#00d583 88px,#00d890 96px,#00d890 104px,#00d276 112px,#00c828 120px,#00c828 128px)"></i>
<i style="background:linear-gradient(90deg,#00f1d3 0px,#00f1d3 8px,#00f1d3 16px,#00edc5 24px,#00e5aa 32px,#00d583 40px,#00cf65 48px,#00cd4f 56px,#00cd4f 64px,#00ca3b 72px,#00ca3b 80px,#00cd4f 88px,#00d276 96px,#00d276 104px,#00cf65 112px,#00c828 120px,#00c828 128px)"></i>
<i style="background:linear-gradient(90deg,#00edc5 0px,#00edc5 8px,#00edc5 16px,#00eab7 24px,#00d890 32px,#00cf65 40px,#00ca3b 48px,#00c214 56px,#00bc00 64px,#00bc00 72px,#00bc00 80px,#00c214 88px,#00ca3b 96px,#00cf65 104px,#00cf65 112px,#00c828 120px,#00c828 128px)"></i>
<i style="background:linear-gradient(90deg,#00edc5 0px,#00edc5 8px,#00eab7 16px,#00de9d 24px,#00d276 32px,#00c828 40px,#00bc00 48px,#33c900 56px,#44cd00 64px,#56d200 72px,#56d200 80px,#33c900 88px,#00c214 96px,#00ca3b 104px,#00cd4f 112px,#00c828 120px,#00c828 128px)"></i>
<i style="background:linear-gradient(90deg,#00eab7 0px,#00eab7 8px,#00e5aa 16px,#00d890 24px,#00cd4f 32px,#00bc00 40px,#33c900 48px,#56d200 56px,#7ada00 64px,#8ade00 72px,#8ade00 80px,#68d600 88px,#33c900 96px,#00c828 104px,#00ca3b 112px,#00c828 120px,#00c828 128px)"></i>
<i style="background:linear-gradient(90deg,#00e5aa 0px,#00e5aa 8px,#00de9d 16px,#00d583 24px,#00ca3b 32px,#1ac300 40px,#56d200 48px,#7ada00 56px,#99e200 64px,#b8ea00 72px,#b8ea00 80px,#99e200 88px,#56d200 96px,#00bc00 104px,#00c828 112px,#00c828 120px,#00c828 128px)"></i>
<i style="background:linear-gradient(90deg,#00e5aa 0px,#00e5aa 8px,#00de9d 16px,#00d276 24px,#00c828 32px,#44cd00 40px,#7ada00 48px,#99e200 56px,#c7ef00 64px,#d5f400 72px,#d5f400 80px,#c7ef00 88px,#7ada00 96px,#1ac300 104px,#00c214 112px,#00c828 120px,#00c828 128px)"></i>
<i style="background:linear-gradient(90deg,#00de9d 0px,#00de9d 8px,#00d890 16px,#00cf65 24px,#00bc00 32px,#56d200 40px,#8ade00 48px,#b8ea00 56px,#d5f400 64px,#eefb00 72px,#fbfe00 80px,#e2f800 88px,#99e200 96px,#44cd00 104px,#00c214 112px,#00c828 120px,#00c828 128px)"></i>
<i style="background:linear-gradient(90deg,#00d890 0px,#00d890 8px,#00d583 16px,#00cd4f 24px,#1ac300 32px,#68d600 40px,#99e200 48px,#c7ef00 56px,#eefb00 64px,#fff900 72px,#fff000 80px,#fff900 88px,#b8ea00 96px,#56d200 104px,#00bc00 112px,#00c214 120px,#00c214 128px)"></i>
<i style="background:linear-gradient(90deg,#00d583 0px,#00d583 8px,#00d276 16px,#00ca3b 24px,#1ac300 32px,#7ada00 40px,#a8e600 48px,#d5f400 56px,#fbfe00 64px,#ffe600 72px,#ffdc00 80px,#ffe600 88px,#d5f400 96px,#7ada00 104px,#1ac300 112px,#00c214 120px,#00c214 128px)"></i>
<i style="background:linear-gradient(90deg,#00d276 0px,#00d276 8px,#00cf65 16px,#00c828 24px,#33c900 32px,#7ada00 40px,#b8ea00 48px,#e2f800 56px,#fff900 64px,#ffdc00 72px,#ffc900 80px,#ffd200 88px,#eefb00 96px,#8ade00 104px,#33c900 112px,#00bc00 120px,#00bc00 128px)"></i>
<i style="background:linear-gradient(90deg,#00d276 0px,#00d276 8px,#00cd4f 16px,#00c214 24px,#44cd00 32px,#8ade00 40px,#b8ea00 48px,#eefb00 56px,#fff000 64px,#ffd200 72px,#ffc000 80px,#ffc000 88px,#fff900 96px,#a8e600 104px,#44cd00 112px,#00bc00 120px,#00bc00 128px)"></i>
<i style="background:linear-gradient(90deg,#00cf65 0px,#00cf65 8px,#00ca3b 16px,#00bc00 24px,#56d200 32px,#8ade00 40px,#c7ef00 48px,#eefb00 56px,#fff000 64px,#ffd200 72px,#ffb800 80px,#ffb800 88px,#fff000 96px,#b8ea00 104px,#56d200 112px,#00bc00 120px,#00bc00 128px)"></i>
<i style="background:linear-gradient(90deg,#00cd4f 0px,#00cd4f 8px,#00c828 16px,#1ac300 24px,#56d200 32px,#99e200 40px,#c7ef00 48px,#eefb00 56px,#ffe600 64px,#ffc900 72px,#ffae00 80px,#ffae00 88px,#ffdc00 96px,#c7ef00 104px,#68d600 112px,#1ac300 120px,#1ac300 128px)"></i>
<i style="background:linear-gradient(90deg,#00cd4f 0px,#00cd4f 8px,#00c214 16px,#33c900 24px,#68d600 32px,#99e200 40px,#c7ef00 48px,#fbfe00 56px,#ffe600 64px,#ffc900 72px,#ffa500 80px,#ffa500 88px,#ffd200 96px,#d5f400 104px,#7ada00 112px,#1ac300 120px,#1ac300 128px)"></i>
<i style="background:linear-gradient(90deg,#00ca3b 0px,#00ca3b 8px,#00bc00 16px,#44cd00 24px,#7ada00 32px,#a8e600 40px,#d5f400 48px,#fbfe00 56px,#ffe600 64px,#ffc900 72px,#ffa500 80px,#fd9b00 88px,#ffc900 96px,#e2f800 104px,#8ade00 112px,#1ac300 120px,#1ac300 128px)"></i>
<i style="background:linear-gradient(90deg,#00ca3b 0px,#00ca3b 8px,#00bc00 16px,#44cd00 24px,#8ade00 32px,#b8ea00 40px,#d5f400 48px,#fbfe00 56px,#ffe600 64px,#ffc900 72px,#ffa500 80px,#fd9b00 88px,#ffc900 96px,#eefb00 104px,#8ade00 112px,#33c900 120px,#33c900 128px)"></i>
<i style="background:linear-gradient(90deg,#00ca3b 0px,#00ca3b 8px,#1ac300 16px,#56d200 24px,#8ade00 32px,#b8ea00 40px,#e2f800 48px,#fbfe00 56px,#ffe600 64px,#ffc900 72px,#ffa500 80px,#fd9b00 88px,#ffc000 96px,#eefb00 104px,#99e200 112px,#33c900 120px,#33c900 128px)"></i>
<i style="background:linear-gradient(90deg,#00ca3b 0px,#00ca3b 8px,#1ac300 16px,#68d600 24px,#99e200 32px,#c7ef00 40px,#e2f800 48px,#fbfe00 56px,#fff000 64px,#ffd200 72px,#ffae00 80px,#fd9b00 88px,#ffc000 96px,#fbfe00 104px,#99e200 112px,#33c900 120px,#33c900 128px)"></i>
<i style="background:linear-gradient(90deg,#00ca3b 0px,#00ca3b 8px,#1ac300 16px,#68d600 24px,#a8e600 32px,#d5f400 40px,#eefb00 48px,#fbfe00 56px,#fff000 64px,#ffdc00 72px,#ffae00 80px,#fd9b00 88px,#ffc000 96px,#fbfe00 104px,#99e200 112px,#33c900 120px,#33c900 128px)"></i>
<i style="background:linear-gradient(90deg,#00ca3b 0px,#00ca3b 8px,#33c900 16px,#7ada00 24px,#b8ea00 32px,#e2f800 40px,#eefb00 48px,#fbfe00 56px,#fff900 64px,#ffe600 72px,#ffb800 80px,#ffa500 88px,#ffc000 96px,#fbfe00 104px,#a8e600 112px,#33c900 120px,#33c900 128px)"></i>
<i style="background:linear-gradient(90deg,#00ca3b 0px,#00ca3b 8px,#33c900 16px,#8ade00 24px,#c7ef00 32px,#eefb00 40px,#fbfe00 48px,#fbfe00 56px,#fff900 64px,#fff000 72px,#ffc900 80px,#ffae00 88px,#ffc900 96px,#fbfe00 104px,#a8e600 112px,#33c900 120px,#33c900 128px)"></i>
<i style="background:linear-gradient(90deg,#00ca3b 0px,#00ca3b 8px,#33c900 16px,#8ade00 24px,#d5f400 32px,#fbfe00 40px,#fbfe00 48px,#fbfe00 56px,#fbfe00 64px,#fff900 72px,#ffd200 80px,#ffb800 88px,#ffc900 96px,#fbfe00 104px,#a8e600 112px,#33c900 120px,#33c900 128px)"></i>
<i style="background:linear-gradient(90deg,#00ca3b 0px,#00ca3b 8px,#33c900 16px,#8ade00 24px,#d5f400 32px,#fbfe00 40px,#fff900 48px,#fbfe00 56px,#eefb00 64px,#fbfe00 72px,#ffdc00 80px,#ffc000 88px,#ffd200 96px,#fbfe00 104px,#a8e600 112px,#33c900 120px,#33c900 128px)"></i>
<i style="background:linear-gradient(90deg,#00ca3b 0px,#00ca3b 8px,#33c900 16px,#99e200 24px,#e2f800 32px,#fff900 40px,#fff900 48px,#eefb00 56px,#e2f800 64px,#eefb00 72px,#fff000 80px,#ffc900 88px,#ffdc00 96px,#fbfe00 104px,#a8e600 112px,#1ac300 120px,#1ac300 128px)"></i>
<i style="background:linear-gradient(90deg,#00ca3b 0px,#00ca3b 8px,#44cd00 16px,#99e200 24px,#e2f800 32px,#fff900 40px,#fff900 48px,#eefb00 56px,#d5f400 64px,#d5f400 72px,#fff900 80px,#ffd200 88px,#ffdc00 96px,#fbfe00 104px,#a8e600 112px,#1ac300 120px,#1ac300 128px)"></i>
<i style="background:linear-gradient(90deg,#00c828 0px,#00c828 8px,#44cd00 16px,#99e200 24px,#e2f800 32px,#fff000 40px,#fff900 48px,#e2f800 56px,#c7ef00 64px,#c7ef00 72px,#fbfe00 80px,#ffdc00 88px,#ffe600 96px,#eefb00 104px,#a8e600 112px,#1ac300 120px,#1ac300 128px)"></i>
<i style="background:linear-gradient(90deg,#00c828 0px,#00c828 8px,#44cd00 16px,#99e200 24px,#eefb00 32px,#fff000 40px,#fff900 48px,#e2f800 56px,#b8ea00 64px,#a8e600 72px,#e2f800 80px,#fff000 88px,#fff000 96px,#eefb00 104px,#99e200 112px,#1ac300 120px,#1ac300 128px)"></i>
<i style="background:linear-gradient(90deg,#00c214 0px,#00c214 8px,#44cd00 16px,#99e200 24px,#eefb00 32px,#fff000 40px,#fff900 48px,#d5f400 56px,#a8e600 64px,#99e200 72px,#d5f400 80px,#fff900 88px,#fff900 96px,#e2f800 104px,#99e200 112px,#1ac300 120px,#1ac300 128px)"></i>
<i style="background:linear-gradient(90deg,#00c214 0px,#00c214 8px,#56d200 16px,#99e200 24px,#eefb00 32px,#fff000 40px,#fbfe00 48px,#c7ef00 56px,#99e200 64px,#7ada00 72px,#b8ea00 80px,#fbfe00 88px,#fbfe00 96px,#d5f400 104px,#99e200 112px,#1ac300 120px,#1ac300 128px)"></i>
<i style="background:linear-gradient(90deg,#00bc00 0px,#00bc00 8px,#56d200 16px,#99e200 24px,#e2f800 32px,#fff900 40px,#fbfe00 48px,#c7ef00 56px,#7ada00 64px,#68d600 72px,#a8e600 80px,#eefb00 88px,#eefb00 96px,#d5f400 104px,#8ade00 112px,#00bc00 120px,#00bc00 128px)"></i>
<i style="background:linear-gradient(90deg,#1ac300 0px,#1ac300 8px,#56d200 16px,#99e200 24px,#e2f800 32px,#fff900 40px,#eefb00 48px,#b8ea00 56px,#68d600 64px,#56d200 72px,#8ade00 80px,#d5f400 88px,#e2f800 96px,#c7ef00 104px,#7ada00 112px,#00bc00 120px,#00bc00 128px)"></i>
<i style="background:linear-gradient(90deg,#33c900 0px,#33c900 8px,#56d200 16px,#99e200 24px,#d5f400 32px,#fbfe00 40px,#e2f800 48px,#a8e600 56px,#56d200 64px,#33c900 72px,#7ada00 80px,#c7ef00 88px,#d5f400 96px,#b8ea00 104px,#7ada00 112px,#00c214 120px,#00c214 128px)"></i>
<i style="background:linear-gradient(90deg,#33c900 0px,#33c900 8px,#56d200 16px,#8ade00 24px,#d5f400 32px,#fbfe00 40px,#e2f800 48px,#99e200 56px,#44cd00 64px,#1ac300 72px,#68d600 80px,#b8ea00 88px,#c7ef00 96px,#a8e600 104px,#68d600 112px,#00c214 120px,#00c214 128px)"></i>
<i style="background:linear-gradient(90deg,#44cd00 0px,#44cd00 8px,#56d200 16px,#8ade00 24px,#c7ef00 32px,#eefb00 40px,#d5f400 48px,#8ade00 56px,#33c900 64px,#00bc00 72px,#56d200 80px,#99e200 88px,#a8e600 96px,#99e200 104px,#56d200 112px,#00c828 120px,#00c828 128px)"></i>
<i style="background:linear-gradient(90deg,#44cd00 0px,#44cd00 8px,#56d200 16px,#7ada00 24px,#b8ea00 32px,#e2f800 40px,#c7ef00 48px,#7ada00 56px,#33c900 64px,#00bc00 72px,#44cd00 80px,#8ade00 88px,#99e200 96px,#8ade00 104px,#44cd00 112px,#00ca3b 120px,#00ca3b 128px)"></i>
<i style="background:linear-gradient(90deg,#56d200 0px,#56d200 8px,#44cd00 16px,#68d600 24px,#a8e600 32px,#d5f400 40px,#a8e600 48px,#68d600 56px,#1ac300 64px,#00c214 72px,#33c900 80px,#7ada00 88px,#8ade00 96px,#68d600 104px,#33c900 112px,#00cd4f 120px,#00cd4f 128px)"></i>
<i style="background:linear-gradient(90deg,#56d200 0px,#56d200 8px,#44cd00 16px,#56d200 24px,#99e200 32px,#c7ef00 40px,#99e200 48px,#56d200 56px,#00bc00 64px,#00c214 72px,#1ac300 80px,#68d600 88px,#7ada00 96px,#56d200 104px,#1ac300 112px,#00cf65 120px,#00cf65 128px)"></i>
<i style="background:linear-gradient(90deg,#68d600 0px,#68d600 8px,#33c900 16px,#44cd00 24px,#8ade00 32px,#a8e600 40px,#8ade00 48px,#44cd00 56px,#00c214 64px,#00c828 72px,#1ac300 80px,#44cd00 88px,#56d200 96px,#44cd00 104px,#00bc00 112px,#00d276 120px,#00d276 128px)"></i>
<i style="background:linear-gradient(90deg,#68d600 0px,#68d600 8px,#33c900 16px,#33c900 24px,#68d600 32px,#99e200 40px,#7ada00 48px,#33c900 56px,#00c214 64px,#00c828 72px,#00bc00 80px,#33c900 88px,#44cd00 96px,#33c900 104px,#00c828 112px,#00d583 120px,#00d583 128px)"></i>
<i style="background:linear-gradient(90deg,#7ada00 0px,#7ada00 8px,#33c900 16px,#1ac300 24px,#56d200 32px,#8ade00 40px,#56d200 48px,#1ac300 56px,#00c828 64px,#00c828 72px,#00c214 80px,#1ac300 88px,#1ac300 96px,#00bc00 104px,#00ca3b 112px,#00d890 120px,#00d890 128px)"></i>
<i style="background:linear-gradient(90deg,#7ada00 0px,#7ada00 8px,#33c900 16px,#1ac300 24px,#44cd00 32px,#7ada00 40px,#44cd00 48px,#00bc00 56px,#00c828 64px,#00ca3b 72px,#00c828 80px,#00bc00 88px,#00bc00 96px,#00c214 104px,#00cd4f 112px,#00de9d 120px,#00de9d 128px)"></i>
<i style="background:linear-gradient(90deg,#8ade00 0px,#8ade00 8px,#1ac300 16px,#00bc00 24px,#33c900 32px,#56d200 40px,#33c900 48px,#00c214 56px,#00ca3b 64px,#00ca3b 72px,#00ca3b 80px,#00c828 88px,#00c214 96px,#00ca3b 104px,#00cf65 112px,#00e5aa 120px,#00e5aa 128px)"></i>
<i style="background:linear-gradient(90deg,#8ade00 0px,#8ade00 8px,#33c900 16px,#00bc00 24px,#1ac300 32px,#44cd00 40px,#1ac300 48px,#00c828 56px,#00cd4f 64px,#00cd4f 72px,#00ca3b 80px,#00ca3b 88px,#00ca3b 96px,#00cd4f 104px,#00d583 112px,#00e5aa 120px,#00e5aa 128px)"></i>
<i style="background:linear-gradient(90deg,#99e200 0px,#99e200 8px,#33c900 16px,#00c214 24px,#00bc00 32px,#33c900 40px,#00bc00 48px,#00ca3b 56px,#00cd4f 64px,#00cf65 72px,#00cd4f 80px,#00cd4f 88px,#00cd4f 96px,#00d276 104px,#00d890 112px,#00eab7 120px,#00eab7 128px)"></i>
<i style="background:linear-gradient(90deg,#99e200 0px,#99e200 8px,#33c900 16px,#00c214 24px,#00bc00 32px,#1ac300 40px,#00c214 48px,#00ca3b 56px,#00cf65 64px,#00cf65 72px,#00cf65 80px,#00cf65 88px,#00d276 96px,#00d583 104px,#00de9d 112px,#00edc5 120px,#00edc5 128px)"></i>
<i style="background:linear-gradient(90deg,#a8e600 0px,#a8e600 8px,#33c900 16px,#00c214 24px,#00c214 32px,#00bc00 40px,#00c828 48px,#00cd4f 56px,#00cf65 64px,#00d276 72px,#00d276 80px,#00d276 88px,#00d583 96px,#00d890 104px,#00e5aa 112px,#00edc5 120px,#00edc5 128px)"></i>
<i style="background:linear-gradient(90deg,#a8e600 0px,#a8e600 8px,#33c900 16px,#00c214 24px,#00c828 32px,#00c828 40px,#00ca3b 48px,#00cf65 56px,#00d276 64px,#00d583 72px,#00d583 80px,#00d890 88px,#00d890 96px,#00de9d 104px,#00eab7 112px,#00edc5 120px,#00edc5 128px)"></i>
<i style="background:linear-gradient(90deg,#a8e600 0px,#a8e600 8px,#44cd00 16px,#00c214 24px,#00c828 32px,#00ca3b 40px,#00cd4f 48px,#00cf65 56px,#00d583 64px,#00d890 72px,#00d890 80px,#00de9d 88px,#00de9d 96px,#00e5aa 104px,#00eab7 112px,#00edc5 120px,#00edc5 128px)"></i>
<i style="background:linear-gradient(90deg,#b8ea00 0px,#b8ea00 8px,#44cd00 16px,#00c214 24px,#00ca3b 32px,#00cd4f 40px,#00cf65 48px,#00d276 56px,#00d890 64px,#00de9d 72px,#00de9d 80px,#00e5aa 88px,#00e5aa 96px,#00e5aa 104px,#00eab7 112px,#00edc5 120px,#00edc5 128px)"></i>
<i style="background:linear-gradient(90deg,#b8ea00 0px,#b8ea00 8px,#44cd00 16px,#00c214 24px,#00ca3b 32px,#00cf65 40px,#00d276 48px,#00d583 56px,#00de9d 64px,#00e5aa 72px,#00e5aa 80px,#00e5aa 88px,#00e5aa 96px,#00e5aa 104px,#00eab7 112px,#00eab7 120px,#00eab7 128px)"></i>
<i style="background:linear-gradient(90deg,#b8ea00 0px,#b8ea00 8px,#56d200 16px,#00c214 24px,#00cd4f 32px,#00d276 40px,#00d583 48px,#00d890 56px,#00e5aa 64px,#00eab7 72px,#00eab7 80px,#00eab7 88px,#00e5aa 96px,#00e5aa 104px,#00e5aa 112px,#00e5aa 120px,#00e5aa 128px)"></i>
<i style="background:linear-gradient(90deg,#b8ea00 0px,#b8ea00 8px,#56d200 16px,#00c214 24px,#00cd4f 32px,#00d276 40px,#00d890 48px,#00de9d 56px,#00eab7 64px,#00edc5 72px,#00edc5 80px,#00edc5 88px,#00e5aa 96px,#00de9d 104px,#00de9d 112px,#00de9d 120px,#00de9d 128px)"></i>
<i style="background:linear-gradient(90deg,#c7ef00 0px,#c7ef00 8px,#56d200 16px,#00c214 24px,#00cf65 32px,#00d583 40px,#00de9d 48px,#00eab7 56px,#00edc5 64px,#00f8e8 72px,#00f8e8 80px,#00edc5 88px,#00e5aa 96px,#00d890 104px,#00d583 112px,#00d890 120px,#00d890 128px)"></i>
<i style="background:linear-gradient(90deg,#c7ef00 0px,#c7ef00 8px,#56d200 16px,#00c214 24px,#00cf65 32px,#00d890 40px,#00e5aa 48px,#00edc5 56px,#00f8e8 64px,#00fefc 72px,#00fefc 80px,#00f1d3 88px,#00de9d 96px,#00d583 104px,#00cf65 112px,#00d276 120px,#00d276 128px)"></i>
<i style="background:linear-gradient(90deg,#c7ef00 0px,#c7ef00 8px,#68d600 16px,#00c214 24px,#00cf65 32px,#00de9d 40px,#00eab7 48px,#00f1d3 56px,#00fefc 64px,#19f2ff 72px,#19f2ff 80px,#00f1d3 88px,#00de9d 96px,#00cf65 104px,#00cd4f 112px,#00cf65 120px,#00cf65 128px)"></i>
<i style="background:linear-gradient(90deg,#c7ef00 0px,#c7ef00 8px,#68d600 16px,#00c214 24px,#00cf65 32px,#00de9d 40px,#00edc5 48px,#00f8e8 56px,#19f2ff 64px,#40dbff 72px,#36e1ff 80px,#00f1d3 88px,#00de9d 96px,#00cd4f 104px,#00ca3b 112px,#00ca3b 120px,#00ca3b 128px)"></i>
<i style="background:linear-gradient(90deg,#c7ef00 0px,#c7ef00 8px,#68d600 16px,#00bc00 24px,#00cf65 32px,#00e5aa 40px,#00edc5 48px,#00fefc 56px,#36e1ff 64px,#40d9ff 72px,#36e1ff 80px,#00f8e8 88px,#00d890 96px,#00cd4f 104px,#00c828 112px,#00c828 120px,#00c828 128px)"></i>
<i style="background:linear-gradient(90deg,#d5f400 0px,#d5f400 8px,#7ada00 16px,#00bc00 24px,#00cf65 32px,#00e5aa 40px,#00f1d3 48px,#00fefc 56px,#40dbff 64px,#40ccff 72px,#40dbff 80px,#00f8e8 88px,#00d890 96px,#00ca3b 104px,#00c214 112px,#00c214 120px,#00c214 128px)"></i>
<i style="background:linear-gradient(90deg,#d5f400 0px,#d5f400 8px,#7ada00 16px,#00bc00 24px,#00cf65 32px,#00e5aa 40px,#00f1d3 48px,#19f2ff 56px,#40d9ff 64px,#40ccff 72px,#40dbff 80px,#00f8e8 88px,#00d890 96px,#00c828 104px,#00bc00 112px,#00bc00 120px,#00bc00 128px)"></i>
<i style="background:linear-gradient(90deg,#d5f400 0px,#d5f400 8px,#7ada00 16px,#00bc00 24px,#00cf65 32px,#00e5aa 40px,#00f1d3 48px,#19f2ff 56px,#40d9ff 64px,#40b4ff 72px,#40d9ff 80px,#00f8e8 88px,#00d890 96px,#00c828 104px,#1ac300 112px,#1ac300 120px,#1ac300 128px)"></i>
<i style="background:linear-gradient(90deg,#e2f800 0px,#e2f800 8px,#7ada00 16px,#00bc00 24px,#00cf65 32px,#00e5aa 40px,#00f1d3 48px,#19f2ff 56px,#40ccff 64px,#40a7ff 72px,#40d9ff 80px,#00f8e8 88px,#00d890 96px,#00c828 104px,#1ac300 112px,#33c900 120px,#33c900 128px)"></i>
<i style="background:linear-gradient(90deg,#e2f800 0px,#e2f800 8px,#8ade00 16px,#1ac300 24px,#00cf65 32px,#00de9d 40px,#00f1d3 48px,#19f2ff 56px,#40ccff 64px,#40a7ff 72px,#40d9ff 80px,#00f8e8 88px,#00d890 96px,#00c828 104px,#33c900 112px,#44cd00 120px,#44cd00 128px)"></i>
<i style="background:linear-gradient(90deg,#e2f800 0px,#e2f800 8px,#8ade00 16px,#1ac300 24px,#00cd4f 32px,#00de9d 40px,#00f1d3 48px,#19f2ff 56px,#40ccff 64px,#40a7ff 72px,#40ccff 80px,#00f8e8 88px,#00d890 96px,#00c828 104px,#33c900 112px,#44cd00 120px,#44cd00 128px)"></i>
<i style="background:linear-gradient(90deg,#eefb00 0px,#eefb00 8px,#8ade00 16px,#1ac300 24px,#00cd4f 32px,#00de9d 40px,#00f1d3 48px,#19f2ff 56px,#40ccff 64px,#409cff 72px,#40ccff 80px,#00f8e8 88px,#00d890 96px,#00c828 104px,#33c900 112px,#56d200 120px,#56d200 128px)"></i>
<i style="background:linear-gradient(90deg,#eefb00 0px,#eefb00 8px,#8ade00 16px,#1ac300 24px,#00cd4f 32px,#00de9d 40px,#00edc5 48px,#19f2ff 56px,#40b4ff 64px,#409cff 72px,#40ccff 80px,#00fefc 88px,#00d890 96px,#00c828 104px,#33c900 112px,#68d600 120px,#68d600 128px)"></i>
<i style="background:linear-gradient(90deg,#eefb00 0px,#eefb00 8px,#8ade00 16px,#33c900 24px,#00cd4f 32px,#00d890 40px,#00edc5 48px,#19f2ff 56px,#40b4ff 64px,#409cff 72px,#40ccff 80px,#00fefc 88px,#00d890 96px,#00c828 104px,#33c900 112px,#68d600 120px,#68d600 128px)"></i>
<i style="background:linear-gradient(90deg,#eefb00 0px,#eefb00 8px,#99e200 16px,#33c900 24px,#00cd4f 32px,#00d890 40px,#00edc5 48px,#19f2ff 56px,#40b4ff 64px,#409cff 72px,#40ccff 80px,#00fefc 88px,#00de9d 96px,#00ca3b 104px,#33c900 112px,#7ada00 120px,#7ada00 128px)"></i>
<i style="background:linear-gradient(90deg,#eefb00 0px,#eefb00 8px,#99e200 16px,#33c900 24px,#00ca3b 32px,#00d890 40px,#00edc5 48px,#19f2ff 56px,#40ccff 64px,#409cff 72px,#40b4ff 80px,#19f2ff 88px,#00de9d 96px,#00ca3b 104px,#33c900 112px,#7ada00 120px,#7ada00 128px)"></i>
<i style="background:linear-gradient(90deg,#eefb00 0px,#eefb00 8px,#99e200 16px,#33c900 24px,#00ca3b 32px,#00d890 40px,#00edc5 48px,#19f2ff 56px,#40ccff 64px,#40a7ff 72px,#40b4ff 80px,#19f2ff 88px,#00e5aa 96px,#00cd4f 104px,#33c900 112px,#7ada00 120px,#7ada00 128px)"></i>
<i style="background:linear-gradient(90deg,#fbfe00 0px,#fbfe00 8px,#99e200 16px,#33c900 24px,#00ca3b 32px,#00d890 40px,#00edc5 48px,#19f2ff 56px,#40ccff 64px,#40a7ff 72px,#40b4ff 80px,#36e1ff 88px,#00eab7 96px,#00cd4f 104px,#33c900 112px,#8ade00 120px,#8ade00 128px)"></i>
<i style="background:linear-gradient(90deg,#fbfe00 0px,#fbfe00 8px,#99e200 16px,#44cd00 24px,#00ca3b 32px,#00d890 40px,#00edc5 48px,#19f2ff 56px,#40ccff 64px,#40a7ff 72px,#40b4ff 80px,#36e1ff 88px,#00eab7 96px,#00cf65 104px,#33c900 112px,#8ade00 120px,#8ade00 128px)"></i>
<i style="background:linear-gradient(90deg,#fbfe00 0px,#fbfe00 8px,#99e200 16px,#44cd00 24px,#00ca3b 32px,#00d583 40px,#00edc5 48px,#19f2ff 56px,#40d9ff 64px,#40b4ff 72px,#40b4ff 80px,#36e1ff 88px,#00edc5 96px,#00cf65 104px,#1ac300 112px,#99e200 120px,#99e200 128px)"></i>
<i style="background:linear-gradient(90deg,#fbfe00 0px,#fbfe00 8px,#a8e600 16px,#44cd00 24px,#00c828 32px,#00d583 40px,#00eab7 48px,#00fefc 56px,#40d9ff 64px,#40b4ff 72px,#40b4ff 80px,#40dbff 88px,#00edc5 96px,#00cf65 104px,#1ac300 112px,#99e200 120px,#99e200 128px)"></i>
<i style="background:linear-gradient(90deg,#fbfe00 0px,#fbfe00 8px,#a8e600 16px,#44cd00 24px,#00c828 32px,#00d583 40px,#00eab7 48px,#00fefc 56px,#40d9ff 64px,#40b4ff 72px,#40b4ff 80px,#40dbff 88px,#00f1d3 96px,#00d276 104px,#1ac300 112px,#99e200 120px,#99e200 128px)"></i>
<i style="background:linear-gradient(90deg,#fbfe00 0px,#fbfe00 8px,#a8e600 16px,#56d200 24px,#00c214 32px,#00d276 40px,#00eab7 48px,#00fefc 56px,#40dbff 64px,#40b4ff 72px,#40b4ff 80px,#40dbff 88px,#00f1d3 96px,#00d276 104px,#1ac300 112px,#a8e600 120px,#a8e600 128px)"></i>
<i style="background:linear-gradient(90deg,#fbfe00 0px,#fbfe00 8px,#a8e600 16px,#56d200 24px,#00c214 32px,#00d276 40px,#00e5aa 48px,#00f8e8 56px,#40dbff 64px,#40ccff 72px,#40b4ff 80px,#40dbff 88px,#00f1d3 96px,#00d276 104px,#1ac300 112px,#a8e600 120px,#a8e600 128px)"></i>
<i style="background:linear-gradient(90deg,#eefb00 0px,#eefb00 8px,#a8e600 16px,#56d200 24px,#00c214 32px,#00cf65 40px,#00e5aa 48px,#00f8e8 56px,#40dbff 64px,#40ccff 72px,#40b4ff 80px,#40d9ff 88px,#00f1d3 96px,#00d276 104px,#1ac300 112px,#b8ea00 120px,#b8ea00 128px)"></i>
<i style="background:linear-gradient(90deg,#eefb00 0px,#eefb00 8px,#a8e600 16px,#56d200 24px,#00bc00 32px,#00cf65 40px,#00de9d 48px,#00f8e8 56px,#36e1ff 64px,#40ccff 72px,#40ccff 80px,#40d9ff 88px,#00f8e8 96px,#00d276 104px,#33c900 112px,#b8ea00 120px,#b8ea00 128px)"></i>
<i style="background:linear-gradient(90deg,#eefb00 0px,#eefb00 8px,#a8e600 16px,#68d600 24px,#00bc00 32px,#00cf65 40px,#00de9d 48px,#00f1d3 56px,#36e1ff 64px,#40d9ff 72px,#40ccff 80px,#40d9ff 88px,#00f8e8 96px,#00d276 104px,#33c900 112px,#c7ef00 120px,#c7ef00 128px)"></i>
<i style="background:linear-gradient(90deg,#eefb00 0px,#eefb00 8px,#a8e600 16px,#68d600 24px,#00bc00 32px,#00cd4f 40px,#00de9d 48px,#00f1d3 56px,#36e1ff 64px,#40d9ff 72px,#40ccff 80px,#40d9ff 88px,#00f8e8 96px,#00d276 104px,#33c900 112px,#c7ef00 120px,#c7ef00 128px)"></i>
<i style="background:linear-gradient(90deg,#eefb00 0px,#eefb00 8px,#a8e600 16px,#68d600 24px,#00bc00 32px,#00cd4f 40px,#00de9d 48px,#00f1d3 56px,#36e1ff 64px,#40d9ff 72px,#40ccff 80px,#40d9ff 88px,#00f8e8 96px,#00d276 104px,#33c900 112px,#d5f400 120px,#d5f400 128px)"></i>
<i style="background:linear-gradient(90deg,#eefb00 0px,#eefb00 8px,#a8e600 16px,#68d600 24px,#00bc00 32px,#00cd4f 40px,#00de9d 48px,#00f1d3 56px,#19f2ff 64px,#40d9ff 72px,#40ccff 80px,#40d9ff 88px,#00f1d3 96px,#00d276 104px,#44cd00 112px,#d5f400 120px,#d5f400 128px)"></i>
<i style="background:linear-gradient(90deg,#e2f800 0px,#e2f800 8px,#a8e600 16px,#56d200 24px,#00bc00 32px,#00cd4f 40px,#00de9d 48px,#00f1d3 56px,#19f2ff 64px,#40d9ff 72px,#40ccff 80px,#40d9ff 88px,#00f1d3 96px,#00d276 104px,#44cd00 112px,#d5f400 120px,#d5f400 128px)"></i>
<i style="background:linear-gradient(90deg,#e2f800 0px,#e2f800 8px,#99e200 16px,#56d200 24px,#00bc00 32px,#00cd4f 40px,#00de9d 48px,#00f1d3 56px,#19f2ff 64px,#40d9ff 72px,#40ccff 80px,#40d9ff 88px,#00f1d3 96px,#00cf65 104px,#44cd00 112px,#e2f800 120px,#e2f800 128px)"></i>
<i style="background:linear-gradient(90deg,#e2f800 0px,#e2f800 8px,#99e200 16px,#44cd00 24px,#00c214 32px,#00cf65 40px,#00de9d 48px,#00f1d3 56px,#36e1ff 64px,#40d9ff 72px,#40ccff 80px,#40d9ff 88px,#00f1d3 96px,#00cf65 104px,#56d200 112px,#e2f800 120px,#e2f800 128px)"></i>
<i style="background:linear-gradient(90deg,#e2f800 0px,#e2f800 8px,#8ade00 16px,#44cd00 24px,#00c214 32px,#00cf65 40px,#00de9d 48px,#00f1d3 56px,#36e1ff 64px,#40d9ff 72px,#40ccff 80px,#40dbff 88px,#00f1d3 96px,#00cd4f 104px,#56d200 112px,#eefb00 120px,#eefb00 128px)"></i>
<i style="background:linear-gradient(90deg,#d5f400 0px,#d5f400 8px,#8ade00 16px,#33c900 24px,#00c828 32px,#00cf65 40px,#00de9d 48px,#00f1d3 56px,#36e1ff 64px,#40d9ff 72px,#40ccff 80px,#40d9ff 88px,#00edc5 96px,#00cd4f 104px,#68d600 112px,#eefb00 120px,#eefb00 128px)"></i>
<i style="background:linear-gradient(90deg,#d5f400 0px,#d5f400 8px,#7ada00 16px,#33c900 24px,#00c828 32px,#00d276 40px,#00e5aa 48px,#00f8e8 56px,#36e1ff 64px,#40d9ff 72px,#40ccff 80px,#40d9ff 88px,#00edc5 96px,#00cd4f 104px,#68d600 112px,#eefb00 120px,#eefb00 128px)"></i>
<i style="background:linear-gradient(90deg,#c7ef00 0px,#c7ef00 8px,#7ada00 16px,#1ac300 24px,#00ca3b 32px,#00d276 40px,#00e5aa 48px,#00f8e8 56px,#36e1ff 64px,#40ccff 72px,#40b4ff 80px,#40d9ff 88px,#00edc5 96px,#00cd4f 104px,#68d600 112px,#fbfe00 120px,#fbfe00 128px)"></i>
<i style="background:linear-gradient(90deg,#c7ef00 0px,#c7ef00 8px,#68d600 16px,#1ac300 24px,#00ca3b 32px,#00d583 40px,#00e5aa 48px,#00f8e8 56px,#36e1ff 64px,#40ccff 72px,#40b4ff 80px,#40d9ff 88px,#00edc5 96px,#00cd4f 104px,#7ada00 112px,#fbfe00 120px,#fbfe00 128px)"></i>
<i style="background:linear-gradient(90deg,#b8ea00 0px,#b8ea00 8px,#68d600 16px,#00bc00 24px,#00ca3b 32px,#00d583 40px,#00e5aa 48px,#00f8e8 56px,#36e1ff 64px,#40ccff 72px,#40b4ff 80px,#40d9ff 88px,#00f1d3 96px,#00cd4f 104px,#7ada00 112px,#fbfe00 120px,#fbfe00 128px)"></i>
<i style="background:linear-gradient(90deg,#a8e600 0px,#a8e600 8px,#56d200 16px,#00bc00 24px,#00cd4f 32px,#00d583 40px,#00eab7 48px,#00f8e8 56px,#36e1ff 64px,#40ccff 72px,#40b4ff 80px,#40d9ff 88px,#00f1d3 96px,#00cd4f 104px,#7ada00 112px,#fff900 120px,#fff900 128px)"></i>
<i style="background:linear-gradient(90deg,#99e200 0px,#99e200 8px,#56d200 16px,#00bc00 24px,#00cd4f 32px,#00d583 40px,#00eab7 48px,#00f8e8 56px,#36e1ff 64px,#40ccff 72px,#40b4ff 80px,#40ccff 88px,#00f1d3 96px,#00cd4f 104px,#7ada00 112px,#fff900 120px,#fff900 128px)"></i>
<i style="background:linear-gradient(90deg,#8ade00 0px,#8ade00 8px,#44cd00 16px,#00c214 24px,#00cd4f 32px,#00d890 40px,#00eab7 48px,#00f8e8 56px,#36e1ff 64px,#40ccff 72px,#40b4ff 80px,#40ccff 88px,#00f1d3 96px,#00cd4f 104px,#7ada00 112px,#fff000 120px,#fff000 128px)"></i>
<i style="background:linear-gradient(90deg,#7ada00 0px,#7ada00 8px,#44cd00 16px,#00c214 24px,#00cf65 32px,#00d890 40px,#00eab7 48px,#00f8e8 56px,#36e1ff 64px,#40ccff 72px,#40a7ff 80px,#40ccff 88px,#00f8e8 96px,#00cd4f 104px,#7ada00 112px,#fff000 120px,#fff000 128px)"></i>
<i style="background:linear-gradient(90deg,#7ada00 0px,#7ada00 8px,#33c900 16px,#00c214 24px,#00cf65 32px,#00d890 40px,#00eab7 48px,#00f8e8 56px,#40dbff 64px,#40ccff 72px,#40a7ff 80px,#40ccff 88px,#00f8e8 96px,#00cd4f 104px,#7ada00 112px,#ffe600 120px,#ffe600 128px)"></i>
<i style="background:linear-gradient(90deg,#68d600 0px,#68d600 8px,#1ac300 16px,#00c828 24px,#00cf65 32px,#00de9d 40px,#00edc5 48px,#00f8e8 56px,#40dbff 64px,#40ccff 72px,#40a7ff 80px,#40ccff 88px,#00f8e8 96px,#00cf65 104px,#7ada00 112px,#ffe600 120px,#ffe600 128px)"></i>
<i style="background:linear-gradient(90deg,#56d200 0px,#56d200 8px,#1ac300 16px,#00ca3b 24px,#00d276 32px,#00de9d 40px,#00edc5 48px,#00fefc 56px,#40dbff 64px,#40ccff 72px,#40a7ff 80px,#40ccff 88px,#00f8e8 96px,#00cf65 104px,#7ada00 112px,#ffe600 120px,#ffe600 128px)"></i>
<i style="background:linear-gradient(90deg,#44cd00 0px,#44cd00 8px,#00bc00 16px,#00ca3b 24px,#00d276 32px,#00de9d 40px,#00edc5 48px,#00fefc 56px,#40dbff 64px,#40b4ff 72px,#40a7ff 80px,#40ccff 88px,#00f8e8 96px,#00cd4f 104px,#7ada00 112px,#ffdc00 120px,#ffdc00 128px)"></i>
<i style="background:linear-gradient(90deg,#33c900 0px,#33c900 8px,#00c214 16px,#00cd4f 24px,#00d583 32px,#00de9d 40px,#00edc5 48px,#00fefc 56px,#40dbff 64px,#40b4ff 72px,#40a7ff 80px,#40ccff 88px,#00f8e8 96px,#00cd4f 104px,#8ade00 112px,#ffdc00 120px,#ffdc00 128px)"></i>
<i style="background:linear-gradient(90deg,#1ac300 0px,#1ac300 8px,#00c828 16px,#00cf65 24px,#00d583 32px,#00e5aa 40px,#00edc5 48px,#00fefc 56px,#40dbff 64px,#40b4ff 72px,#40a7ff 80px,#40ccff 88px,#00f8e8 96px,#00cd4f 104px,#8ade00 112px,#ffdc00 120px,#ffdc00 128px)"></i>
<i style="background:linear-gradient(90deg,#00bc00 0px,#00bc00 8px,#00ca3b 16px,#00cf65 24px,#00d890 32px,#00e5aa 40px,#00f1d3 48px,#19f2ff 56px,#40d9ff 64px,#40b4ff 72px,#40a7ff 80px,#40ccff 88px,#00f1d3 96px,#00cd4f 104px,#8ade00 112px,#ffd200 120px,#ffd200 128px)"></i>
<i style="background:linear-gradient(90deg,#00bc00 0px,#00bc00 8px,#00cd4f 16px,#00d276 24px,#00d890 32px,#00eab7 40px,#00f1d3 48px,#19f2ff 56px,#40d9ff 64px,#40b4ff 72px,#40a7ff 80px,#40d9ff 88px,#00f1d3 96px,#00cd4f 104px,#8ade00 112px,#ffd200 120px,#ffd200 128px)"></i>
<i style="background:linear-gradient(90deg,#00c214 0px,#00c214 8px,#00cd4f 16px,#00d583 24px,#00de9d 32px,#00eab7 40px,#00f8e8 48px,#19f2ff 56px,#40d9ff 64px,#40b4ff 72px,#40b4ff 80px,#40d9ff 88px,#00f1d3 96px,#00cd4f 104px,#8ade00 112px,#ffd200 120px,#ffd200 128px)"></i>
<i style="background:linear-gradient(90deg,#00c828 0px,#00c828 8px,#00cf65 16px,#00d890 24px,#00e5aa 32px,#00edc5 40px,#00f8e8 48px,#19f2ff 56px,#40d9ff 64px,#40ccff 72px,#40b4ff 80px,#40d9ff 88px,#00f1d3 96px,#00cd4f 104px,#8ade00 112px,#ffc900 120px,#ffc900 128px)"></i>
<i style="background:linear-gradient(90deg,#00ca3b 0px,#00ca3b 8px,#00d276 16px,#00de9d 24px,#00eab7 32px,#00f1d3 40px,#00fefc 48px,#19f2ff 56px,#40dbff 64px,#40ccff 72px,#40ccff 80px,#40dbff 88px,#00edc5 96px,#00cd4f 104px,#8ade00 112px,#ffc900 120px,#ffc900 128px)"></i>
<i style="background:linear-gradient(90deg,#00ca3b 0px,#00ca3b 8px,#00d583 16px,#00de9d 24px,#00edc5 32px,#00f8e8 40px,#00fefc 48px,#19f2ff 56px,#40dbff 64px,#40d9ff 72px,#40ccff 80px,#40dbff 88px,#00edc5 96px,#00cd4f 104px,#8ade00 112px,#ffc900 120px,#ffc900 128px)"></i>
<i style="background:linear-gradient(90deg,#00cd4f 0px,#00cd4f 8px,#00d583 16px,#00e5aa 24px,#00f1d3 32px,#00fefc 40px,#19f2ff 48px,#19f2ff 56px,#36e1ff 64px,#40d9ff 72px,#40d9ff 80px,#36e1ff 88px,#00edc5 96px,#00cd4f 104px,#8ade00 112px,#ffc900 120px,#ffc900 128px)"></i>
<i style="background:linear-gradient(90deg,#00cf65 0px,#00cf65 8px,#00d890 16px,#00eab7 24px,#00fefc 32px,#36e1ff 40px,#36e1ff 48px,#19f2ff 56px,#36e1ff 64px,#40dbff 72px,#40dbff 80px,#19f2ff 88px,#00edc5 96px,#00cd4f 104px,#8ade00 112px,#ffc000 120px,#ffc000 128px)"></i>
<i style="background:linear-gradient(90deg,#00cf65 0px,#00cf65 8px,#00d890 16px,#00edc5 24px,#19f2ff 32px,#40dbff 40px,#40dbff 48px,#19f2ff 56px,#19f2ff 64px,#36e1ff 72px,#36e1ff 80px,#19f2ff 88px,#00eab7 96px,#00cd4f 104px,#8ade00 112px,#ffc000 120px,#ffc000 128px)"></i>
<i style="background:linear-gradient(90deg,#00d276 0px,#00d276 8px,#00de9d 16px,#00f1d3 24px,#36e1ff 32px,#40ccff 40px,#40dbff 48px,#19f2ff 56px,#19f2ff 64px,#19f2ff 72px,#19f2ff 80px,#00fefc 88px,#00eab7 96px,#00ca3b 104px,#99e200 112px,#ffc000 120px,#ffc000 128px)"></i>
<i style="background:linear-gradient(90deg,#00d276 0px,#00d276 8px,#00de9d 16px,#00f1d3 24px,#40dbff 32px,#40b4ff 40px,#40d9ff 48px,#19f2ff 56px,#00fefc 64px,#00fefc 72px,#00fefc 80px,#00f8e8 88px,#00e5aa 96px,#00ca3b 104px,#99e200 112px,#ffb800 120px,#ffb800 128px)"></i>
<i style="background:linear-gradient(90deg,#00d276 0px,#00d276 8px,#00de9d 16px,#00f8e8 24px,#40d9ff 32px,#40a7ff 40px,#40d9ff 48px,#00fefc 56px,#00f8e8 64px,#00fefc 72px,#00fefc 80px,#00f8e8 88px,#00e5aa 96px,#00ca3b 104px,#99e200 112px,#ffb800 120px,#ffb800 128px)"></i>
<i style="background:linear-gradient(90deg,#00d276 0px,#00d276 8px,#00e5aa 16px,#00f8e8 24px,#40ccff 32px,#409cff 40px,#40ccff 48px,#00fefc 56px,#00f8e8 64px,#00f8e8 72px,#00f8e8 80px,#00f1d3 88px,#00de9d 96px,#00c828 104px,#a8e600 112px,#ffb800 120px,#ffb800 128px)"></i>
<i style="background:linear-gradient(90deg,#00d276 0px,#00d276 8px,#00e5aa 16px,#00f8e8 24px,#40b4ff 32px,#4092ff 40px,#40ccff 48px,#00f8e8 56px,#00f1d3 64px,#00f1d3 72px,#00f1d3 80px,#00edc5 88px,#00de9d 96px,#00c828 104px,#a8e600 112px,#ffae00 120px,#ffae00 128px)"></i>
<i style="background:linear-gradient(90deg,#00d276 0px,#00d276 8px,#00e5aa 16px,#00fefc 24px,#40b4ff 32px,#4092ff 40px,#40ccff 48px,#00f8e8 56px,#00edc5 64px,#00f1d3 72px,#00f1d3 80px,#00edc5 88px,#00d890 96px,#00c214 104px,#b8ea00 112px,#ffae00 120px,#ffae00 128px)"></i>
<i style="background:linear-gradient(90deg,#00d276 0px,#00d276 8px,#00e5aa 16px,#00fefc 24px,#40a7ff 32px,#4088ff 40px,#40ccff 48px,#00f1d3 56px,#00edc5 64px,#00edc5 72px,#00edc5 80px,#00eab7 88px,#00d583 96px,#00bc00 104px,#c7ef00 112px,#ffa500 120px,#ffa500 128px)"></i>
<i style="background:linear-gradient(90deg,#00d276 0px,#00d276 8px,#00e5aa 16px,#00fefc 24px,#40a7ff 32px,#4088ff 40px,#40ccff 48px,#00f1d3 56px,#00eab7 64px,#00edc5 72px,#00edc5 80px,#00e5aa 88px,#00d276 96px,#1ac300 104px,#c7ef00 112px,#ffa500 120px,#ffa500 128px)"></i>
<i style="background:linear-gradient(90deg,#00d276 0px,#00d276 8px,#00de9d 16px,#00fefc 24px,#40a7ff 32px,#4088ff 40px,#40d9ff 48px,#00edc5 56px,#00e5aa 64px,#00eab7 72px,#00eab7 80px,#00e5aa 88px,#00d276 96px,#33c900 104px,#d5f400 112px,#fd9b00 120px,#fd9b00 128px)"></i>
<i style="background:linear-gradient(90deg,#00d276 0px,#00d276 8px,#00de9d 16px,#00fefc 24px,#40a7ff 32px,#4088ff 40px,#40d9ff 48px,#00eab7 56px,#00de9d 64px,#00e5aa 72px,#00eab7 80px,#00de9d 88px,#00cf65 96px,#33c900 104px,#e2f800 112px,#fd9b00 120px,#fd9b00 128px)"></i>
<i style="background:linear-gradient(90deg,#00cf65 0px,#00cf65 8px,#00de9d 16px,#00fefc 24px,#40b4ff 32px,#4088ff 40px,#40dbff 48px,#00e5aa 56px,#00de9d 64px,#00e5aa 72px,#00e5aa 80px,#00de9d 88px,#00cd4f 96px,#44cd00 104px,#e2f800 112px,#fd9b00 120px,#fd9b00 128px)"></i>
<i style="background:linear-gradient(90deg,#00cf65 0px,#00cf65 8px,#00de9d 16px,#00f8e8 24px,#40b4ff 32px,#4092ff 40px,#36e1ff 48px,#00e5aa 56px,#00d890 64px,#00de9d 72px,#00de9d 80px,#00d890 88px,#00cd4f 96px,#56d200 104px,#eefb00 112px,#fd9b00 120px,#fd9b00 128px)"></i>
<i style="background:linear-gradient(90deg,#00cf65 0px,#00cf65 8px,#00de9d 16px,#00f8e8 24px,#40ccff 32px,#409cff 40px,#19f2ff 48px,#00de9d 56px,#00d583 64px,#00d890 72px,#00de9d 80px,#00d890 88px,#00ca3b 96px,#56d200 104px,#eefb00 112px,#fd9b00 120px,#fd9b00 128px)"></i>
<i style="background:linear-gradient(90deg,#00cf65 0px,#00cf65 8px,#00d890 16px,#00f1d3 24px,#40d9ff 32px,#40b4ff 40px,#00fefc 48px,#00d890 56px,#00d276 64px,#00d583 72px,#00d890 80px,#00d583 88px,#00ca3b 96px,#68d600 104px,#eefb00 112px,#fd9b00 120px,#fd9b00 128px)"></i>
<i style="background:linear-gradient(90deg,#00cd4f 0px,#00cd4f 8px,#00d890 16px,#00f1d3 24px,#40dbff 32px,#40ccff 40px,#00f8e8 48px,#00d583 56px,#00cf65 64px,#00d276 72px,#00d583 80px,#00d583 88px,#00c828 96px,#68d600 104px,#fbfe00 112px,#fd9b00 120px,#fd9b00 128px)"></i>
<i style="background:linear-gradient(90deg,#00cd4f 0px,#00cd4f 8px,#00d890 16px,#00edc5 24px,#19f2ff 32px,#40dbff 40px,#00edc5 48px,#00d276 56px,#00cd4f 64px,#00cd4f 72px,#00d276 80px,#00d276 88px,#00c828 96px,#68d600 104px,#fbfe00 112px,#fd9b00 120px,#fd9b00 128px)"></i>
<i style="background:linear-gradient(90deg,#00cd4f 0px,#00cd4f 8px,#00d583 16px,#00eab7 24px,#00fefc 32px,#19f2ff 40px,#00eab7 48px,#00cf65 56px,#00ca3b 64px,#00cd4f 72px,#00d276 80px,#00d276 88px,#00c828 96px,#7ada00 104px,#fbfe00 112px,#fd9b00 120px,#fd9b00 128px)"></i>
<i style="background:linear-gradient(90deg,#00ca3b 0px,#00ca3b 8px,#00d583 16px,#00e5aa 24px,#00f8e8 32px,#00f8e8 40px,#00e5aa 48px,#00cd4f 56px,#00c828 64px,#00ca3b 72px,#00cf65 80px,#00d276 88px,#00c214 96px,#7ada00 104px,#fbfe00 112px,#fd9b00 120px,#fd9b00 128px)"></i>
<i style="background:linear-gradient(90deg,#00ca3b 0px,#00ca3b 8px,#00d276 16px,#00e5aa 24px,#00edc5 32px,#00f1d3 40px,#00de9d 48px,#00cd4f 56px,#00c828 64px,#00c828 72px,#00cd4f 80px,#00cf65 88px,#00c214 96px,#7ada00 104px,#fbfe00 112px,#ffa500 120px,#ffa500 128px)"></i>
<i style="background:linear-gradient(90deg,#00c828 0px,#00c828 8px,#00d276 16px,#00de9d 24px,#00eab7 32px,#00eab7 40px,#00d890 48px,#00ca3b 56px,#00c214 64px,#00c214 72px,#00cd4f 80px,#00cf65 88px,#00c214 96px,#8ade00 104px,#fbfe00 112px,#ffa500 120px,#ffa500 128px)"></i>
<i style="background:linear-gradient(90deg,#00c828 0px,#00c828 8px,#00cf65 16px,#00d583 24px,#00e5aa 32px,#00e5aa 40px,#00d583 48px,#00ca3b 56px,#00c214 64px,#00c214 72px,#00cd4f 80px,#00cf65 88px,#00c214 96px,#8ade00 104px,#fbfe00 112px,#ffa500 120px,#ffa500 128px)"></i>
<i style="background:linear-gradient(90deg,#00c214 0px,#00c214 8px,#00cd4f 16px,#00d276 24px,#00d890 32px,#00de9d 40px,#00d276 48px,#00c828 56px,#00bc00 64px,#00c214 72px,#00cd4f 80px,#00cf65 88px,#00c214 96px,#8ade00 104px,#fff900 112px,#ffa500 120px,#ffa500 128px)"></i>
<i style="background:linear-gradient(90deg,#00c214 0px,#00c214 8px,#00ca3b 16px,#00cf65 24px,#00d583 32px,#00d583 40px,#00cf65 48px,#00c828 56px,#00bc00 64px,#00c214 72px,#00ca3b 80px,#00cf65 88px,#00bc00 96px,#8ade00 104px,#fff900 112px,#ffa500 120px,#ffa500 128px)"></i>
<i style="background:linear-gradient(90deg,#00bc00 0px,#00bc00 8px,#00c828 16px,#00cd4f 24px,#00d276 32px,#00d276 40px,#00cd4f 48px,#00c828 56px,#00bc00 64px,#00bc00 72px,#00cd4f 80px,#00cf65 88px,#00bc00 96px,#99e200 104px,#fff900 112px,#ffae00 120px,#ffae00 128px)"></i>
<i style="background:linear-gradient(90deg,#00bc00 0px,#00bc00 8px,#00c214 16px,#00c828 24px,#00cd4f 32px,#00cf65 40px,#00cd4f 48px,#00c828 56px,#00bc00 64px,#00c214 72px,#00cd4f 80px,#00cf65 88px,#00bc00 96px,#99e200 104px,#fff900 112px,#ffae00 120px,#ffae00 128px)"></i>
<i style="background:linear-gradient(90deg,#1ac300 0px,#1ac300 8px,#00bc00 16px,#00c214 24px,#00ca3b 32px,#00cd4f 40px,#00ca3b 48px,#00c828 56px,#00c214 64px,#00c214 72px,#00cd4f 80px,#00cf65 88px,#00bc00 96px,#99e200 104px,#fff900 112px,#ffae00 120px,#ffae00 128px)"></i>
<i style="background:linear-gradient(90deg,#1ac300 0px,#1ac300 8px,#1ac300 16px,#1ac300 24px,#00c214 32px,#00ca3b 40px,#00ca3b 48px,#00c828 56px,#00c214 64px,#00c214 72px,#00cd4f 80px,#00cf65 88px,#00bc00 96px,#99e200 104px,#fff900 112px,#ffae00 120px,#ffae00 128px)"></i>
<i style="background:linear-gradient(90deg,#1ac300 0px,#1ac300 8px,#1ac300 16px,#1ac300 24px,#00c214 32px,#00ca3b 40px,#00ca3b 48px,#00c828 56px,#00c214 64px,#00c214 72px,#00cd4f 80px,#00cf65 88px,#00bc00 96px,#99e200 104px,#fff900 112px,#ffae00 120px,#ffae00 128px)"></i>
<i style="background:linear-gradient(90deg,#1ac300 0px,#1ac300 8px,#1ac300 16px,#1ac300 24px,#00c214 32px,#00ca3b 40px,#00ca3b 48px,#00c828 56px,#00c214 64px,#00c214 72px,#00cd4f 80px,#00cf65 88px,#00bc00 96px,#99e200 104px,#fff900 112px,#ffae00 120px,#ffae00 128px)"></i>
<i style="background:linear-gradient(90deg,#1ac300 0px,#1ac300 8px,#1ac300 16px,#1ac300 24px,#00c214 32px,#00ca3b 40px,#00ca3b 48px,#00c828 56px,#00c214 64px,#00c214 72px,#00cd4f 80px,#00cf65 88px,#00bc00 96px,#99e200 104px,#fff900 112px,#ffae00 120px,#ffae00 128px)"></i>
<i style="background:linear-gradient(90deg,#1ac300 0px,#1ac300 8px,#1ac300 16px,#1ac300 24px,#00c214 32px,#00ca3b 40px,#00ca3b 48px,#00c828 56px,#00c214 64px,#00c214 72px,#00cd4f 80px,#00cf65 88px,#00bc00 96px,#99e200 104px,#fff900 112px,#ffae00 120px,#ffae00 128px)"></i>
<i style="background:linear-gradient(90deg,#1ac300 0px,#1ac300 8px,#1ac300 16px,#1ac300 24px,#00c214 32px,#00ca3b 40px,#00ca3b 48px,#00c828 56px,#00c214 64px,#00c214 72px,#00cd4f 80px,#00cf65 88px,#00bc00 96px,#99e200 104px,#fff900 112px,#ffae00 120px,#ffae00 128px)"></i>
<i style="background:linear-gradient(90deg,#1ac300 0px,#1ac300 8px,#1ac300 16px,#1ac300 24px,#00c214 32px,#00ca3b 40px,#00ca3b 48px,#00c828 56px,#00c214 64px,#00c214 72px,#00cd4f 80px,#00cf65 88px,#00bc00 96px,#99e200 104px,#fff900 112px,#ffae00 120px,#ffae00 128px)"></i>
</div>
<div class="t" style="left:429.9px;top:346.3px;font-size:13.37px;letter-spacing:0.00px;color:#f00">1</div>
<div class="t" style="left:414.5px;top:389.7px;font-size:13.37px;letter-spacing:0.00px;color:#f00">2</div>
<div class="t" style="left:389.4px;top:428.3px;font-size:13.37px;letter-spacing:0.00px;color:#f00">3</div>
<div class="t" style="left:356.1px;top:460.2px;font-size:13.37px;letter-spacing:0.00px;color:#f00">4</div>
<div class="t" style="left:316.2px;top:483.4px;font-size:13.37px;letter-spacing:0.00px;color:#f00">5</div>
<div class="t" style="left:272.1px;top:496.9px;font-size:13.37px;letter-spacing:0.00px;color:#f00">6</div>
<div class="t" style="left:233.6px;top:500.1px;font-size:13.37px;letter-spacing:0.00px;color:#f00">7</div>
<div class="t" style="left:187.8px;top:493.9px;font-size:13.37px;letter-spacing:0.00px;color:#f00">8</div>
<div class="t" style="left:144.7px;top:477.4px;font-size:13.37px;letter-spacing:0.00px;color:#f00">9</div>
<div class="t" style="left:102.4px;top:451.4px;font-size:13.37px;letter-spacing:1.16px;color:#f00">10</div>
<div class="t" style="left:71.4px;top:417.3px;font-size:13.37px;letter-spacing:2.09px;color:#f00">11</div>
<div class="t" style="left:49.1px;top:377.0px;font-size:13.37px;letter-spacing:1.16px;color:#f00">12</div>
<div class="t" style="left:36.7px;top:332.7px;font-size:13.37px;letter-spacing:1.16px;color:#f00">13</div>
<div class="t" style="left:34.9px;top:286.9px;font-size:13.37px;letter-spacing:1.16px;color:#f00">14</div>
<div class="t" style="left:43.6px;top:241.8px;font-size:13.37px;letter-spacing:1.16px;color:#f00">15</div>
<div class="t" style="left:62.4px;top:200.1px;font-size:13.37px;letter-spacing:1.16px;color:#f00">16</div>
<div class="t" style="left:90.3px;top:163.8px;font-size:13.37px;letter-spacing:1.16px;color:#f00">17</div>
<div class="t" style="left:125.7px;top:134.9px;font-size:13.37px;letter-spacing:1.16px;color:#f00">18</div>
<div class="t" style="left:166.7px;top:114.9px;font-size:13.37px;letter-spacing:1.16px;color:#f00">19</div>
<div class="t" style="left:211.2px;top:104.8px;font-size:13.37px;letter-spacing:1.16px;color:#f00">20</div>
<div class="t" style="left:256.9px;top:105.2px;font-size:13.37px;letter-spacing:1.16px;color:#f00">21</div>
<div class="t" style="left:301.2px;top:116.0px;font-size:13.37px;letter-spacing:1.16px;color:#f00">22</div>
<div class="t" style="left:341.9px;top:136.6px;font-size:13.37px;letter-spacing:1.16px;color:#f00">23</div>
<div class="t" style="left:376.9px;top:166.1px;font-size:13.37px;letter-spacing:1.16px;color:#f00">24</div>
<div class="t" style="left:404.1px;top:202.8px;font-size:13.37px;letter-spacing:1.16px;color:#f00">25</div>
<div class="t" style="left:422.3px;top:244.8px;font-size:13.37px;letter-spacing:1.16px;color:#f00">26</div>
<div class="t" style="left:430.3px;top:290.0px;font-size:13.37px;letter-spacing:1.16px;color:#f00">27</div>
<svg class="ov" width="960" height="600" viewBox="0 0 960 600">
<g fill="none" stroke="#000" stroke-width="1">
</g>
<g id="dhcs">
<path d="M228.4 304.5L227.7 302.5L227.1 300.4L226.4 298.3L225.8 296.3L225.3 294.4L224.9 292.6L224.7 291.0L224.6 289.6L224.6 288.3L224.8 287.0L225.1 285.6L225.5 284.2L226.0 282.6L226.7 280.8L227.4 278.9L228.3 277.0L229.3 275.0L230.5 273.1L231.8 271.2L233.3 269.3L235.0 267.6L236.9 265.9L239.2 264.3L241.8 262.8L244.9 261.4L248.2 260.2L251.9 259.1L255.8 258.2L259.9 257.6L264.2 257.2L268.6 257.1L273.0 257.4L277.6 257.9L282.2 258.9L286.9 260.2L291.6 261.9L296.4 264.0L301.2 266.5L306.0 269.4L310.7 272.7L315.2 276.4L319.6 280.4L323.8 284.9L327.7 289.7L331.3 295.0L334.6 300.6L337.5 306.6L340.0 312.9L342.0 319.6L343.6 326.5L344.8 333.3L345.6 339.9L346.2 346.0L346.5 351.4L346.6 356.0L346.5 359.8L346.2 362.9L345.9 365.5L345.6 367.6L345.3 369.4L345.1 370.9L344.8 372.4L344.5 373.8L344.2 375.2L343.7 376.8L343.0 378.7L342.1 380.8L341.0 383.3L339.6 386.0L338.1 389.0L336.4 392.1L334.5 395.5L332.4 398.9L330.1 402.5L327.7 406.2L325.2 409.9L322.5 413.6L319.6 417.2L316.6 420.7L313.5 424.2L310.2 427.6L306.8 430.9L303.2 434.2L299.5 437.3L295.7 440.4L291.7 443.5L287.6 446.4L283.5 449.2L279.3 452.0L275.1 454.5L270.9 457.0L266.7 459.3L262.5 461.4L258.3 463.5L254.2 465.4L250.0 467.2L245.8 468.9L241.7 470.5L237.5 471.9L233.3 473.3L229.0 474.5L224.8 475.6L220.5 476.6L216.3 477.5L212.2 478.2L208.4 478.8L205.0 479.3L201.9 479.6L199.3 479.8L197.1 479.9L195.0 479.9L192.9 479.8L190.7 479.6L188.1 479.3L185.0 478.9L181.6 478.4L177.8 477.9L173.7 477.3L169.5 476.5L165.3 475.7L161.0 474.8L156.8 473.7L152.5 472.5L148.3 471.2L143.9 469.7L139.4 468.1L134.9 466.3L130.4 464.3L125.9 462.3L121.7 460.4L117.9 458.5L114.6 456.8L111.8 455.2L109.5 453.9L107.7 452.7L106.2 451.7L105.1 450.8L104.0 450.0" fill="none" stroke="#fff" stroke-width="2.0"/>
<path d="M260.7 119.6L258.2 119.8L255.3 120.2L251.9 120.7L247.6 121.7L242.1 123.2L235.4 125.2L227.4 127.9L218.2 131.2L208.2 135.3L197.8 139.9L187.4 145.3L177.2 151.3L167.5 157.9L158.4 165.1L150.0 172.8L142.3 181.0L135.3 189.4L129.0 198.2L123.4 207.1L118.6 216.2L114.5 225.5L111.0 234.9L108.3 244.4L106.1 253.9L104.7 263.6L103.8 273.2L103.6 282.8L104.0 292.2L104.9 301.4L106.6 310.4L108.8 319.0L111.5 327.2L114.8 335.1L118.7 342.6L123.0 349.7L127.8 356.4L132.9 362.7L138.5 368.6L144.3 374.0L150.5 378.9L156.8 383.3L163.2 387.1L169.7 390.4L176.3 393.1L183.0 395.2L189.6 396.8L196.2 397.9L202.8 398.5L209.3 398.7L215.7 398.4L222.0 397.7L228.1 396.7L233.9 395.3L239.5 393.6L244.8 391.6L249.7 389.3L254.4 386.7L258.8 384.0L262.9 381.0L266.7 377.8L270.3 374.5L273.6 371.0L276.7 367.4L279.5 363.6L281.9 359.7L284.1 355.6L285.9 351.5L287.4 347.3L288.6 343.0L289.4 338.7L289.8 334.4L289.8 330.1L289.5 326.0L288.8 321.9L287.8 318.1L286.7 314.5L285.5 311.0L284.3 307.7" fill="none" stroke="#fff" stroke-width="2.0"/>
<path d="M358.7 160.2L350.0 157.7L341.0 155.2L331.6 152.8L321.9 150.6L311.8 148.6L301.5 147.2L291.2 146.2L281.0 145.9L270.8 146.1L260.7 146.9L250.7 148.3L240.8 150.3L231.0 152.8L221.4 156.0L212.0 159.7L202.9 163.9L194.1 168.8L185.7 174.1L177.7 180.0L170.2 186.3L163.2 193.0L156.8 200.1L150.9 207.5L145.6 215.0L141.0 222.7L137.0 230.6L133.7 238.5L130.9 246.5L128.7 254.7L127.1 262.8L126.1 271.0L125.6 279.2L125.6 287.3L126.2 295.2L127.2 303.0L128.8 310.4L130.9 317.6L133.5 324.4L136.5 330.9L139.9 337.0L143.7 342.9L147.8 348.3L152.3 353.4L157.0 358.2L161.9 362.5L167.1 366.4L172.3 369.9L177.7 372.9L183.1 375.4L188.5 377.4L194.0 379.0L199.4 380.2L204.8 381.0L210.2 381.5L215.4 381.6L220.6 381.5L225.7 381.1L230.6 380.4L235.3 379.5L239.8 378.3L244.1 376.9L248.2 375.2L252.1 373.4L255.7 371.3L259.2 369.1L262.4 366.6L265.5 364.0L268.3 361.2L270.9 358.3L273.2 355.2L275.2 351.9L277.0 348.5L278.4 345.0L279.5 341.4L280.3 337.8L280.8 334.1L281.1 330.5L281.1 327.0L280.8 323.6L280.2 320.3L279.4 317.2L278.4 314.3L277.1 311.6L275.5 309.0L273.8 306.7L271.9 304.6L269.9 302.7L267.9 301.0L265.9 299.5L263.9 298.0" fill="none" stroke="#fff" stroke-width="2.0"/>
</g>
<g id="dimf">
<path d="M195.0 191.0L191.9 193.8L188.8 196.7L185.5 199.8L182.2 203.2L178.8 206.7L175.4 210.5L172.2 214.4L169.0 218.4L166.0 222.5L163.3 226.5L160.8 230.6L158.5 234.5L156.6 238.3L154.9 241.9L153.5 245.2L152.2 248.4L151.1 251.2L150.2 253.7L149.3 256.0L148.6 258.0L147.9 259.9L147.4 261.9L147.0 264.2L146.8 266.9L146.8 270.0L146.9 273.5L147.2 277.3L147.8 281.3L148.4 285.4L149.3 289.5L150.3 293.6L151.6 297.5L152.9 301.3L154.4 305.1L156.1 308.8L157.8 312.4L159.6 315.9L161.6 319.4L163.6 322.7L165.7 325.9L167.9 328.9L170.2 331.7L172.6 334.4L175.0 336.8L177.4 339.0L179.9 341.0L182.4 343.0L185.0 344.8L187.5 346.5L190.0 348.1L192.5 349.6L195.0 351.0L197.5 352.2L199.9 353.3L202.4 354.3L204.9 355.2L207.4 355.9L210.0 356.4L212.7 356.7L215.6 356.8L218.6 356.7L221.8 356.4L225.0 356.0L228.2 355.4L231.5 354.6L234.6 353.8L237.7 352.8L240.7 351.8L243.6 350.7L246.4 349.4L249.2 348.0L251.8 346.5L254.4 344.8L256.9 343.0L259.2 341.1L261.4 339.1L263.4 336.9L265.1 334.8L266.6 332.5L267.8 330.3L268.8 328.1L269.6 326.0L270.4 324.0L271.0 322.0" fill="none" stroke="#fff" stroke-width="2.3"/><path d="M195.0 191.0L191.9 193.8L188.8 196.7L185.5 199.8L182.2 203.2L178.8 206.7L175.4 210.5L172.2 214.4L169.0 218.4L166.0 222.5L163.3 226.5L160.8 230.6L158.5 234.5L156.6 238.3L154.9 241.9L153.5 245.2L152.2 248.4L151.1 251.2L150.2 253.7L149.3 256.0L148.6 258.0L147.9 259.9L147.4 261.9L147.0 264.2L146.8 266.9L146.8 270.0L146.9 273.5L147.2 277.3L147.8 281.3L148.4 285.4L149.3 289.5L150.3 293.6L151.6 297.5L152.9 301.3L154.4 305.1L156.1 308.8L157.8 312.4L159.6 315.9L161.6 319.4L163.6 322.7L165.7 325.9L167.9 328.9L170.2 331.7L172.6 334.4L175.0 336.8L177.4 339.0L179.9 341.0L182.4 343.0L185.0 344.8L187.5 346.5L190.0 348.1L192.5 349.6L195.0 351.0L197.5 352.2L199.9 353.3L202.4 354.3L204.9 355.2L207.4 355.9L210.0 356.4L212.7 356.7L215.6 356.8L218.6 356.7L221.8 356.4L225.0 356.0L228.2 355.4L231.5 354.6L234.6 353.8L237.7 352.8L240.7 351.8L243.6 350.7L246.4 349.4L249.2 348.0L251.8 346.5L254.4 344.8L256.9 343.0L259.2 341.1L261.4 339.1L263.4 336.9L265.1 334.8L266.6 332.5L267.8 330.3L268.8 328.1L269.6 326.0L270.4 324.0L271.0 322.0" fill="none" stroke="#000" stroke-width="2.7" stroke-dasharray="5 4"/>
<path d="M429.6 341.7L429.3 339.9L429.0 338.0L428.7 335.9L428.3 333.6L427.8 331.0L427.3 328.3L426.8 325.3L426.2 322.1L425.5 318.8L424.8 315.4L424.0 311.9L423.1 308.4L422.2 304.9L421.3 301.4L420.2 297.9L419.1 294.4L418.0 291.0L416.8 287.6L415.5 284.2L414.2 280.9L412.8 277.6L411.4 274.5L410.0 271.6L408.7 268.9L407.3 266.3L405.9 263.9L404.4 261.5L402.8 259.1L401.0 256.6L399.0 253.8L396.7 250.7L394.2 247.4L391.5 243.9L388.6 240.2L385.5 236.5L382.4 232.8L379.2 229.3L375.9 225.8L372.6 222.4L369.3 219.1L365.8 216.0L362.3 213.0L358.8 210.1L355.1 207.4L351.4 204.8L347.6 202.3L343.7 199.9L339.6 197.6L335.4 195.3L331.1 193.1L326.5 191.0L321.8 189.1L316.7 187.3L311.4 185.7L305.8 184.3L299.9 183.1L293.9 182.2L287.7 181.5L281.5 180.9L275.3 180.6L269.2 180.5L263.1 180.6L257.3 180.9L251.6 181.5L246.2 182.3L241.1 183.3L236.3 184.6L231.7 186.1L227.3 187.8L223.1 189.8L218.9 191.9L214.8 194.1L210.6 196.5L206.5 199.0L202.4 201.7L198.3 204.4L194.3 207.3L190.5 210.3L186.7 213.4L183.2 216.5L179.7 219.9L176.5 223.3L173.5 226.9L170.6 230.7L168.0 234.7L165.6 238.7L163.4 242.7L161.5 246.5L159.8 250.0L158.3 253.1L157.1 255.8L156.1 258.0L155.3 260.1L154.8 262.1L154.4 264.1L154.1 266.4L154.0 269.0L154.0 271.8L154.2 274.9L154.5 278.1L154.9 281.4L155.5 284.6L156.2 287.8L157.1 290.8L158.0 293.8L159.0 296.7L160.1 299.5L161.1 302.2L162.2 304.9L163.2 307.5L164.3 310.0L165.4 312.6L166.7 315.2L168.2 317.9L169.8 320.7L171.6 323.5L173.6 326.3L175.7 329.1L177.8 331.8L180.1 334.3L182.4 336.7L184.9 338.8L187.4 340.7L190.0 342.5L192.7 344.1L195.6 345.5L198.6 346.8L201.7 347.9L205.0 348.8L208.2 349.5L211.5 350.0L214.6 350.3L217.7 350.3L220.7 350.1L223.6 349.8L226.4 349.2L229.2 348.5L231.8 347.6L234.4 346.6L236.9 345.4L239.2 344.2L241.4 342.7L243.4 341.2L245.2 339.4L246.8 337.6L248.2 335.7L249.3 333.7L250.3 331.8L251.2 329.9L252.0 328.0" fill="none" stroke="#fff" stroke-width="2.3"/><path d="M429.6 341.7L429.3 339.9L429.0 338.0L428.7 335.9L428.3 333.6L427.8 331.0L427.3 328.3L426.8 325.3L426.2 322.1L425.5 318.8L424.8 315.4L424.0 311.9L423.1 308.4L422.2 304.9L421.3 301.4L420.2 297.9L419.1 294.4L418.0 291.0L416.8 287.6L415.5 284.2L414.2 280.9L412.8 277.6L411.4 274.5L410.0 271.6L408.7 268.9L407.3 266.3L405.9 263.9L404.4 261.5L402.8 259.1L401.0 256.6L399.0 253.8L396.7 250.7L394.2 247.4L391.5 243.9L388.6 240.2L385.5 236.5L382.4 232.8L379.2 229.3L375.9 225.8L372.6 222.4L369.3 219.1L365.8 216.0L362.3 213.0L358.8 210.1L355.1 207.4L351.4 204.8L347.6 202.3L343.7 199.9L339.6 197.6L335.4 195.3L331.1 193.1L326.5 191.0L321.8 189.1L316.7 187.3L311.4 185.7L305.8 184.3L299.9 183.1L293.9 182.2L287.7 181.5L281.5 180.9L275.3 180.6L269.2 180.5L263.1 180.6L257.3 180.9L251.6 181.5L246.2 182.3L241.1 183.3L236.3 184.6L231.7 186.1L227.3 187.8L223.1 189.8L218.9 191.9L214.8 194.1L210.6 196.5L206.5 199.0L202.4 201.7L198.3 204.4L194.3 207.3L190.5 210.3L186.7 213.4L183.2 216.5L179.7 219.9L176.5 223.3L173.5 226.9L170.6 230.7L168.0 234.7L165.6 238.7L163.4 242.7L161.5 246.5L159.8 250.0L158.3 253.1L157.1 255.8L156.1 258.0L155.3 260.1L154.8 262.1L154.4 264.1L154.1 266.4L154.0 269.0L154.0 271.8L154.2 274.9L154.5 278.1L154.9 281.4L155.5 284.6L156.2 287.8L157.1 290.8L158.0 293.8L159.0 296.7L160.1 299.5L161.1 302.2L162.2 304.9L163.2 307.5L164.3 310.0L165.4 312.6L166.7 315.2L168.2 317.9L169.8 320.7L171.6 323.5L173.6 326.3L175.7 329.1L177.8 331.8L180.1 334.3L182.4 336.7L184.9 338.8L187.4 340.7L190.0 342.5L192.7 344.1L195.6 345.5L198.6 346.8L201.7 347.9L205.0 348.8L208.2 349.5L211.5 350.0L214.6 350.3L217.7 350.3L220.7 350.1L223.6 349.8L226.4 349.2L229.2 348.5L231.8 347.6L234.4 346.6L236.9 345.4L239.2 344.2L241.4 342.7L243.4 341.2L245.2 339.4L246.8 337.6L248.2 335.7L249.3 333.7L250.3 331.8L251.2 329.9L252.0 328.0" fill="none" stroke="#000" stroke-width="2.7" stroke-dasharray="5 4"/>
<path d="M382.5 232.5L379.0 229.8L375.3 227.1L371.6 224.3L367.7 221.4L363.7 218.5L359.8 215.7L355.9 213.0L352.1 210.3L348.4 207.8L344.6 205.4L340.8 203.1L336.8 200.8L332.7 198.6L328.5 196.5L324.1 194.5L319.4 192.6L314.5 190.9L309.4 189.3L303.9 188.0L298.2 186.9L292.3 186.1L286.3 185.4L280.2 184.9L274.2 184.6L268.3 184.6L262.4 184.7L256.8 185.1L251.3 185.6L246.0 186.4L241.1 187.5L236.4 188.8L232.0 190.3L227.8 192.0L223.7 193.9L219.7 196.0L215.7 198.2L211.7 200.6L207.7 203.0L203.8 205.6L199.8 208.3L196.0 211.1L192.3 214.0L188.7 217.0L185.3 220.1L182.1 223.3L179.0 226.7L176.1 230.2L173.4 233.9L170.9 237.7L168.6 241.6L166.5 245.5L164.7 249.2L163.1 252.7L161.7 255.8L160.6 258.5L159.7 260.8L159.0 262.7L158.4 264.3L157.9 265.7L157.5 267.0" fill="none" stroke="#fff" stroke-width="2.3"/><path d="M382.5 232.5L379.0 229.8L375.3 227.1L371.6 224.3L367.7 221.4L363.7 218.5L359.8 215.7L355.9 213.0L352.1 210.3L348.4 207.8L344.6 205.4L340.8 203.1L336.8 200.8L332.7 198.6L328.5 196.5L324.1 194.5L319.4 192.6L314.5 190.9L309.4 189.3L303.9 188.0L298.2 186.9L292.3 186.1L286.3 185.4L280.2 184.9L274.2 184.6L268.3 184.6L262.4 184.7L256.8 185.1L251.3 185.6L246.0 186.4L241.1 187.5L236.4 188.8L232.0 190.3L227.8 192.0L223.7 193.9L219.7 196.0L215.7 198.2L211.7 200.6L207.7 203.0L203.8 205.6L199.8 208.3L196.0 211.1L192.3 214.0L188.7 217.0L185.3 220.1L182.1 223.3L179.0 226.7L176.1 230.2L173.4 233.9L170.9 237.7L168.6 241.6L166.5 245.5L164.7 249.2L163.1 252.7L161.7 255.8L160.6 258.5L159.7 260.8L159.0 262.7L158.4 264.3L157.9 265.7L157.5 267.0" fill="none" stroke="#000" stroke-width="2.7" stroke-dasharray="5 4"/>
<path d="M345.0 207.5L344.4 207.2L343.7 206.8L342.8 206.4L341.8 205.9L340.5 205.3L339.0 204.5L337.2 203.6L335.1 202.5L332.8 201.3L330.3 200.1L327.6 198.8L324.7 197.5L321.7 196.2L318.6 194.9L315.3 193.7L311.8 192.5L308.0 191.3L304.0 190.3L299.7 189.3L295.1 188.5L290.3 187.8L285.2 187.2L279.9 186.8L274.4 186.6L268.8 186.5L263.1 186.7L257.4 187.1L251.8 187.7L246.3 188.5L241.1 189.6L236.2 190.9L231.6 192.4L227.2 194.1L223.1 196.0L219.1 198.1L215.3 200.3L211.7 202.6L208.2 205.0L204.8 207.4L201.5 209.9L198.4 212.3L195.5 214.8L192.7 217.3L190.0 219.8L187.4 222.3L184.8 225.1L182.3 228.1L179.7 231.4L177.2 234.9L174.7 238.7L172.2 242.6L170.0 246.4L168.0 249.9L166.4 253.0L165.1 255.7L164.1 258.0L163.4 260.1L163.0 262.0L162.8 264.0L162.6 266.3L162.6 268.8L162.7 271.6L162.9 274.8L163.2 278.2L163.8 281.8L164.5 285.6L165.5 289.6L166.6 293.6L168.0 297.6L169.4 301.6L171.0 305.3L172.6 308.7L174.3 311.7L175.9 314.3L177.5 316.6L179.1 318.6L180.5 320.2L181.8 321.5L182.9 322.5L184.0 323.3L184.9 324.1L186.0 324.8L187.1 325.7L188.4 326.8L189.9 328.2L191.6 329.8L193.6 331.5L195.7 333.3L197.9 335.0L200.2 336.5L202.5 337.8L205.0 338.8L207.4 339.5L210.0 340.0L212.5 340.3L215.0 340.4L217.6 340.3L220.1 340.1L222.6 339.7L225.0 339.1L227.4 338.5L229.6 337.8L231.7 337.0L233.6 336.2L235.4 335.4L237.0 334.6L238.5 333.8L240.0 333.0" fill="none" stroke="#fff" stroke-width="2.3"/><path d="M345.0 207.5L344.4 207.2L343.7 206.8L342.8 206.4L341.8 205.9L340.5 205.3L339.0 204.5L337.2 203.6L335.1 202.5L332.8 201.3L330.3 200.1L327.6 198.8L324.7 197.5L321.7 196.2L318.6 194.9L315.3 193.7L311.8 192.5L308.0 191.3L304.0 190.3L299.7 189.3L295.1 188.5L290.3 187.8L285.2 187.2L279.9 186.8L274.4 186.6L268.8 186.5L263.1 186.7L257.4 187.1L251.8 187.7L246.3 188.5L241.1 189.6L236.2 190.9L231.6 192.4L227.2 194.1L223.1 196.0L219.1 198.1L215.3 200.3L211.7 202.6L208.2 205.0L204.8 207.4L201.5 209.9L198.4 212.3L195.5 214.8L192.7 217.3L190.0 219.8L187.4 222.3L184.8 225.1L182.3 228.1L179.7 231.4L177.2 234.9L174.7 238.7L172.2 242.6L170.0 246.4L168.0 249.9L166.4 253.0L165.1 255.7L164.1 258.0L163.4 260.1L163.0 262.0L162.8 264.0L162.6 266.3L162.6 268.8L162.7 271.6L162.9 274.8L163.2 278.2L163.8 281.8L164.5 285.6L165.5 289.6L166.6 293.6L168.0 297.6L169.4 301.6L171.0 305.3L172.6 308.7L174.3 311.7L175.9 314.3L177.5 316.6L179.1 318.6L180.5 320.2L181.8 321.5L182.9 322.5L184.0 323.3L184.9 324.1L186.0 324.8L187.1 325.7L188.4 326.8L189.9 328.2L191.6 329.8L193.6 331.5L195.7 333.3L197.9 335.0L200.2 336.5L202.5 337.8L205.0 338.8L207.4 339.5L210.0 340.0L212.5 340.3L215.0 340.4L217.6 340.3L220.1 340.1L222.6 339.7L225.0 339.1L227.4 338.5L229.6 337.8L231.7 337.0L233.6 336.2L235.4 335.4L237.0 334.6L238.5 333.8L240.0 333.0" fill="none" stroke="#000" stroke-width="2.7" stroke-dasharray="5 4"/>
<path d="M373.3 343.8L373.0 340.6L372.7 337.4L372.4 334.0L372.0 330.5L371.6 326.9L371.1 323.2L370.5 319.5L369.9 315.9L369.2 312.4L368.5 309.0L367.7 305.8L366.8 302.7L365.9 299.8L365.0 297.1L364.0 294.6L362.9 292.2L361.8 289.9L360.7 287.6L359.4 285.4L358.1 283.3L356.8 281.2L355.3 279.1L353.7 277.0L352.0 274.9L350.2 272.7L348.3 270.6L346.3 268.6L344.3 266.7L342.3 265.0L340.4 263.5L338.5 262.2L336.8 261.1L335.0 260.2L333.3 259.3L331.5 258.4L329.8 257.4L327.9 256.2L325.9 255.0L323.9 253.6L321.8 252.1L319.5 250.6L317.1 249.0L314.5 247.5L311.9 245.9L309.0 244.4L305.9 243.0L302.7 241.6L299.2 240.3L295.5 239.1L291.7 238.1L287.6 237.2L283.5 236.6L279.2 236.1L274.9 236.0L270.6 236.1L266.4 236.5L262.3 237.2L258.3 238.1L254.7 239.2L251.4 240.4L248.4 241.8L245.8 243.2L243.5 244.8L241.4 246.5L239.4 248.3L237.6 250.1L235.9 252.0L234.2 253.9L232.6 255.9L231.1 258.0L229.5 260.1L228.0 262.3L226.6 264.6L225.2 267.0L223.9 269.4L222.6 271.9L221.5 274.5L220.4 277.0L219.6 279.6L218.8 282.1L218.3 284.6L217.9 287.0L217.7 289.4L217.7 291.6L217.9 293.8L218.3 295.8L218.8 297.7L219.5 299.4L220.3 301.1L221.1 302.6L221.9 303.9L222.8 305.2L223.6 306.3L224.4 307.3L225.2 308.2L226.0 309.0" fill="none" stroke="#fff" stroke-width="2.3"/><path d="M373.3 343.8L373.0 340.6L372.7 337.4L372.4 334.0L372.0 330.5L371.6 326.9L371.1 323.2L370.5 319.5L369.9 315.9L369.2 312.4L368.5 309.0L367.7 305.8L366.8 302.7L365.9 299.8L365.0 297.1L364.0 294.6L362.9 292.2L361.8 289.9L360.7 287.6L359.4 285.4L358.1 283.3L356.8 281.2L355.3 279.1L353.7 277.0L352.0 274.9L350.2 272.7L348.3 270.6L346.3 268.6L344.3 266.7L342.3 265.0L340.4 263.5L338.5 262.2L336.8 261.1L335.0 260.2L333.3 259.3L331.5 258.4L329.8 257.4L327.9 256.2L325.9 255.0L323.9 253.6L321.8 252.1L319.5 250.6L317.1 249.0L314.5 247.5L311.9 245.9L309.0 244.4L305.9 243.0L302.7 241.6L299.2 240.3L295.5 239.1L291.7 238.1L287.6 237.2L283.5 236.6L279.2 236.1L274.9 236.0L270.6 236.1L266.4 236.5L262.3 237.2L258.3 238.1L254.7 239.2L251.4 240.4L248.4 241.8L245.8 243.2L243.5 244.8L241.4 246.5L239.4 248.3L237.6 250.1L235.9 252.0L234.2 253.9L232.6 255.9L231.1 258.0L229.5 260.1L228.0 262.3L226.6 264.6L225.2 267.0L223.9 269.4L222.6 271.9L221.5 274.5L220.4 277.0L219.6 279.6L218.8 282.1L218.3 284.6L217.9 287.0L217.7 289.4L217.7 291.6L217.9 293.8L218.3 295.8L218.8 297.7L219.5 299.4L220.3 301.1L221.1 302.6L221.9 303.9L222.8 305.2L223.6 306.3L224.4 307.3L225.2 308.2L226.0 309.0" fill="none" stroke="#000" stroke-width="2.7" stroke-dasharray="5 4"/>
<path d="M259.2 294.8L260.8 294.9L262.5 295.0L264.2 295.2L266.1 295.4L268.1 295.7L270.2 296.1L272.3 296.5L274.5 297.1L276.6 297.8L278.8 298.5L280.9 299.4L282.9 300.4L284.8 301.5L286.7 302.7L288.4 304.0L290.1 305.4L291.7 306.9L293.2 308.4L294.7 309.9L296.2 311.5L297.6 313.2L298.9 314.9L300.2 316.7L301.4 318.6L302.5 320.6L303.4 322.7L304.3 324.9L305.1 327.2L305.9 329.5L306.5 331.9L307.1 334.3L307.6 336.7L308.1 339.2L308.4 341.7L308.8 344.1L309.0 346.5L309.2 348.9L309.3 351.1L309.3 353.4L309.3 355.6L309.1 357.7L308.9 359.8L308.5 361.8L308.0 363.8L307.4 365.9L306.5 368.1L305.5 370.4L304.2 373.0L302.7 375.9L301.0 378.9L299.0 382.1L296.9 385.5L294.6 388.8L292.2 392.0L289.6 395.2L286.9 398.3L284.0 401.3L280.9 404.3L277.7 407.2L274.2 410.2L270.5 413.1L266.7 416.0L262.7 418.9L258.5 421.7L254.3 424.3L250.1 426.7L245.9 428.9L241.7 430.9L237.5 432.7L233.3 434.4L229.0 435.8L224.8 437.1L220.5 438.3L216.3 439.3L212.2 440.2L208.4 441.0L205.0 441.6L201.9 442.1L199.3 442.5L197.1 442.7L195.0 442.7L192.8 442.6L190.4 442.3L187.5 441.7L184.2 441.0L180.4 440.2L176.3 439.2L172.1 438.1L167.9 437.1L163.8 436.0" fill="none" stroke="#fff" stroke-width="2.3"/><path d="M259.2 294.8L260.8 294.9L262.5 295.0L264.2 295.2L266.1 295.4L268.1 295.7L270.2 296.1L272.3 296.5L274.5 297.1L276.6 297.8L278.8 298.5L280.9 299.4L282.9 300.4L284.8 301.5L286.7 302.7L288.4 304.0L290.1 305.4L291.7 306.9L293.2 308.4L294.7 309.9L296.2 311.5L297.6 313.2L298.9 314.9L300.2 316.7L301.4 318.6L302.5 320.6L303.4 322.7L304.3 324.9L305.1 327.2L305.9 329.5L306.5 331.9L307.1 334.3L307.6 336.7L308.1 339.2L308.4 341.7L308.8 344.1L309.0 346.5L309.2 348.9L309.3 351.1L309.3 353.4L309.3 355.6L309.1 357.7L308.9 359.8L308.5 361.8L308.0 363.8L307.4 365.9L306.5 368.1L305.5 370.4L304.2 373.0L302.7 375.9L301.0 378.9L299.0 382.1L296.9 385.5L294.6 388.8L292.2 392.0L289.6 395.2L286.9 398.3L284.0 401.3L280.9 404.3L277.7 407.2L274.2 410.2L270.5 413.1L266.7 416.0L262.7 418.9L258.5 421.7L254.3 424.3L250.1 426.7L245.9 428.9L241.7 430.9L237.5 432.7L233.3 434.4L229.0 435.8L224.8 437.1L220.5 438.3L216.3 439.3L212.2 440.2L208.4 441.0L205.0 441.6L201.9 442.1L199.3 442.5L197.1 442.7L195.0 442.7L192.8 442.6L190.4 442.3L187.5 441.7L184.2 441.0L180.4 440.2L176.3 439.2L172.1 438.1L167.9 437.1L163.8 436.0" fill="none" stroke="#000" stroke-width="2.7" stroke-dasharray="5 4"/>
<path d="M275.2 311.3L276.2 312.6L277.2 313.9L278.3 315.3L279.4 316.9L280.4 318.5L281.5 320.2L282.5 322.0L283.4 323.9L284.3 325.8L285.1 327.7L285.7 329.7L286.3 331.6L286.7 333.6L287.0 335.5L287.2 337.5L287.3 339.4L287.3 341.4L287.2 343.5L287.0 345.6L286.7 347.8L286.4 350.0L285.9 352.2L285.4 354.5L284.8 356.7L284.2 359.0L283.5 361.2L282.7 363.4L281.8 365.5L280.8 367.6L279.6 369.6L278.3 371.4L276.9 373.2L275.3 375.0L273.5 376.8L271.4 378.6L269.0 380.5L266.4 382.6L263.5 384.8L260.3 387.0L256.9 389.3L253.3 391.5L249.6 393.7L245.7 395.9L241.7 398.0L237.6 399.9L233.4 401.7L229.1 403.4L224.9 404.9L220.6 406.3L216.3 407.4L212.3 408.5L208.4 409.3L205.0 410.1L201.9 410.8L199.3 411.3L197.1 411.7L195.0 412.0L192.9 412.1L190.7 412.1L188.1 411.8L185.0 411.3L181.6 410.5L177.8 409.6L173.7 408.4L169.5 406.9L165.2 405.2L161.0 403.3L156.7 401.2L152.5 398.8L148.3 396.2L144.0 393.4L139.8 390.4L135.5 387.3L131.3 384.0L127.2 380.6L123.3 377.1L119.8 373.6L116.6 370.1L113.9 366.6L111.6 363.2L109.6 359.9L108.0 356.6L106.5 353.5L105.3 350.5L104.1 347.6L103.1 344.9L102.2 342.5L101.4 340.2L100.7 338.1L100.0 336.0" fill="none" stroke="#fff" stroke-width="2.3"/><path d="M275.2 311.3L276.2 312.6L277.2 313.9L278.3 315.3L279.4 316.9L280.4 318.5L281.5 320.2L282.5 322.0L283.4 323.9L284.3 325.8L285.1 327.7L285.7 329.7L286.3 331.6L286.7 333.6L287.0 335.5L287.2 337.5L287.3 339.4L287.3 341.4L287.2 343.5L287.0 345.6L286.7 347.8L286.4 350.0L285.9 352.2L285.4 354.5L284.8 356.7L284.2 359.0L283.5 361.2L282.7 363.4L281.8 365.5L280.8 367.6L279.6 369.6L278.3 371.4L276.9 373.2L275.3 375.0L273.5 376.8L271.4 378.6L269.0 380.5L266.4 382.6L263.5 384.8L260.3 387.0L256.9 389.3L253.3 391.5L249.6 393.7L245.7 395.9L241.7 398.0L237.6 399.9L233.4 401.7L229.1 403.4L224.9 404.9L220.6 406.3L216.3 407.4L212.3 408.5L208.4 409.3L205.0 410.1L201.9 410.8L199.3 411.3L197.1 411.7L195.0 412.0L192.9 412.1L190.7 412.1L188.1 411.8L185.0 411.3L181.6 410.5L177.8 409.6L173.7 408.4L169.5 406.9L165.2 405.2L161.0 403.3L156.7 401.2L152.5 398.8L148.3 396.2L144.0 393.4L139.8 390.4L135.5 387.3L131.3 384.0L127.2 380.6L123.3 377.1L119.8 373.6L116.6 370.1L113.9 366.6L111.6 363.2L109.6 359.9L108.0 356.6L106.5 353.5L105.3 350.5L104.1 347.6L103.1 344.9L102.2 342.5L101.4 340.2L100.7 338.1L100.0 336.0" fill="none" stroke="#000" stroke-width="2.7" stroke-dasharray="5 4"/>
<path d="M272.0 316.0L272.8 317.0L273.6 318.1L274.4 319.2L275.2 320.5L276.1 321.8L276.9 323.2L277.8 324.7L278.6 326.3L279.3 327.9L280.0 329.6L280.6 331.3L281.1 333.1L281.5 334.8L281.7 336.6L281.9 338.5L281.9 340.3L281.9 342.2L281.8 344.1L281.6 346.0L281.3 348.0L280.9 350.0L280.4 352.0L279.9 354.0L279.3 356.0L278.6 358.0L277.8 360.0L276.9 362.0L275.9 364.0L274.9 365.9L273.7 367.7L272.3 369.5L270.9 371.3L269.2 373.0L267.4 374.7L265.4 376.5L263.2 378.3L260.8 380.1L258.1 382.1L255.2 384.0L252.2 386.0L249.0 387.9L245.7 389.8L242.3 391.7L238.7 393.4L235.1 395.1L231.4 396.7L227.6 398.2L223.7 399.5L219.8 400.7L215.8 401.8L211.9 402.7L208.1 403.5L204.5 404.1L201.2 404.6L198.1 405.0L195.2 405.2L192.5 405.2L189.8 405.1L187.0 404.9L184.1 404.4L180.9 403.7L177.6 402.8L174.1 401.8L170.5 400.5L166.9 399.1L163.2 397.5L159.6 395.8L156.0 393.8L152.5 391.7L148.9 389.5L145.3 387.0L141.7 384.3L138.0 381.5L134.4 378.6L130.8 375.5L127.4 372.5L124.2 369.5L121.3 366.6L118.8 363.8L116.6 361.2L114.7 358.8L113.0 356.5L111.5 354.4L110.2 352.4L108.9 350.5L107.8 348.7L106.7 347.1L105.8 345.7L104.9 344.3L104.0 343.0" fill="none" stroke="#fff" stroke-width="2.3"/><path d="M272.0 316.0L272.8 317.0L273.6 318.1L274.4 319.2L275.2 320.5L276.1 321.8L276.9 323.2L277.8 324.7L278.6 326.3L279.3 327.9L280.0 329.6L280.6 331.3L281.1 333.1L281.5 334.8L281.7 336.6L281.9 338.5L281.9 340.3L281.9 342.2L281.8 344.1L281.6 346.0L281.3 348.0L280.9 350.0L280.4 352.0L279.9 354.0L279.3 356.0L278.6 358.0L277.8 360.0L276.9 362.0L275.9 364.0L274.9 365.9L273.7 367.7L272.3 369.5L270.9 371.3L269.2 373.0L267.4 374.7L265.4 376.5L263.2 378.3L260.8 380.1L258.1 382.1L255.2 384.0L252.2 386.0L249.0 387.9L245.7 389.8L242.3 391.7L238.7 393.4L235.1 395.1L231.4 396.7L227.6 398.2L223.7 399.5L219.8 400.7L215.8 401.8L211.9 402.7L208.1 403.5L204.5 404.1L201.2 404.6L198.1 405.0L195.2 405.2L192.5 405.2L189.8 405.1L187.0 404.9L184.1 404.4L180.9 403.7L177.6 402.8L174.1 401.8L170.5 400.5L166.9 399.1L163.2 397.5L159.6 395.8L156.0 393.8L152.5 391.7L148.9 389.5L145.3 387.0L141.7 384.3L138.0 381.5L134.4 378.6L130.8 375.5L127.4 372.5L124.2 369.5L121.3 366.6L118.8 363.8L116.6 361.2L114.7 358.8L113.0 356.5L111.5 354.4L110.2 352.4L108.9 350.5L107.8 348.7L106.7 347.1L105.8 345.7L104.9 344.3L104.0 343.0" fill="none" stroke="#000" stroke-width="2.7" stroke-dasharray="5 4"/>
<path d="M268.0 318.0L268.8 319.4L269.6 320.8L270.4 322.2L271.2 323.7L272.0 325.3L272.7 326.8L273.4 328.4L274.0 329.9L274.6 331.5L275.1 333.0L275.5 334.5L275.8 336.1L276.1 337.7L276.2 339.3L276.4 341.0L276.4 342.6L276.4 344.3L276.2 346.0L276.0 347.7L275.8 349.3L275.4 351.0L274.9 352.7L274.4 354.3L273.7 356.0L273.0 357.7L272.1 359.3L271.2 361.0L270.1 362.7L269.0 364.3L267.7 366.0L266.3 367.7L264.8 369.4L263.2 371.0L261.4 372.7L259.5 374.3L257.4 375.9L255.2 377.5L252.8 379.0L250.2 380.5L247.5 382.0L244.6 383.6L241.7 385.1L238.6 386.6L235.4 388.1L232.1 389.6L228.7 391.0L225.3 392.4L221.8 393.6L218.2 394.7L214.6 395.6L211.0 396.4L207.4 397.1L204.0 397.7L200.6 398.0L197.5 398.2L194.4 398.3L191.5 398.2L188.5 398.0L185.6 397.6L182.5 397.0L179.4 396.3L176.2 395.4L173.0 394.4L169.8 393.3L166.6 392.1L163.4 390.8L160.4 389.4L157.4 387.9L154.5 386.2L151.5 384.4L148.5 382.4L145.5 380.2L142.3 377.8L139.1 375.2L135.9 372.5L132.7 369.8L129.8 367.2L127.1 364.6L124.7 362.2L122.6 359.9L120.7 357.8L119.1 355.9L117.6 354.0L116.2 352.3L115.0 350.6L113.8 349.1L112.7 347.7L111.8 346.4L110.9 345.2L110.0 344.0" fill="none" stroke="#fff" stroke-width="2.3"/><path d="M268.0 318.0L268.8 319.4L269.6 320.8L270.4 322.2L271.2 323.7L272.0 325.3L272.7 326.8L273.4 328.4L274.0 329.9L274.6 331.5L275.1 333.0L275.5 334.5L275.8 336.1L276.1 337.7L276.2 339.3L276.4 341.0L276.4 342.6L276.4 344.3L276.2 346.0L276.0 347.7L275.8 349.3L275.4 351.0L274.9 352.7L274.4 354.3L273.7 356.0L273.0 357.7L272.1 359.3L271.2 361.0L270.1 362.7L269.0 364.3L267.7 366.0L266.3 367.7L264.8 369.4L263.2 371.0L261.4 372.7L259.5 374.3L257.4 375.9L255.2 377.5L252.8 379.0L250.2 380.5L247.5 382.0L244.6 383.6L241.7 385.1L238.6 386.6L235.4 388.1L232.1 389.6L228.7 391.0L225.3 392.4L221.8 393.6L218.2 394.7L214.6 395.6L211.0 396.4L207.4 397.1L204.0 397.7L200.6 398.0L197.5 398.2L194.4 398.3L191.5 398.2L188.5 398.0L185.6 397.6L182.5 397.0L179.4 396.3L176.2 395.4L173.0 394.4L169.8 393.3L166.6 392.1L163.4 390.8L160.4 389.4L157.4 387.9L154.5 386.2L151.5 384.4L148.5 382.4L145.5 380.2L142.3 377.8L139.1 375.2L135.9 372.5L132.7 369.8L129.8 367.2L127.1 364.6L124.7 362.2L122.6 359.9L120.7 357.8L119.1 355.9L117.6 354.0L116.2 352.3L115.0 350.6L113.8 349.1L112.7 347.7L111.8 346.4L110.9 345.2L110.0 344.0" fill="none" stroke="#000" stroke-width="2.7" stroke-dasharray="5 4"/>
<path d="M351 292.8L432 298.2" fill="none" stroke="#fff" stroke-width="2"/><path d="M351 292.8L432 298.2" fill="none" stroke="#000" stroke-width="2.2" stroke-dasharray="4.5 4"/>
</g>
<g fill="none" stroke="#000" stroke-width="1">
<path d="M47 311.5H434M240.5 118V505"/>
<path d="M377.0 175.0L104.0 448.0"/>
<path d="M104.0 175.0L377.0 448.0"/>
<circle cx="240.5" cy="311.5" r="17.25"/>
<circle cx="240.5" cy="311.5" r="34.50"/>
<circle cx="240.5" cy="311.5" r="51.75"/>
</g>
<g fill="none" stroke-width="4.7">
<path d="M431.38 340.03 A193.00 193.00 0 0 0 365.07 164.09" stroke="#00f"/>
<path d="M365.07 164.09 A193.00 193.00 0 0 0 353.94 155.36" stroke="#000"/>
<path d="M353.94 155.36 A193.00 193.00 0 0 0 267.36 120.38" stroke="#f00"/>
<path d="M267.36 120.38 A193.00 193.00 0 0 0 254.97 119.04" stroke="#000"/>
<path d="M254.97 119.04 A193.00 193.00 0 0 0 105.22 449.16" stroke="#00f"/>
<path d="M105.22 449.16 A193.00 193.00 0 0 0 115.67 458.69" stroke="#000"/>
<path d="M115.67 458.69 A193.00 193.00 0 0 0 429.76 349.32" stroke="#f00"/>
<path d="M429.76 349.32 A193.00 193.00 0 0 0 431.38 340.03" stroke="#000"/>
</g>
<path d="M153.8 302.5L161.3 295.0L168.8 302.5L161.3 310.0Z" fill="#ffa000" stroke="#000" stroke-width="1.5"/>
<circle cx="187.5" cy="325.5" r="5.5" fill="#f00" stroke="#000" stroke-width="1.5"/>
<circle cx="408.5" cy="268.0" r="5.5" fill="#a52a2a" stroke="#000" stroke-width="1.5"/>
<circle cx="226.1" cy="309.2" r="5.0" fill="#ffa000" stroke="#000" stroke-width="1.5"/>
<rect x="239.3" y="325.8" width="11.0" height="11.0" fill="#008000" stroke="#000" stroke-width="1.5"/>
<circle cx="259.2" cy="294.8" r="5.5" fill="#008000" stroke="#000" stroke-width="1.5"/>
<path d="M263.2 314.0L270.7 306.5L278.2 314.0L270.7 321.5Z" fill="#000" stroke="#000" stroke-width="1.5"/>
<rect x="267.0" y="302.4" width="11.0" height="11.0" fill="#f00" stroke="#000" stroke-width="1.5"/>
<circle cx="275.2" cy="311.3" r="5.5" fill="#ff0" stroke="#000" stroke-width="1.5"/>
<path d="M240.1 321.5L248.0 313.6L255.9 321.5L248.0 329.4Z" fill="#f00" stroke="#000" stroke-width="1.5"/>
<path d="M238.2 301.5L246.1 293.6L254.0 301.5L246.1 309.4Z" fill="#ff0" stroke="#000" stroke-width="1.5"/>
<path d="M236.5 311.5l2.5-4.5h3.5l2 3z" fill="#00f"/><path d="M236 312l6 0.5l-1.5 4.5l-3-1z" fill="#f00"/><path d="M238 311.5l3-2l3 2.2l-2.2 3.3l-2.5-1z" fill="#fff"/>
<g id="whcs">
<path d="M540.0 225.8L560.7 248.3L577.3 274.7L584.8 299.9L587.5 311.5L588.7 330.6L585.1 349.7L574.7 370.5L559.9 384.9L539.8 396.9" fill="none" stroke="#fff" stroke-width="1.6"/>
<path d="M577.5 160.8L581.3 162.6L585.0 164.4L588.7 166.3L592.2 168.2L595.7 170.1L598.9 172.1L602.0 174.1L605.0 176.3L607.9 178.6L610.8 181.0L613.5 183.6L616.0 186.3L618.4 189.2L620.7 192.2L622.8 195.3L624.7 198.5L626.5 201.7L628.2 205.1L629.7 208.5L631.1 211.9L632.4 215.4L633.5 218.8L634.4 222.2L635.4 225.5L636.3 228.6L637.3 231.5L638.5 234.2L639.9 236.7L641.5 239.0L643.4 241.1L645.5 243.1L647.7 245.0L650.1 246.9L652.4 249.0L654.8 251.1L657.0 253.5L659.1 256.1L661.1 258.9L662.9 261.9L664.5 264.9L666.0 268.1L667.3 271.4L668.5 274.9L669.5 278.5L670.4 282.4L671.1 286.4L671.7 290.5L672.1 294.8L672.4 299.0L672.5 303.3L672.4 307.6L672.1 311.9L671.5 316.3L670.6 320.8L669.6 325.3L668.4 329.8L667.0 334.3L665.7 338.7L664.3 343.1L663.0 347.5L661.8 351.9L660.8 356.2L659.9 360.4L659.2 364.5L658.7 368.5L658.4 372.2L658.3 375.7L658.5 378.8L658.9 381.6L659.6 383.9L660.4 385.9L661.4 387.5L662.4 388.7L663.4 389.7L664.5 390.4L665.5 391.0" fill="none" stroke="#fff" stroke-width="1.6"/>
<path d="M507.5 341.0L511.5 335.0L513.3 325.0L514.3 312.5" fill="none" stroke="#fff" stroke-width="1.6"/>
</g>
<g fill="none" stroke="#000" stroke-width="1">
<path d="M490.5 118V505"/>
<path d="M490.50 505.00 A193.50 193.50 0 0 0 490.50 118.00"/>
<path d="M490.50 328.75 A17.25 17.25 0 0 0 490.50 294.25"/>
<path d="M490.50 346.00 A34.50 34.50 0 0 0 490.50 277.00"/>
<path d="M490.50 363.25 A51.75 51.75 0 0 0 490.50 259.75"/>
<path d="M490.5 311.5H684"/>
<path d="M490.5 311.5L627.0 175.0"/>
<path d="M490.5 311.5L627.0 448.0"/>
</g>
<g fill="none" stroke-width="3.7" stroke-linecap="butt">
<path d="M490.5 311.5L539.4 225.0" stroke="#00f"/>
<path d="M539.4 225.0L576.2 160.1" stroke="#f00"/>
<path d="M576.2 160.1L586.5 141.8" stroke="#00f"/>
<path d="M490.5 311.5L506.0 338.9" stroke="#f00"/>
<path d="M506.0 338.9L539.1 397.3" stroke="#00f"/>
<path d="M539.1 397.3L586.5 481.2" stroke="#f00"/>
<path d="M668.07 386.87 A192.90 192.90 0 0 0 584.02 142.79" stroke="#00f" stroke-width="4.6"/>
<path d="M664.61 394.55 A192.90 192.90 0 0 0 668.07 386.87" stroke="#000" stroke-width="4.6"/>
<path d="M584.02 480.21 A192.90 192.90 0 0 0 664.61 394.55" stroke="#f00" stroke-width="4.6"/>
</g>
<path d="M436 298.5L470 300L490 300.8" fill="none" stroke="#000" stroke-width="2.2" stroke-dasharray="5 4.4"/>
<path d="M496.7 302.5L520 303.8" fill="none" stroke="#fff" stroke-width="2"/><path d="M496.7 302.5L520 303.8" fill="none" stroke="#000" stroke-width="2.2" stroke-dasharray="4 3.5"/>
<path d="M495 310L518.5 309.6" fill="none" stroke="#fff" stroke-width="2"/><path d="M495 310L518.5 309.6" fill="none" stroke="#000" stroke-width="2.2" stroke-dasharray="4 3.5"/>
<path d="M530.5 306.3L538.5 305.8" fill="none" stroke="#fff" stroke-width="2"/><path d="M530.5 306.3L538.5 305.8" fill="none" stroke="#000" stroke-width="2.2" stroke-dasharray="4 3.5"/>
<circle cx="524.7" cy="308.2" r="5.5" fill="#ff0" stroke="#000" stroke-width="1.5"/>
<g id="rhcs">
<path d="M785.0 184.0L792.2 185.6L799.5 187.1L806.8 188.6L814.0 190.1L821.0 191.5L827.6 192.6L833.5 193.5L838.7 194.2L843.3 194.5L847.4 194.7L851.2 194.7L855.0 194.7L859.0 194.8L863.3 195.1L867.8 195.6L872.5 196.3L877.3 197.4L882.3 198.7L887.3 200.5L892.4 202.5L897.5 204.8L902.7 207.3L907.7 210.0L912.8 212.7" fill="none" stroke="#fff" stroke-width="1.8"/>
<path d="M914.2 312.5L908.9 313.9L903.5 315.4L898.3 316.9L893.2 318.4L888.3 320.0L883.7 321.5L879.2 323.0L875.0 324.3L870.8 325.3L866.7 326.1L862.6 326.6L858.7 326.9L854.9 327.0L851.4 327.0L848.1 327.1L845.3 327.5L843.0 328.3L841.3 329.6L840.1 331.4L839.5 333.7L839.5 336.4L840.1 339.5L841.3 342.6L842.8 345.8L844.8 348.7L847.1 351.6L849.7 354.2L852.4 356.6L855.3 358.9L858.2 361.3L861.1 363.7L863.8 366.2L866.2 369.0L868.4 372.1L870.3 375.5L871.8 379.2L872.9 383.3L873.6 387.5L873.9 391.9L873.8 396.3L873.4 400.6L872.5 404.6L871.3 408.4L869.6 411.8L867.6 414.9L865.2 417.5L862.6 419.7L859.6 421.5L856.4 423.1L853.0 424.4L849.6 425.6L846.2 426.7L842.9 427.8L839.7 429.1L836.6 430.6L833.7 432.4L831.0 434.5L828.5 436.7L826.2 438.8L824.2 440.8L822.5 442.4L820.9 443.6L819.4 444.3L817.9 444.6L816.2 444.7L814.3 444.4L812.2 444.1L810.0 443.8L807.6 443.6L805.1 443.7L802.5 444.0L800.0 444.6L797.4 445.5L795.0 446.5L792.8 447.7L790.9 448.8L789.3 449.8L787.9 450.6L786.8 451.4L785.8 452.0" fill="none" stroke="#fff" stroke-width="1.8"/>
</g>
<g fill="none" stroke="#000" stroke-width="1">
<path d="M754.5 119.5V503"/>
<path d="M802.5 119.5V503"/>
<path d="M850.5 119.5V503"/>
<path d="M898.5 119.5V503"/>
<path d="M946.5 119.5V503"/>
<path d="M754.5 119.5H946.5"/>
<path d="M754.5 167.5H946.5"/>
<path d="M754.5 215.5H946.5"/>
<path d="M754.5 263.5H946.5"/>
<path d="M754.5 311.5H946.5"/>
<path d="M754.5 359.5H946.5"/>
<path d="M754.5 407.5H946.5"/>
<path d="M754.5 455.5H946.5"/>
<path d="M754.5 503.5H946.5"/>
</g>
<g fill="none" stroke-width="3.6">
<path d="M786.0 120.7V183" stroke="#f00"/>
<path d="M786.0 183V452" stroke="#00f"/>
<path d="M786.0 452V503.3" stroke="#f00"/>
<path d="M914.0 120.7V213.5" stroke="#f00"/>
<path d="M914.0 213.5V311.5" stroke="#00f"/>
<path d="M914.0 311.5V503.3" stroke="#f00"/>
<path d="M786.0 122.5H914.0" stroke="#f00"/>
<path d="M786.0 501.5H914.0" stroke="#f00"/>
<path d="M786.0 181.5v3" stroke="#000"/>
<path d="M786.0 450.5v3" stroke="#000"/>
<path d="M914.0 212.0v3" stroke="#000"/>
<path d="M914.0 310.0v3" stroke="#000"/>
</g>
<rect x="838.8" y="301.3" width="10.0" height="10.0" fill="#f00" stroke="#000" stroke-width="1.5"/>
<circle cx="843.8" cy="311.5" r="5.5" fill="#ff0" stroke="#000" stroke-width="1.5"/>
<path d="M748 311.5H754.5" stroke="#000"/>
<ellipse cx="19.6" cy="48.0" rx="5.7" ry="5.1" fill="#ff0" stroke="#000" stroke-width="1.9"/>
<ellipse cx="135.0" cy="48.0" rx="5.7" ry="5.1" fill="#a52a2a" stroke="#000" stroke-width="1.9"/>
<ellipse cx="250.0" cy="48.0" rx="5.7" ry="5.1" fill="#f00" stroke="#000" stroke-width="1.9"/>
<ellipse cx="365.5" cy="48.0" rx="5.7" ry="5.1" fill="#ffa000" stroke="#000" stroke-width="1.9"/>
<ellipse cx="480.5" cy="48.0" rx="5.7" ry="5.1" fill="#008000" stroke="#000" stroke-width="1.9"/>
<path d="M587.5 47.7L595.5 39.8L603.5 47.7L595.5 55.7Z" fill="#ff0" stroke="#000" stroke-width="1.5"/>
<path d="M703.0 47.7L711.0 39.8L719.0 47.7L711.0 55.7Z" fill="#ffa000" stroke="#000" stroke-width="1.5"/>
<path d="M818.4 47.7L826.4 39.8L834.4 47.7L826.4 55.7Z" fill="#000" stroke="#000" stroke-width="1.5"/>
<rect x="14.0" y="67.0" width="11.3" height="10.1" fill="#008000" stroke="#000" stroke-width="1.9"/>
<path d="M127.0 72.0L135.0 64.0L142.9 72.0L135.0 80.0Z" fill="#f00" stroke="#000" stroke-width="1.5"/>
<rect x="244.3" y="67.0" width="11.3" height="10.1" fill="#f00" stroke="#000" stroke-width="1.9"/>
<defs><linearGradient id="cb" x1="0" x2="1" y1="0" y2="0">
<stop offset="0.0000" stop-color="#404088"/>
<stop offset="0.0214" stop-color="#4040a8"/>
<stop offset="0.0429" stop-color="#4040d0"/>
<stop offset="0.0614" stop-color="#4040ff"/>
<stop offset="0.0764" stop-color="#4080ff"/>
<stop offset="0.0871" stop-color="#4098ff"/>
<stop offset="0.0964" stop-color="#40b0ff"/>
<stop offset="0.1036" stop-color="#40d8ff"/>
<stop offset="0.1129" stop-color="#40dcff"/>
<stop offset="0.1221" stop-color="#00ffff"/>
<stop offset="0.1321" stop-color="#00f0d0"/>
<stop offset="0.1421" stop-color="#00e8b0"/>
<stop offset="0.1529" stop-color="#00d890"/>
<stop offset="0.1636" stop-color="#00d070"/>
<stop offset="0.1714" stop-color="#00cc48"/>
<stop offset="0.1786" stop-color="#00c828"/>
<stop offset="0.1871" stop-color="#00bc00"/>
<stop offset="0.1950" stop-color="#30c800"/>
<stop offset="0.2029" stop-color="#50d000"/>
<stop offset="0.2143" stop-color="#80dc00"/>
<stop offset="0.2236" stop-color="#a0e400"/>
<stop offset="0.2321" stop-color="#c0ec00"/>
<stop offset="0.2421" stop-color="#e0f800"/>
<stop offset="0.2529" stop-color="#ffff00"/>
<stop offset="0.2636" stop-color="#ffe800"/>
<stop offset="0.2736" stop-color="#ffd000"/>
<stop offset="0.2857" stop-color="#ffb800"/>
<stop offset="0.2964" stop-color="#ffa000"/>
<stop offset="0.3379" stop-color="#e04000"/>
<stop offset="0.3729" stop-color="#c00000"/>
<stop offset="0.4036" stop-color="#d03060"/>
<stop offset="0.4379" stop-color="#ff80ff"/>
<stop offset="0.4714" stop-color="#ffc0ff"/>
<stop offset="0.5000" stop-color="#ffffff"/>
<stop offset="1.0000" stop-color="#000000"/>
</linearGradient></defs>
<rect x="115" y="545" width="289.5" height="13" fill="url(#cb)"/>
<rect x="115.5" y="545.5" width="289" height="12" fill="none" stroke="#000"/>
<path d="M115.5 558V562" stroke="#000" fill="none"/>
<path d="M187.5 558V562" stroke="#000" fill="none"/>
<path d="M260.5 558V562" stroke="#000" fill="none"/>
<path d="M332.5 558V562" stroke="#000" fill="none"/>
<path d="M404.5 558V562" stroke="#000" fill="none"/>
<rect x="502" y="569" width="45.5" height="13" fill="#00f"/><rect x="547.5" y="569" width="45.5" height="13" fill="#f00"/>
<rect x="502" y="569.5" width="91" height="12.5" fill="none" stroke="#000"/>
<rect x="682" y="570" width="97" height="12" fill="#888"/><rect x="682" y="575" width="97" height="1.6" fill="#fff"/>
<rect x="850" y="570" width="87" height="12" fill="#d4d4d4"/>
<path d="M850 575.8H937" stroke="#000" stroke-width="2" stroke-dasharray="10.2 9" fill="none"/>
</svg>
<div class="t" style="left:10.5px;top:6.0px;font-size:21.80px;letter-spacing:1.52px;color:#555">2023&ndash;10&ndash;17T00:00</div>
<div class="t" style="left:638.4px;top:6.0px;font-size:21.80px;letter-spacing:1.85px;color:#555">2023&ndash;10&ndash;17T00 +0.00 day</div>
<div class="t" style="left:32.5px;top:39.9px;font-size:17.01px;letter-spacing:-0.54px">Earth</div>
<div class="t" style="left:147.5px;top:39.9px;font-size:17.01px;letter-spacing:0.12px">Jupiter</div>
<div class="t" style="left:262.5px;top:39.9px;font-size:17.01px;letter-spacing:-0.75px">Mars</div>
<div class="t" style="left:377.5px;top:39.9px;font-size:17.01px;letter-spacing:-0.15px">Mercury</div>
<div class="t" style="left:492.0px;top:39.9px;font-size:17.01px;letter-spacing:-0.44px">Venus</div>
<div class="t" style="left:608.8px;top:39.9px;font-size:17.01px;letter-spacing:-1.09px">Bepi</div>
<div class="t" style="left:723.2px;top:39.9px;font-size:17.01px;letter-spacing:-0.53px">Lucy</div>
<div class="t" style="left:838.5px;top:39.9px;font-size:17.01px;letter-spacing:-0.97px">OSIRIS&ndash;REx</div>
<div class="t" style="left:32.5px;top:63.6px;font-size:17.01px;letter-spacing:-0.40px">ParkerSP</div>
<div class="t" style="left:147.5px;top:63.6px;font-size:17.01px;letter-spacing:-1.78px">SolO</div>
<div class="t" style="left:262.5px;top:63.6px;font-size:17.01px;letter-spacing:-0.50px">Stereo_A</div>
<div class="t" style="left:61.8px;top:97.0px;font-size:16.86px;letter-spacing:0.23px">Ecliptic Plane</div>
<div class="t" style="left:224.6px;top:97.0px;font-size:16.86px;letter-spacing:-2.32px">W90</div>
<div class="t" style="left:313.0px;top:97.0px;font-size:16.86px;letter-spacing:0.88px">LAT = 2.20&deg;</div>
<div class="t" style="left:475.0px;top:97.0px;font-size:16.86px;letter-spacing:-0.72px">N90</div>
<div class="t" style="left:540.2px;top:97.0px;font-size:16.86px;letter-spacing:0.65px">LON = 0&deg;</div>
<div class="t" style="left:708.4px;top:102.7px;font-size:16.86px;letter-spacing:-0.87px">W180</div>
<div class="t" style="left:803.5px;top:97.0px;font-size:16.86px;letter-spacing:1.11px">R = 1.0 AU</div>
<div class="t" style="left:226.0px;top:510.2px;font-size:16.86px;letter-spacing:-0.51px">E90</div>
<div class="t" style="left:445.0px;top:304.0px;font-size:16.86px;letter-spacing:-1.10px">0&deg;</div>
<div class="t" style="left:689.0px;top:304.0px;font-size:16.86px;letter-spacing:-1.10px">0&deg;</div>
<div class="t" style="left:474.5px;top:511.2px;font-size:16.86px;letter-spacing:0.24px">S90</div>
<div class="t" style="left:711.2px;top:502.5px;font-size:16.86px;letter-spacing:-0.47px">E180</div>
<div class="t" style="left:755.4px;top:510.8px;font-size:16.86px;letter-spacing:-0.87px">N90</div>
<div class="t" style="left:841.7px;top:510.8px;font-size:16.86px;letter-spacing:0.20px">0&deg;</div>
<div class="t" style="left:915.4px;top:510.8px;font-size:16.86px;letter-spacing:0.19px">S90</div>
<div class="t" style="left:738.0px;top:304.2px;font-size:14.53px;letter-spacing:0.00px;color:#f00">1</div>
<div class="t" style="left:24.0px;top:544.0px;font-size:17.01px;letter-spacing:1.70px">Vr (km/s)</div>
<div class="t" style="left:100.8px;top:563.2px;font-size:17.01px;letter-spacing:0.00px">200</div>
<div class="t" style="left:172.3px;top:563.2px;font-size:17.01px;letter-spacing:0.15px">550</div>
<div class="t" style="left:245.7px;top:563.2px;font-size:17.01px;letter-spacing:-0.05px">900</div>
<div class="t" style="left:313.5px;top:563.2px;font-size:17.01px;letter-spacing:0.05px">1250</div>
<div class="t" style="left:385.0px;top:563.2px;font-size:17.01px;letter-spacing:-0.11px">1600</div>
<div class="t" style="left:5.0px;top:588.0px;font-size:11.63px;letter-spacing:0.16px">ENLIL-2.7 lowres-2276-a4b1 WSA_V2.2 GONGZ-2276</div>
<div class="t" style="left:502.5px;top:544.0px;font-size:17.01px;letter-spacing:0.05px">IMF polarity</div>
<div class="t" style="left:671.0px;top:544.0px;font-size:17.01px;letter-spacing:0.31px">Current sheath</div>
<div class="t" style="left:849.0px;top:544.0px;font-size:17.01px;letter-spacing:0.06px">3D IMF line</div>
<div class="t" style="left:481.0px;top:566.5px;font-size:20.06px;letter-spacing:0.00px">&minus;</div>
<div class="t" style="left:602.2px;top:566.5px;font-size:20.06px;letter-spacing:0.00px">+</div>
<div class="t" style="left:322.0px;top:587.3px;font-size:12.35px;letter-spacing:0.16px;color:#eee">UNIQUE1018155038/640x30x90x1.2276-a4b1.16-mcp1umn1cd-1.g53q5d2.gongz-2023-10-17T00&nbsp;&nbsp; 2023-10-18</div>
</body></html>
